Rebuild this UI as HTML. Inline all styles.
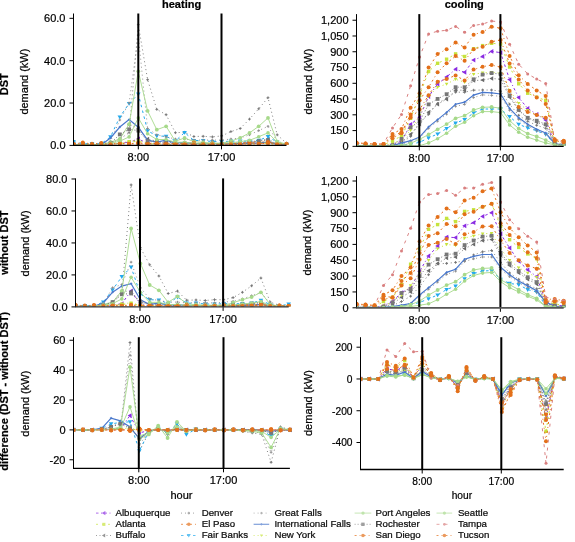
<!DOCTYPE html>
<html><head><meta charset="utf-8"><style>
html,body{margin:0;padding:0;background:#fff;width:575px;height:542px;overflow:hidden;position:relative}
text{stroke:#000;stroke-width:0.22px}
</style></head><body>
<svg width="575" height="542" viewBox="0 0 575 542" style="position:absolute;left:0;top:0;will-change:transform">
<g font-family='"Liberation Sans", sans-serif' font-size="11" fill="#000">
<clipPath id="cl_h1"><rect x="73.5" y="11.5" width="216.0" height="133.3"/></clipPath>
<g clip-path="url(#cl_h1)">
<path d="M73.5,144.8 L82.8,144.8 L92.0,144.8 L101.3,144.8 L110.5,144.3 L119.8,143.3 L129.1,142.2 L138.3,139.0 L147.6,143.3 L156.8,144.1 L166.1,144.3 L175.4,144.6 L184.6,144.6 L193.9,144.6 L203.2,144.6 L212.4,144.6 L221.7,144.6 L230.9,144.3 L240.2,144.1 L249.5,143.7 L258.7,143.3 L268.0,142.2 L277.2,144.6 L286.5,144.8" fill="none" stroke="#8a2be2" stroke-width="1" stroke-dasharray="2.5,2.5,1,2.5"/><path d="M75.2,142.4V147.2L71.1,144.8Z" fill="#8a2be2"/><path d="M84.4,142.4V147.2L80.4,144.8Z" fill="#8a2be2"/><path d="M93.7,142.4V147.2L89.6,144.8Z" fill="#8a2be2"/><path d="M103.0,142.4V147.2L98.9,144.8Z" fill="#8a2be2"/><path d="M112.2,141.9V146.7L108.1,144.3Z" fill="#8a2be2"/><path d="M121.5,140.9V145.7L117.4,143.3Z" fill="#8a2be2"/><path d="M130.7,139.8V144.6L126.7,142.2Z" fill="#8a2be2"/><path d="M140.0,136.6V141.4L135.9,139.0Z" fill="#8a2be2"/><path d="M149.3,140.9V145.7L145.2,143.3Z" fill="#8a2be2"/><path d="M158.5,141.7V146.5L154.4,144.1Z" fill="#8a2be2"/><path d="M167.8,141.9V146.7L163.7,144.3Z" fill="#8a2be2"/><path d="M177.0,142.2V147.0L173.0,144.6Z" fill="#8a2be2"/><path d="M186.3,142.2V147.0L182.2,144.6Z" fill="#8a2be2"/><path d="M195.6,142.2V147.0L191.5,144.6Z" fill="#8a2be2"/><path d="M204.8,142.2V147.0L200.8,144.6Z" fill="#8a2be2"/><path d="M214.1,142.2V147.0L210.0,144.6Z" fill="#8a2be2"/><path d="M223.4,142.2V147.0L219.3,144.6Z" fill="#8a2be2"/><path d="M232.6,141.9V146.7L228.5,144.3Z" fill="#8a2be2"/><path d="M241.9,141.7V146.5L237.8,144.1Z" fill="#8a2be2"/><path d="M251.1,141.3V146.1L247.1,143.7Z" fill="#8a2be2"/><path d="M260.4,140.9V145.7L256.3,143.3Z" fill="#8a2be2"/><path d="M269.7,139.8V144.6L265.6,142.2Z" fill="#8a2be2"/><path d="M278.9,142.2V147.0L274.8,144.6Z" fill="#8a2be2"/><path d="M288.2,142.4V147.2L284.1,144.8Z" fill="#8a2be2"/>
<path d="M73.5,144.8 L82.8,144.8 L92.0,144.8 L101.3,144.8 L110.5,144.3 L119.8,143.7 L129.1,142.2 L138.3,141.2 L147.6,143.7 L156.8,144.3 L166.1,144.6 L175.4,144.8 L184.6,144.8 L193.9,144.8 L203.2,144.8 L212.4,144.8 L221.7,144.8 L230.9,144.6 L240.2,144.3 L249.5,144.1 L258.7,143.7 L268.0,143.3 L277.2,144.8 L286.5,144.8" fill="none" stroke="#c6e33c" stroke-width="1" stroke-dasharray="2,4"/><rect x="71.8" y="143.1" width="3.4" height="3.4" fill="#c6e33c"/><rect x="81.1" y="143.1" width="3.4" height="3.4" fill="#c6e33c"/><rect x="90.3" y="143.1" width="3.4" height="3.4" fill="#c6e33c"/><rect x="99.6" y="143.1" width="3.4" height="3.4" fill="#c6e33c"/><rect x="108.8" y="142.6" width="3.4" height="3.4" fill="#c6e33c"/><rect x="118.1" y="142.0" width="3.4" height="3.4" fill="#c6e33c"/><rect x="127.4" y="140.5" width="3.4" height="3.4" fill="#c6e33c"/><rect x="136.6" y="139.5" width="3.4" height="3.4" fill="#c6e33c"/><rect x="145.9" y="142.0" width="3.4" height="3.4" fill="#c6e33c"/><rect x="155.1" y="142.6" width="3.4" height="3.4" fill="#c6e33c"/><rect x="164.4" y="142.9" width="3.4" height="3.4" fill="#c6e33c"/><rect x="173.7" y="143.1" width="3.4" height="3.4" fill="#c6e33c"/><rect x="182.9" y="143.1" width="3.4" height="3.4" fill="#c6e33c"/><rect x="192.2" y="143.1" width="3.4" height="3.4" fill="#c6e33c"/><rect x="201.5" y="143.1" width="3.4" height="3.4" fill="#c6e33c"/><rect x="210.7" y="143.1" width="3.4" height="3.4" fill="#c6e33c"/><rect x="220.0" y="143.1" width="3.4" height="3.4" fill="#c6e33c"/><rect x="229.2" y="142.9" width="3.4" height="3.4" fill="#c6e33c"/><rect x="238.5" y="142.6" width="3.4" height="3.4" fill="#c6e33c"/><rect x="247.8" y="142.4" width="3.4" height="3.4" fill="#c6e33c"/><rect x="257.0" y="142.0" width="3.4" height="3.4" fill="#c6e33c"/><rect x="266.3" y="141.6" width="3.4" height="3.4" fill="#c6e33c"/><rect x="275.5" y="143.1" width="3.4" height="3.4" fill="#c6e33c"/><rect x="284.8" y="143.1" width="3.4" height="3.4" fill="#c6e33c"/>
<path d="M73.5,145.0 L82.8,145.0 L92.0,145.0 L101.3,145.0 L110.5,143.7 L119.8,139.0 L129.1,124.2 L138.3,128.5 L147.6,139.0 L156.8,141.2 L166.1,142.2 L175.4,143.3 L184.6,143.3 L193.9,143.7 L203.2,143.7 L212.4,143.7 L221.7,143.7 L230.9,143.3 L240.2,142.9 L249.5,142.0 L258.7,140.7 L268.0,139.0 L277.2,144.3 L286.5,145.0" fill="none" stroke="#6a6a6a" stroke-width="0.9" stroke-dasharray="1,2.5"/><path d="M75.0,142.8V147.2L71.3,145.0Z" fill="#6a6a6a"/><path d="M84.3,142.8V147.2L80.6,145.0Z" fill="#6a6a6a"/><path d="M93.6,142.8V147.2L89.8,145.0Z" fill="#6a6a6a"/><path d="M102.8,142.8V147.2L99.1,145.0Z" fill="#6a6a6a"/><path d="M112.1,141.5V145.9L108.3,143.7Z" fill="#6a6a6a"/><path d="M121.3,136.8V141.2L117.6,139.0Z" fill="#6a6a6a"/><path d="M130.6,122.0V126.4L126.9,124.2Z" fill="#6a6a6a"/><path d="M139.9,126.3V130.7L136.1,128.5Z" fill="#6a6a6a"/><path d="M149.1,136.8V141.2L145.4,139.0Z" fill="#6a6a6a"/><path d="M158.4,139.0V143.4L154.6,141.2Z" fill="#6a6a6a"/><path d="M167.6,140.0V144.4L163.9,142.2Z" fill="#6a6a6a"/><path d="M176.9,141.1V145.5L173.2,143.3Z" fill="#6a6a6a"/><path d="M186.2,141.1V145.5L182.4,143.3Z" fill="#6a6a6a"/><path d="M195.4,141.5V145.9L191.7,143.7Z" fill="#6a6a6a"/><path d="M204.7,141.5V145.9L201.0,143.7Z" fill="#6a6a6a"/><path d="M214.0,141.5V145.9L210.2,143.7Z" fill="#6a6a6a"/><path d="M223.2,141.5V145.9L219.5,143.7Z" fill="#6a6a6a"/><path d="M232.5,141.1V145.5L228.7,143.3Z" fill="#6a6a6a"/><path d="M241.7,140.7V145.1L238.0,142.9Z" fill="#6a6a6a"/><path d="M251.0,139.8V144.2L247.3,142.0Z" fill="#6a6a6a"/><path d="M260.3,138.5V142.9L256.5,140.7Z" fill="#6a6a6a"/><path d="M269.5,136.8V141.2L265.8,139.0Z" fill="#6a6a6a"/><path d="M278.8,142.1V146.5L275.0,144.3Z" fill="#6a6a6a"/><path d="M288.0,142.8V147.2L284.3,145.0Z" fill="#6a6a6a"/>
<path d="M73.5,144.3 L82.8,144.3 L92.0,144.3 L101.3,144.1 L110.5,143.3 L119.8,139.0 L129.1,132.7 L138.3,24.7 L147.6,79.7 L156.8,109.4 L166.1,114.7 L175.4,132.7 L184.6,132.3 L193.9,136.5 L203.2,136.3 L212.4,136.9 L221.7,135.9 L230.9,131.6 L240.2,128.5 L249.5,119.1 L258.7,108.8 L268.0,97.7 L277.2,134.8 L286.5,143.3" fill="none" stroke="#707070" stroke-width="0.9" stroke-dasharray="1,3"/><path d="M72.1,144.3H74.9M73.5,142.9V145.7" stroke="#707070" stroke-width="0.9" fill="none"/><path d="M81.4,144.3H84.2M82.8,142.9V145.7" stroke="#707070" stroke-width="0.9" fill="none"/><path d="M90.6,144.3H93.4M92.0,142.9V145.7" stroke="#707070" stroke-width="0.9" fill="none"/><path d="M99.9,144.1H102.7M101.3,142.7V145.5" stroke="#707070" stroke-width="0.9" fill="none"/><path d="M109.1,143.3H111.9M110.5,141.9V144.7" stroke="#707070" stroke-width="0.9" fill="none"/><path d="M118.4,139.0H121.2M119.8,137.6V140.4" stroke="#707070" stroke-width="0.9" fill="none"/><path d="M127.7,132.7H130.5M129.1,131.3V134.1" stroke="#707070" stroke-width="0.9" fill="none"/><path d="M136.9,24.7H139.7M138.3,23.3V26.1" stroke="#707070" stroke-width="0.9" fill="none"/><path d="M146.2,79.7H149.0M147.6,78.3V81.1" stroke="#707070" stroke-width="0.9" fill="none"/><path d="M155.4,109.4H158.2M156.8,108.0V110.8" stroke="#707070" stroke-width="0.9" fill="none"/><path d="M164.7,114.7H167.5M166.1,113.3V116.1" stroke="#707070" stroke-width="0.9" fill="none"/><path d="M174.0,132.7H176.8M175.4,131.3V134.1" stroke="#707070" stroke-width="0.9" fill="none"/><path d="M183.2,132.3H186.0M184.6,130.9V133.7" stroke="#707070" stroke-width="0.9" fill="none"/><path d="M192.5,136.5H195.3M193.9,135.1V137.9" stroke="#707070" stroke-width="0.9" fill="none"/><path d="M201.8,136.3H204.6M203.2,134.9V137.7" stroke="#707070" stroke-width="0.9" fill="none"/><path d="M211.0,136.9H213.8M212.4,135.5V138.3" stroke="#707070" stroke-width="0.9" fill="none"/><path d="M220.3,135.9H223.1M221.7,134.5V137.3" stroke="#707070" stroke-width="0.9" fill="none"/><path d="M229.5,131.6H232.3M230.9,130.2V133.0" stroke="#707070" stroke-width="0.9" fill="none"/><path d="M238.8,128.5H241.6M240.2,127.1V129.9" stroke="#707070" stroke-width="0.9" fill="none"/><path d="M248.1,119.1H250.9M249.5,117.7V120.5" stroke="#707070" stroke-width="0.9" fill="none"/><path d="M257.3,108.8H260.1M258.7,107.4V110.2" stroke="#707070" stroke-width="0.9" fill="none"/><path d="M266.6,97.7H269.4M268.0,96.3V99.1" stroke="#707070" stroke-width="0.9" fill="none"/><path d="M275.8,134.8H278.6M277.2,133.4V136.2" stroke="#707070" stroke-width="0.9" fill="none"/><path d="M285.1,143.3H287.9M286.5,141.9V144.7" stroke="#707070" stroke-width="0.9" fill="none"/>
<path d="M73.5,143.7 L82.8,143.5 L92.0,143.7 L101.3,143.5 L110.5,143.7 L119.8,142.9 L129.1,143.3 L138.3,143.5 L147.6,142.9 L156.8,143.7 L166.1,143.1 L175.4,143.7 L184.6,142.9 L193.9,143.7 L203.2,143.3 L212.4,143.5 L221.7,143.5 L230.9,143.3 L240.2,143.1 L249.5,142.4 L258.7,142.0 L268.0,142.2 L277.2,143.5 L286.5,143.7" fill="none" stroke="#e3701a" stroke-width="1" stroke-dasharray="2,3,1,3"/><circle cx="73.5" cy="143.7" r="2.0" fill="#e3701a"/><circle cx="82.8" cy="143.5" r="2.0" fill="#e3701a"/><circle cx="92.0" cy="143.7" r="2.0" fill="#e3701a"/><circle cx="101.3" cy="143.5" r="2.0" fill="#e3701a"/><circle cx="110.5" cy="143.7" r="2.0" fill="#e3701a"/><circle cx="119.8" cy="142.9" r="2.0" fill="#e3701a"/><circle cx="129.1" cy="143.3" r="2.0" fill="#e3701a"/><circle cx="138.3" cy="143.5" r="2.0" fill="#e3701a"/><circle cx="147.6" cy="142.9" r="2.0" fill="#e3701a"/><circle cx="156.8" cy="143.7" r="2.0" fill="#e3701a"/><circle cx="166.1" cy="143.1" r="2.0" fill="#e3701a"/><circle cx="175.4" cy="143.7" r="2.0" fill="#e3701a"/><circle cx="184.6" cy="142.9" r="2.0" fill="#e3701a"/><circle cx="193.9" cy="143.7" r="2.0" fill="#e3701a"/><circle cx="203.2" cy="143.3" r="2.0" fill="#e3701a"/><circle cx="212.4" cy="143.5" r="2.0" fill="#e3701a"/><circle cx="221.7" cy="143.5" r="2.0" fill="#e3701a"/><circle cx="230.9" cy="143.3" r="2.0" fill="#e3701a"/><circle cx="240.2" cy="143.1" r="2.0" fill="#e3701a"/><circle cx="249.5" cy="142.4" r="2.0" fill="#e3701a"/><circle cx="258.7" cy="142.0" r="2.0" fill="#e3701a"/><circle cx="268.0" cy="142.2" r="2.0" fill="#e3701a"/><circle cx="277.2" cy="143.5" r="2.0" fill="#e3701a"/><circle cx="286.5" cy="143.7" r="2.0" fill="#e3701a"/>
<path d="M73.5,141.6 L82.8,143.7 L92.0,143.7 L101.3,143.7 L110.5,136.9 L119.8,117.0 L129.1,103.5 L138.3,94.1 L147.6,130.8 L156.8,135.9 L166.1,136.3 L175.4,141.0 L184.6,132.5 L193.9,140.5 L203.2,140.5 L212.4,141.6 L221.7,141.6 L230.9,141.2 L240.2,141.2 L249.5,141.2 L258.7,140.3 L268.0,136.7 L277.2,142.2 L286.5,144.3" fill="none" stroke="#22aaee" stroke-width="1" stroke-dasharray="2.5,3.5"/><path d="M71.2,140.0H75.8L73.5,143.9Z" fill="#22aaee"/><path d="M80.5,142.1H85.1L82.8,146.0Z" fill="#22aaee"/><path d="M89.7,142.1H94.3L92.0,146.0Z" fill="#22aaee"/><path d="M99.0,142.1H103.6L101.3,146.0Z" fill="#22aaee"/><path d="M108.2,135.3H112.8L110.5,139.2Z" fill="#22aaee"/><path d="M117.5,115.4H122.1L119.8,119.3Z" fill="#22aaee"/><path d="M126.8,101.9H131.4L129.1,105.8Z" fill="#22aaee"/><path d="M136.0,92.5H140.6L138.3,96.4Z" fill="#22aaee"/><path d="M145.3,129.2H149.9L147.6,133.1Z" fill="#22aaee"/><path d="M154.5,134.3H159.1L156.8,138.2Z" fill="#22aaee"/><path d="M163.8,134.7H168.4L166.1,138.6Z" fill="#22aaee"/><path d="M173.1,139.3H177.7L175.4,143.3Z" fill="#22aaee"/><path d="M182.3,130.9H186.9L184.6,134.8Z" fill="#22aaee"/><path d="M191.6,138.9H196.2L193.9,142.8Z" fill="#22aaee"/><path d="M200.9,138.9H205.5L203.2,142.8Z" fill="#22aaee"/><path d="M210.1,140.0H214.7L212.4,143.9Z" fill="#22aaee"/><path d="M219.4,140.0H224.0L221.7,143.9Z" fill="#22aaee"/><path d="M228.6,139.6H233.2L230.9,143.5Z" fill="#22aaee"/><path d="M237.9,139.6H242.5L240.2,143.5Z" fill="#22aaee"/><path d="M247.2,139.6H251.8L249.5,143.5Z" fill="#22aaee"/><path d="M256.4,138.7H261.0L258.7,142.6Z" fill="#22aaee"/><path d="M265.7,135.1H270.3L268.0,139.0Z" fill="#22aaee"/><path d="M274.9,140.6H279.5L277.2,144.5Z" fill="#22aaee"/><path d="M284.2,142.7H288.8L286.5,146.6Z" fill="#22aaee"/>
<path d="M73.5,144.8 L82.8,144.8 L92.0,144.8 L101.3,144.6 L110.5,141.2 L119.8,120.0 L129.1,103.0 L138.3,35.3 L147.6,128.5 L156.8,134.8 L166.1,136.9 L175.4,139.0 L184.6,139.0 L193.9,140.1 L203.2,140.1 L212.4,140.1 L221.7,140.1 L230.9,139.0 L240.2,138.0 L249.5,134.8 L258.7,130.6 L268.0,126.3 L277.2,141.2 L286.5,144.3" fill="none" stroke="#8a8a8a" stroke-width="0.9" stroke-dasharray="1,3"/><path d="M72.2,144.8H74.8M73.5,143.5V146.1" stroke="#8a8a8a" stroke-width="0.9" fill="none"/><path d="M81.5,144.8H84.1M82.8,143.5V146.1" stroke="#8a8a8a" stroke-width="0.9" fill="none"/><path d="M90.7,144.8H93.3M92.0,143.5V146.1" stroke="#8a8a8a" stroke-width="0.9" fill="none"/><path d="M100.0,144.6H102.6M101.3,143.3V145.9" stroke="#8a8a8a" stroke-width="0.9" fill="none"/><path d="M109.2,141.2H111.8M110.5,139.9V142.5" stroke="#8a8a8a" stroke-width="0.9" fill="none"/><path d="M118.5,120.0H121.1M119.8,118.7V121.3" stroke="#8a8a8a" stroke-width="0.9" fill="none"/><path d="M127.8,103.0H130.4M129.1,101.7V104.3" stroke="#8a8a8a" stroke-width="0.9" fill="none"/><path d="M137.0,35.3H139.6M138.3,34.0V36.6" stroke="#8a8a8a" stroke-width="0.9" fill="none"/><path d="M146.3,128.5H148.9M147.6,127.2V129.8" stroke="#8a8a8a" stroke-width="0.9" fill="none"/><path d="M155.5,134.8H158.1M156.8,133.5V136.1" stroke="#8a8a8a" stroke-width="0.9" fill="none"/><path d="M164.8,136.9H167.4M166.1,135.6V138.2" stroke="#8a8a8a" stroke-width="0.9" fill="none"/><path d="M174.1,139.0H176.7M175.4,137.7V140.3" stroke="#8a8a8a" stroke-width="0.9" fill="none"/><path d="M183.3,139.0H185.9M184.6,137.7V140.3" stroke="#8a8a8a" stroke-width="0.9" fill="none"/><path d="M192.6,140.1H195.2M193.9,138.8V141.4" stroke="#8a8a8a" stroke-width="0.9" fill="none"/><path d="M201.9,140.1H204.5M203.2,138.8V141.4" stroke="#8a8a8a" stroke-width="0.9" fill="none"/><path d="M211.1,140.1H213.7M212.4,138.8V141.4" stroke="#8a8a8a" stroke-width="0.9" fill="none"/><path d="M220.4,140.1H223.0M221.7,138.8V141.4" stroke="#8a8a8a" stroke-width="0.9" fill="none"/><path d="M229.6,139.0H232.2M230.9,137.7V140.3" stroke="#8a8a8a" stroke-width="0.9" fill="none"/><path d="M238.9,138.0H241.5M240.2,136.7V139.3" stroke="#8a8a8a" stroke-width="0.9" fill="none"/><path d="M248.2,134.8H250.8M249.5,133.5V136.1" stroke="#8a8a8a" stroke-width="0.9" fill="none"/><path d="M257.4,130.6H260.0M258.7,129.3V131.9" stroke="#8a8a8a" stroke-width="0.9" fill="none"/><path d="M266.7,126.3H269.3M268.0,125.0V127.6" stroke="#8a8a8a" stroke-width="0.9" fill="none"/><path d="M275.9,141.2H278.5M277.2,139.9V142.5" stroke="#8a8a8a" stroke-width="0.9" fill="none"/><path d="M285.2,144.3H287.8M286.5,143.0V145.6" stroke="#8a8a8a" stroke-width="0.9" fill="none"/>
<path d="M73.5,144.8 L82.8,144.8 L92.0,144.8 L101.3,144.8 L110.5,138.0 L119.8,127.0 L129.1,119.6 L138.3,127.2 L147.6,140.1 L156.8,142.2 L166.1,140.1 L175.4,143.1 L184.6,142.4 L193.9,143.5 L203.2,143.7 L212.4,143.7 L221.7,143.7 L230.9,143.7 L240.2,143.5 L249.5,143.3 L258.7,142.9 L268.0,142.2 L277.2,144.3 L286.5,144.8" fill="none" stroke="#4a78cc" stroke-width="1.2"/><path d="M72.3,144.8H74.7M73.5,143.6V146.0" stroke="#4a78cc" stroke-width="0.9" fill="none"/><path d="M81.6,144.8H84.0M82.8,143.6V146.0" stroke="#4a78cc" stroke-width="0.9" fill="none"/><path d="M90.8,144.8H93.2M92.0,143.6V146.0" stroke="#4a78cc" stroke-width="0.9" fill="none"/><path d="M100.1,144.8H102.5M101.3,143.6V146.0" stroke="#4a78cc" stroke-width="0.9" fill="none"/><path d="M109.3,138.0H111.7M110.5,136.8V139.2" stroke="#4a78cc" stroke-width="0.9" fill="none"/><path d="M118.6,127.0H121.0M119.8,125.8V128.2" stroke="#4a78cc" stroke-width="0.9" fill="none"/><path d="M127.9,119.6H130.3M129.1,118.4V120.8" stroke="#4a78cc" stroke-width="0.9" fill="none"/><path d="M137.1,127.2H139.5M138.3,126.0V128.4" stroke="#4a78cc" stroke-width="0.9" fill="none"/><path d="M146.4,140.1H148.8M147.6,138.9V141.3" stroke="#4a78cc" stroke-width="0.9" fill="none"/><path d="M155.6,142.2H158.0M156.8,141.0V143.4" stroke="#4a78cc" stroke-width="0.9" fill="none"/><path d="M164.9,140.1H167.3M166.1,138.9V141.3" stroke="#4a78cc" stroke-width="0.9" fill="none"/><path d="M174.2,143.1H176.6M175.4,141.9V144.3" stroke="#4a78cc" stroke-width="0.9" fill="none"/><path d="M183.4,142.4H185.8M184.6,141.2V143.6" stroke="#4a78cc" stroke-width="0.9" fill="none"/><path d="M192.7,143.5H195.1M193.9,142.3V144.7" stroke="#4a78cc" stroke-width="0.9" fill="none"/><path d="M202.0,143.7H204.4M203.2,142.5V144.9" stroke="#4a78cc" stroke-width="0.9" fill="none"/><path d="M211.2,143.7H213.6M212.4,142.5V144.9" stroke="#4a78cc" stroke-width="0.9" fill="none"/><path d="M220.5,143.7H222.9M221.7,142.5V144.9" stroke="#4a78cc" stroke-width="0.9" fill="none"/><path d="M229.7,143.7H232.1M230.9,142.5V144.9" stroke="#4a78cc" stroke-width="0.9" fill="none"/><path d="M239.0,143.5H241.4M240.2,142.3V144.7" stroke="#4a78cc" stroke-width="0.9" fill="none"/><path d="M248.3,143.3H250.7M249.5,142.1V144.5" stroke="#4a78cc" stroke-width="0.9" fill="none"/><path d="M257.5,142.9H259.9M258.7,141.7V144.1" stroke="#4a78cc" stroke-width="0.9" fill="none"/><path d="M266.8,142.2H269.2M268.0,141.0V143.4" stroke="#4a78cc" stroke-width="0.9" fill="none"/><path d="M276.0,144.3H278.4M277.2,143.1V145.5" stroke="#4a78cc" stroke-width="0.9" fill="none"/><path d="M285.3,144.8H287.7M286.5,143.6V146.0" stroke="#4a78cc" stroke-width="0.9" fill="none"/>
<path d="M73.5,144.8 L82.8,144.8 L92.0,144.8 L101.3,144.8 L110.5,144.3 L119.8,143.3 L129.1,141.2 L138.3,140.1 L147.6,143.3 L156.8,144.1 L166.1,144.3 L175.4,144.6 L184.6,144.6 L193.9,144.6 L203.2,144.6 L212.4,144.6 L221.7,144.6 L230.9,144.3 L240.2,143.9 L249.5,143.5 L258.7,142.9 L268.0,142.0 L277.2,144.6 L286.5,144.8" fill="none" stroke="#c6e33c" stroke-width="1" stroke-dasharray="1,3"/><path d="M71.7,143.5H75.3L73.5,146.6Z" fill="#c6e33c"/><path d="M81.0,143.5H84.6L82.8,146.6Z" fill="#c6e33c"/><path d="M90.2,143.5H93.8L92.0,146.6Z" fill="#c6e33c"/><path d="M99.5,143.5H103.1L101.3,146.6Z" fill="#c6e33c"/><path d="M108.7,143.1H112.3L110.5,146.1Z" fill="#c6e33c"/><path d="M118.0,142.0H121.6L119.8,145.1Z" fill="#c6e33c"/><path d="M127.3,139.9H130.9L129.1,143.0Z" fill="#c6e33c"/><path d="M136.5,138.8H140.1L138.3,141.9Z" fill="#c6e33c"/><path d="M145.8,142.0H149.4L147.6,145.1Z" fill="#c6e33c"/><path d="M155.0,142.9H158.6L156.8,145.9Z" fill="#c6e33c"/><path d="M164.3,143.1H167.9L166.1,146.1Z" fill="#c6e33c"/><path d="M173.6,143.3H177.2L175.4,146.4Z" fill="#c6e33c"/><path d="M182.8,143.3H186.4L184.6,146.4Z" fill="#c6e33c"/><path d="M192.1,143.3H195.7L193.9,146.4Z" fill="#c6e33c"/><path d="M201.4,143.3H205.0L203.2,146.4Z" fill="#c6e33c"/><path d="M210.6,143.3H214.2L212.4,146.4Z" fill="#c6e33c"/><path d="M219.9,143.3H223.5L221.7,146.4Z" fill="#c6e33c"/><path d="M229.1,143.1H232.7L230.9,146.1Z" fill="#c6e33c"/><path d="M238.4,142.7H242.0L240.2,145.7Z" fill="#c6e33c"/><path d="M247.7,142.2H251.3L249.5,145.3Z" fill="#c6e33c"/><path d="M256.9,141.6H260.5L258.7,144.7Z" fill="#c6e33c"/><path d="M266.2,140.8H269.8L268.0,143.8Z" fill="#c6e33c"/><path d="M275.4,143.3H279.0L277.2,146.4Z" fill="#c6e33c"/><path d="M284.7,143.5H288.3L286.5,146.6Z" fill="#c6e33c"/>
<path d="M73.5,144.8 L82.8,144.8 L92.0,144.8 L101.3,144.6 L110.5,142.2 L119.8,139.0 L129.1,124.2 L138.3,71.3 L147.6,110.9 L156.8,129.7 L166.1,126.3 L175.4,141.2 L184.6,138.0 L193.9,141.6 L203.2,142.4 L212.4,143.3 L221.7,143.3 L230.9,141.2 L240.2,137.8 L249.5,132.9 L258.7,126.3 L268.0,117.9 L277.2,141.6 L286.5,144.3" fill="none" stroke="#a6d98a" stroke-width="0.9"/><circle cx="73.5" cy="144.8" r="1.9" fill="#a6d98a"/><circle cx="82.8" cy="144.8" r="1.9" fill="#a6d98a"/><circle cx="92.0" cy="144.8" r="1.9" fill="#a6d98a"/><circle cx="101.3" cy="144.6" r="1.9" fill="#a6d98a"/><circle cx="110.5" cy="142.2" r="1.9" fill="#a6d98a"/><circle cx="119.8" cy="139.0" r="1.9" fill="#a6d98a"/><circle cx="129.1" cy="124.2" r="1.9" fill="#a6d98a"/><circle cx="138.3" cy="71.3" r="1.9" fill="#a6d98a"/><circle cx="147.6" cy="110.9" r="1.9" fill="#a6d98a"/><circle cx="156.8" cy="129.7" r="1.9" fill="#a6d98a"/><circle cx="166.1" cy="126.3" r="1.9" fill="#a6d98a"/><circle cx="175.4" cy="141.2" r="1.9" fill="#a6d98a"/><circle cx="184.6" cy="138.0" r="1.9" fill="#a6d98a"/><circle cx="193.9" cy="141.6" r="1.9" fill="#a6d98a"/><circle cx="203.2" cy="142.4" r="1.9" fill="#a6d98a"/><circle cx="212.4" cy="143.3" r="1.9" fill="#a6d98a"/><circle cx="221.7" cy="143.3" r="1.9" fill="#a6d98a"/><circle cx="230.9" cy="141.2" r="1.9" fill="#a6d98a"/><circle cx="240.2" cy="137.8" r="1.9" fill="#a6d98a"/><circle cx="249.5" cy="132.9" r="1.9" fill="#a6d98a"/><circle cx="258.7" cy="126.3" r="1.9" fill="#a6d98a"/><circle cx="268.0" cy="117.9" r="1.9" fill="#a6d98a"/><circle cx="277.2" cy="141.6" r="1.9" fill="#a6d98a"/><circle cx="286.5" cy="144.3" r="1.9" fill="#a6d98a"/>
<path d="M73.5,145.0 L82.8,145.0 L92.0,145.0 L101.3,145.0 L110.5,143.3 L119.8,134.4 L129.1,129.3 L138.3,130.6 L147.6,141.2 L156.8,142.2 L166.1,142.9 L175.4,143.7 L184.6,143.7 L193.9,144.1 L203.2,144.1 L212.4,144.1 L221.7,144.1 L230.9,143.7 L240.2,143.3 L249.5,142.2 L258.7,141.2 L268.0,140.1 L277.2,144.3 L286.5,145.0" fill="none" stroke="#777777" stroke-width="1" stroke-dasharray="1,2"/><rect x="71.6" y="143.1" width="3.8" height="3.8" fill="#777777"/><rect x="80.9" y="143.1" width="3.8" height="3.8" fill="#777777"/><rect x="90.1" y="143.1" width="3.8" height="3.8" fill="#777777"/><rect x="99.4" y="143.1" width="3.8" height="3.8" fill="#777777"/><rect x="108.6" y="141.4" width="3.8" height="3.8" fill="#777777"/><rect x="117.9" y="132.5" width="3.8" height="3.8" fill="#777777"/><rect x="127.2" y="127.4" width="3.8" height="3.8" fill="#777777"/><rect x="136.4" y="128.7" width="3.8" height="3.8" fill="#777777"/><rect x="145.7" y="139.3" width="3.8" height="3.8" fill="#777777"/><rect x="154.9" y="140.3" width="3.8" height="3.8" fill="#777777"/><rect x="164.2" y="141.0" width="3.8" height="3.8" fill="#777777"/><rect x="173.5" y="141.8" width="3.8" height="3.8" fill="#777777"/><rect x="182.7" y="141.8" width="3.8" height="3.8" fill="#777777"/><rect x="192.0" y="142.2" width="3.8" height="3.8" fill="#777777"/><rect x="201.3" y="142.2" width="3.8" height="3.8" fill="#777777"/><rect x="210.5" y="142.2" width="3.8" height="3.8" fill="#777777"/><rect x="219.8" y="142.2" width="3.8" height="3.8" fill="#777777"/><rect x="229.0" y="141.8" width="3.8" height="3.8" fill="#777777"/><rect x="238.3" y="141.4" width="3.8" height="3.8" fill="#777777"/><rect x="247.6" y="140.3" width="3.8" height="3.8" fill="#777777"/><rect x="256.8" y="139.3" width="3.8" height="3.8" fill="#777777"/><rect x="266.1" y="138.2" width="3.8" height="3.8" fill="#777777"/><rect x="275.3" y="142.4" width="3.8" height="3.8" fill="#777777"/><rect x="284.6" y="143.1" width="3.8" height="3.8" fill="#777777"/>
<path d="M73.5,144.1 L82.8,142.4 L92.0,144.1 L101.3,142.9 L110.5,144.1 L119.8,143.3 L129.1,144.1 L138.3,142.6 L147.6,144.1 L156.8,143.3 L166.1,144.1 L175.4,143.3 L184.6,144.1 L193.9,142.6 L203.2,144.1 L212.4,143.3 L221.7,144.1 L230.9,142.9 L240.2,143.9 L249.5,142.4 L258.7,143.9 L268.0,142.0 L277.2,144.1 L286.5,143.7" fill="none" stroke="#e3701a" stroke-width="1" stroke-dasharray="2,3,1,3"/><circle cx="73.5" cy="144.1" r="2.0" fill="#e3701a"/><circle cx="82.8" cy="142.4" r="2.0" fill="#e3701a"/><circle cx="92.0" cy="144.1" r="2.0" fill="#e3701a"/><circle cx="101.3" cy="142.9" r="2.0" fill="#e3701a"/><circle cx="110.5" cy="144.1" r="2.0" fill="#e3701a"/><circle cx="119.8" cy="143.3" r="2.0" fill="#e3701a"/><circle cx="129.1" cy="144.1" r="2.0" fill="#e3701a"/><circle cx="138.3" cy="142.6" r="2.0" fill="#e3701a"/><circle cx="147.6" cy="144.1" r="2.0" fill="#e3701a"/><circle cx="156.8" cy="143.3" r="2.0" fill="#e3701a"/><circle cx="166.1" cy="144.1" r="2.0" fill="#e3701a"/><circle cx="175.4" cy="143.3" r="2.0" fill="#e3701a"/><circle cx="184.6" cy="144.1" r="2.0" fill="#e3701a"/><circle cx="193.9" cy="142.6" r="2.0" fill="#e3701a"/><circle cx="203.2" cy="144.1" r="2.0" fill="#e3701a"/><circle cx="212.4" cy="143.3" r="2.0" fill="#e3701a"/><circle cx="221.7" cy="144.1" r="2.0" fill="#e3701a"/><circle cx="230.9" cy="142.9" r="2.0" fill="#e3701a"/><circle cx="240.2" cy="143.9" r="2.0" fill="#e3701a"/><circle cx="249.5" cy="142.4" r="2.0" fill="#e3701a"/><circle cx="258.7" cy="143.9" r="2.0" fill="#e3701a"/><circle cx="268.0" cy="142.0" r="2.0" fill="#e3701a"/><circle cx="277.2" cy="144.1" r="2.0" fill="#e3701a"/><circle cx="286.5" cy="143.7" r="2.0" fill="#e3701a"/>
<path d="M73.5,144.8 L82.8,144.8 L92.0,144.8 L101.3,144.8 L110.5,143.3 L119.8,141.2 L129.1,136.9 L138.3,117.9 L147.6,133.8 L156.8,139.5 L166.1,139.5 L175.4,142.2 L184.6,142.2 L193.9,143.3 L203.2,143.3 L212.4,143.3 L221.7,143.3 L230.9,142.9 L240.2,141.6 L249.5,140.3 L258.7,136.7 L268.0,132.9 L277.2,142.2 L286.5,144.3" fill="none" stroke="#a6d98a" stroke-width="0.9"/><circle cx="73.5" cy="144.8" r="1.8" fill="#a6d98a"/><circle cx="82.8" cy="144.8" r="1.8" fill="#a6d98a"/><circle cx="92.0" cy="144.8" r="1.8" fill="#a6d98a"/><circle cx="101.3" cy="144.8" r="1.8" fill="#a6d98a"/><circle cx="110.5" cy="143.3" r="1.8" fill="#a6d98a"/><circle cx="119.8" cy="141.2" r="1.8" fill="#a6d98a"/><circle cx="129.1" cy="136.9" r="1.8" fill="#a6d98a"/><circle cx="138.3" cy="117.9" r="1.8" fill="#a6d98a"/><circle cx="147.6" cy="133.8" r="1.8" fill="#a6d98a"/><circle cx="156.8" cy="139.5" r="1.8" fill="#a6d98a"/><circle cx="166.1" cy="139.5" r="1.8" fill="#a6d98a"/><circle cx="175.4" cy="142.2" r="1.8" fill="#a6d98a"/><circle cx="184.6" cy="142.2" r="1.8" fill="#a6d98a"/><circle cx="193.9" cy="143.3" r="1.8" fill="#a6d98a"/><circle cx="203.2" cy="143.3" r="1.8" fill="#a6d98a"/><circle cx="212.4" cy="143.3" r="1.8" fill="#a6d98a"/><circle cx="221.7" cy="143.3" r="1.8" fill="#a6d98a"/><circle cx="230.9" cy="142.9" r="1.8" fill="#a6d98a"/><circle cx="240.2" cy="141.6" r="1.8" fill="#a6d98a"/><circle cx="249.5" cy="140.3" r="1.8" fill="#a6d98a"/><circle cx="258.7" cy="136.7" r="1.8" fill="#a6d98a"/><circle cx="268.0" cy="132.9" r="1.8" fill="#a6d98a"/><circle cx="277.2" cy="142.2" r="1.8" fill="#a6d98a"/><circle cx="286.5" cy="144.3" r="1.8" fill="#a6d98a"/>
<path d="M73.5,145.2 L82.8,145.2 L92.0,145.2 L101.3,145.2 L110.5,145.2 L119.8,145.2 L129.1,145.2 L138.3,145.2 L147.6,145.2 L156.8,145.2 L166.1,145.2 L175.4,145.2 L184.6,145.2 L193.9,145.2 L203.2,145.2 L212.4,145.2 L221.7,145.2 L230.9,145.2 L240.2,145.2 L249.5,145.2 L258.7,145.2 L268.0,145.2 L277.2,145.2 L286.5,145.2" fill="none" stroke="#d98080" stroke-width="1.0" stroke-dasharray="3,5"/><circle cx="73.5" cy="145.2" r="1.5" fill="#d98080"/><circle cx="82.8" cy="145.2" r="1.5" fill="#d98080"/><circle cx="92.0" cy="145.2" r="1.5" fill="#d98080"/><circle cx="101.3" cy="145.2" r="1.5" fill="#d98080"/><circle cx="110.5" cy="145.2" r="1.5" fill="#d98080"/><circle cx="119.8" cy="145.2" r="1.5" fill="#d98080"/><circle cx="129.1" cy="145.2" r="1.5" fill="#d98080"/><circle cx="138.3" cy="145.2" r="1.5" fill="#d98080"/><circle cx="147.6" cy="145.2" r="1.5" fill="#d98080"/><circle cx="156.8" cy="145.2" r="1.5" fill="#d98080"/><circle cx="166.1" cy="145.2" r="1.5" fill="#d98080"/><circle cx="175.4" cy="145.2" r="1.5" fill="#d98080"/><circle cx="184.6" cy="145.2" r="1.5" fill="#d98080"/><circle cx="193.9" cy="145.2" r="1.5" fill="#d98080"/><circle cx="203.2" cy="145.2" r="1.5" fill="#d98080"/><circle cx="212.4" cy="145.2" r="1.5" fill="#d98080"/><circle cx="221.7" cy="145.2" r="1.5" fill="#d98080"/><circle cx="230.9" cy="145.2" r="1.5" fill="#d98080"/><circle cx="240.2" cy="145.2" r="1.5" fill="#d98080"/><circle cx="249.5" cy="145.2" r="1.5" fill="#d98080"/><circle cx="258.7" cy="145.2" r="1.5" fill="#d98080"/><circle cx="268.0" cy="145.2" r="1.5" fill="#d98080"/><circle cx="277.2" cy="145.2" r="1.5" fill="#d98080"/><circle cx="286.5" cy="145.2" r="1.5" fill="#d98080"/>
<path d="M73.5,144.3 L82.8,144.3 L92.0,144.3 L101.3,144.3 L110.5,144.3 L119.8,143.7 L129.1,143.9 L138.3,144.1 L147.6,144.3 L156.8,144.3 L166.1,144.3 L175.4,144.3 L184.6,144.3 L193.9,144.3 L203.2,144.3 L212.4,144.3 L221.7,144.3 L230.9,144.3 L240.2,144.3 L249.5,144.1 L258.7,143.7 L268.0,143.3 L277.2,144.3 L286.5,144.3" fill="none" stroke="#e3701a" stroke-width="1" stroke-dasharray="2,3,1,3"/><circle cx="73.5" cy="144.3" r="2.0" fill="#e3701a"/><circle cx="82.8" cy="144.3" r="2.0" fill="#e3701a"/><circle cx="92.0" cy="144.3" r="2.0" fill="#e3701a"/><circle cx="101.3" cy="144.3" r="2.0" fill="#e3701a"/><circle cx="110.5" cy="144.3" r="2.0" fill="#e3701a"/><circle cx="119.8" cy="143.7" r="2.0" fill="#e3701a"/><circle cx="129.1" cy="143.9" r="2.0" fill="#e3701a"/><circle cx="138.3" cy="144.1" r="2.0" fill="#e3701a"/><circle cx="147.6" cy="144.3" r="2.0" fill="#e3701a"/><circle cx="156.8" cy="144.3" r="2.0" fill="#e3701a"/><circle cx="166.1" cy="144.3" r="2.0" fill="#e3701a"/><circle cx="175.4" cy="144.3" r="2.0" fill="#e3701a"/><circle cx="184.6" cy="144.3" r="2.0" fill="#e3701a"/><circle cx="193.9" cy="144.3" r="2.0" fill="#e3701a"/><circle cx="203.2" cy="144.3" r="2.0" fill="#e3701a"/><circle cx="212.4" cy="144.3" r="2.0" fill="#e3701a"/><circle cx="221.7" cy="144.3" r="2.0" fill="#e3701a"/><circle cx="230.9" cy="144.3" r="2.0" fill="#e3701a"/><circle cx="240.2" cy="144.3" r="2.0" fill="#e3701a"/><circle cx="249.5" cy="144.1" r="2.0" fill="#e3701a"/><circle cx="258.7" cy="143.7" r="2.0" fill="#e3701a"/><circle cx="268.0" cy="143.3" r="2.0" fill="#e3701a"/><circle cx="277.2" cy="144.3" r="2.0" fill="#e3701a"/><circle cx="286.5" cy="144.3" r="2.0" fill="#e3701a"/>
</g>
<clipPath id="cl_c1"><rect x="356.5" y="12.1" width="210.20000000000005" height="133.70000000000002"/></clipPath>
<g clip-path="url(#cl_c1)">
<path d="M356.5,145.8 L365.5,145.8 L374.5,145.8 L383.5,145.8 L392.5,144.3 L401.5,141.3 L410.6,124.3 L419.6,117.3 L428.6,96.5 L437.6,84.0 L446.6,77.0 L455.6,69.2 L464.6,72.3 L473.6,60.1 L482.6,56.5 L491.6,51.4 L500.6,52.6 L509.6,79.6 L518.7,97.6 L527.7,108.4 L536.7,114.3 L545.7,120.0 L554.7,143.7 L563.7,144.3" fill="none" stroke="#8a2be2" stroke-width="1" stroke-dasharray="2.5,2.5,1,2.5"/><path d="M358.2,143.4V148.2L354.1,145.8Z" fill="#8a2be2"/><path d="M367.2,143.4V148.2L363.1,145.8Z" fill="#8a2be2"/><path d="M376.2,143.4V148.2L372.1,145.8Z" fill="#8a2be2"/><path d="M385.2,143.4V148.2L381.1,145.8Z" fill="#8a2be2"/><path d="M394.2,141.9V146.7L390.1,144.3Z" fill="#8a2be2"/><path d="M403.2,138.9V143.7L399.1,141.3Z" fill="#8a2be2"/><path d="M412.2,121.9V126.7L408.2,124.3Z" fill="#8a2be2"/><path d="M421.2,114.9V119.7L417.2,117.3Z" fill="#8a2be2"/><path d="M430.2,94.1V98.9L426.2,96.5Z" fill="#8a2be2"/><path d="M439.3,81.6V86.4L435.2,84.0Z" fill="#8a2be2"/><path d="M448.3,74.6V79.4L444.2,77.0Z" fill="#8a2be2"/><path d="M457.3,66.8V71.6L453.2,69.2Z" fill="#8a2be2"/><path d="M466.3,69.9V74.7L462.2,72.3Z" fill="#8a2be2"/><path d="M475.3,57.7V62.5L471.2,60.1Z" fill="#8a2be2"/><path d="M484.3,54.1V58.9L480.2,56.5Z" fill="#8a2be2"/><path d="M493.3,49.0V53.8L489.2,51.4Z" fill="#8a2be2"/><path d="M502.3,50.2V55.0L498.2,52.6Z" fill="#8a2be2"/><path d="M511.3,77.2V82.0L507.2,79.6Z" fill="#8a2be2"/><path d="M520.3,95.2V100.0L516.3,97.6Z" fill="#8a2be2"/><path d="M529.3,106.0V110.8L525.3,108.4Z" fill="#8a2be2"/><path d="M538.4,111.9V116.7L534.3,114.3Z" fill="#8a2be2"/><path d="M547.4,117.6V122.4L543.3,120.0Z" fill="#8a2be2"/><path d="M556.4,141.3V146.1L552.3,143.7Z" fill="#8a2be2"/><path d="M565.4,141.9V146.7L561.3,144.3Z" fill="#8a2be2"/>
<path d="M356.5,145.3 L365.5,145.3 L374.5,145.3 L383.5,145.3 L392.5,140.3 L401.5,136.3 L410.6,118.3 L419.6,95.2 L428.6,71.5 L437.6,63.3 L446.6,59.2 L455.6,53.9 L464.6,56.5 L473.6,48.7 L482.6,45.6 L491.6,43.3 L500.6,44.1 L509.6,67.0 L518.7,83.8 L527.7,93.2 L536.7,97.2 L545.7,100.4 L554.7,141.3 L563.7,143.3" fill="none" stroke="#c6e33c" stroke-width="1" stroke-dasharray="2,4"/><rect x="354.8" y="143.6" width="3.4" height="3.4" fill="#c6e33c"/><rect x="363.8" y="143.6" width="3.4" height="3.4" fill="#c6e33c"/><rect x="372.8" y="143.6" width="3.4" height="3.4" fill="#c6e33c"/><rect x="381.8" y="143.6" width="3.4" height="3.4" fill="#c6e33c"/><rect x="390.8" y="138.6" width="3.4" height="3.4" fill="#c6e33c"/><rect x="399.8" y="134.6" width="3.4" height="3.4" fill="#c6e33c"/><rect x="408.9" y="116.6" width="3.4" height="3.4" fill="#c6e33c"/><rect x="417.9" y="93.5" width="3.4" height="3.4" fill="#c6e33c"/><rect x="426.9" y="69.8" width="3.4" height="3.4" fill="#c6e33c"/><rect x="435.9" y="61.6" width="3.4" height="3.4" fill="#c6e33c"/><rect x="444.9" y="57.5" width="3.4" height="3.4" fill="#c6e33c"/><rect x="453.9" y="52.2" width="3.4" height="3.4" fill="#c6e33c"/><rect x="462.9" y="54.8" width="3.4" height="3.4" fill="#c6e33c"/><rect x="471.9" y="47.0" width="3.4" height="3.4" fill="#c6e33c"/><rect x="480.9" y="43.9" width="3.4" height="3.4" fill="#c6e33c"/><rect x="489.9" y="41.6" width="3.4" height="3.4" fill="#c6e33c"/><rect x="498.9" y="42.4" width="3.4" height="3.4" fill="#c6e33c"/><rect x="507.9" y="65.3" width="3.4" height="3.4" fill="#c6e33c"/><rect x="517.0" y="82.1" width="3.4" height="3.4" fill="#c6e33c"/><rect x="526.0" y="91.5" width="3.4" height="3.4" fill="#c6e33c"/><rect x="535.0" y="95.5" width="3.4" height="3.4" fill="#c6e33c"/><rect x="544.0" y="98.7" width="3.4" height="3.4" fill="#c6e33c"/><rect x="553.0" y="139.6" width="3.4" height="3.4" fill="#c6e33c"/><rect x="562.0" y="141.6" width="3.4" height="3.4" fill="#c6e33c"/>
<path d="M356.5,145.8 L365.5,145.8 L374.5,145.8 L383.5,145.8 L392.5,145.3 L401.5,142.3 L410.6,134.3 L419.6,124.3 L428.6,112.3 L437.6,104.2 L446.6,99.2 L455.6,90.2 L464.6,90.2 L473.6,80.6 L482.6,80.1 L491.6,78.5 L500.6,79.2 L509.6,97.2 L518.7,110.3 L527.7,118.3 L536.7,122.3 L545.7,125.3 L554.7,144.3 L563.7,145.3" fill="none" stroke="#6a6a6a" stroke-width="0.9" stroke-dasharray="1,2.5"/><path d="M358.0,143.6V148.0L354.3,145.8Z" fill="#6a6a6a"/><path d="M367.0,143.6V148.0L363.3,145.8Z" fill="#6a6a6a"/><path d="M376.1,143.6V148.0L372.3,145.8Z" fill="#6a6a6a"/><path d="M385.1,143.6V148.0L381.3,145.8Z" fill="#6a6a6a"/><path d="M394.1,143.1V147.5L390.3,145.3Z" fill="#6a6a6a"/><path d="M403.1,140.1V144.5L399.3,142.3Z" fill="#6a6a6a"/><path d="M412.1,132.1V136.5L408.4,134.3Z" fill="#6a6a6a"/><path d="M421.1,122.1V126.5L417.4,124.3Z" fill="#6a6a6a"/><path d="M430.1,110.1V114.5L426.4,112.3Z" fill="#6a6a6a"/><path d="M439.1,102.0V106.4L435.4,104.2Z" fill="#6a6a6a"/><path d="M448.1,97.0V101.4L444.4,99.2Z" fill="#6a6a6a"/><path d="M457.1,88.0V92.4L453.4,90.2Z" fill="#6a6a6a"/><path d="M466.1,88.0V92.4L462.4,90.2Z" fill="#6a6a6a"/><path d="M475.2,78.4V82.8L471.4,80.6Z" fill="#6a6a6a"/><path d="M484.2,77.9V82.3L480.4,80.1Z" fill="#6a6a6a"/><path d="M493.2,76.3V80.7L489.4,78.5Z" fill="#6a6a6a"/><path d="M502.2,77.0V81.4L498.4,79.2Z" fill="#6a6a6a"/><path d="M511.2,95.0V99.4L507.4,97.2Z" fill="#6a6a6a"/><path d="M520.2,108.1V112.5L516.5,110.3Z" fill="#6a6a6a"/><path d="M529.2,116.1V120.5L525.5,118.3Z" fill="#6a6a6a"/><path d="M538.2,120.1V124.5L534.5,122.3Z" fill="#6a6a6a"/><path d="M547.2,123.1V127.5L543.5,125.3Z" fill="#6a6a6a"/><path d="M556.2,142.1V146.5L552.5,144.3Z" fill="#6a6a6a"/><path d="M565.2,143.1V147.5L561.5,145.3Z" fill="#6a6a6a"/>
<path d="M356.5,145.8 L365.5,145.8 L374.5,145.8 L383.5,145.8 L392.5,145.3 L401.5,143.3 L410.6,136.4 L419.6,122.3 L428.6,114.4 L437.6,103.4 L446.6,98.2 L455.6,92.2 L464.6,92.2 L473.6,90.2 L482.6,90.0 L491.6,90.0 L500.6,91.2 L509.6,104.2 L518.7,115.3 L527.7,121.3 L536.7,125.3 L545.7,128.3 L554.7,144.3 L563.7,145.3" fill="none" stroke="#707070" stroke-width="0.9" stroke-dasharray="1,3"/><path d="M355.1,145.8H357.9M356.5,144.4V147.2" stroke="#707070" stroke-width="0.9" fill="none"/><path d="M364.1,145.8H366.9M365.5,144.4V147.2" stroke="#707070" stroke-width="0.9" fill="none"/><path d="M373.1,145.8H375.9M374.5,144.4V147.2" stroke="#707070" stroke-width="0.9" fill="none"/><path d="M382.1,145.8H384.9M383.5,144.4V147.2" stroke="#707070" stroke-width="0.9" fill="none"/><path d="M391.1,145.3H393.9M392.5,143.9V146.7" stroke="#707070" stroke-width="0.9" fill="none"/><path d="M400.1,143.3H402.9M401.5,141.9V144.7" stroke="#707070" stroke-width="0.9" fill="none"/><path d="M409.2,136.4H412.0M410.6,135.0V137.8" stroke="#707070" stroke-width="0.9" fill="none"/><path d="M418.2,122.3H421.0M419.6,120.9V123.7" stroke="#707070" stroke-width="0.9" fill="none"/><path d="M427.2,114.4H430.0M428.6,113.0V115.8" stroke="#707070" stroke-width="0.9" fill="none"/><path d="M436.2,103.4H439.0M437.6,102.0V104.8" stroke="#707070" stroke-width="0.9" fill="none"/><path d="M445.2,98.2H448.0M446.6,96.8V99.6" stroke="#707070" stroke-width="0.9" fill="none"/><path d="M454.2,92.2H457.0M455.6,90.8V93.6" stroke="#707070" stroke-width="0.9" fill="none"/><path d="M463.2,92.2H466.0M464.6,90.8V93.6" stroke="#707070" stroke-width="0.9" fill="none"/><path d="M472.2,90.2H475.0M473.6,88.8V91.6" stroke="#707070" stroke-width="0.9" fill="none"/><path d="M481.2,90.0H484.0M482.6,88.6V91.4" stroke="#707070" stroke-width="0.9" fill="none"/><path d="M490.2,90.0H493.0M491.6,88.6V91.4" stroke="#707070" stroke-width="0.9" fill="none"/><path d="M499.2,91.2H502.0M500.6,89.8V92.6" stroke="#707070" stroke-width="0.9" fill="none"/><path d="M508.2,104.2H511.0M509.6,102.8V105.6" stroke="#707070" stroke-width="0.9" fill="none"/><path d="M517.3,115.3H520.1M518.7,113.9V116.7" stroke="#707070" stroke-width="0.9" fill="none"/><path d="M526.3,121.3H529.1M527.7,119.9V122.7" stroke="#707070" stroke-width="0.9" fill="none"/><path d="M535.3,125.3H538.1M536.7,123.9V126.7" stroke="#707070" stroke-width="0.9" fill="none"/><path d="M544.3,128.3H547.1M545.7,126.9V129.7" stroke="#707070" stroke-width="0.9" fill="none"/><path d="M553.3,144.3H556.1M554.7,142.9V145.7" stroke="#707070" stroke-width="0.9" fill="none"/><path d="M562.3,145.3H565.1M563.7,143.9V146.7" stroke="#707070" stroke-width="0.9" fill="none"/>
<path d="M356.5,142.5 L365.5,143.5 L374.5,144.0 L383.5,144.0 L392.5,134.0 L401.5,129.1 L410.6,107.8 L419.6,93.2 L428.6,67.6 L437.6,54.1 L446.6,49.2 L455.6,42.6 L464.6,47.4 L473.6,34.7 L482.6,32.0 L491.6,26.7 L500.6,28.2 L509.6,55.9 L518.7,75.2 L527.7,83.9 L536.7,90.4 L545.7,96.1 L554.7,140.8 L563.7,140.8" fill="none" stroke="#e3701a" stroke-width="1" stroke-dasharray="2,3,1,3"/><circle cx="356.5" cy="142.5" r="2.0" fill="#e3701a"/><circle cx="365.5" cy="143.5" r="2.0" fill="#e3701a"/><circle cx="374.5" cy="144.0" r="2.0" fill="#e3701a"/><circle cx="383.5" cy="144.0" r="2.0" fill="#e3701a"/><circle cx="392.5" cy="134.0" r="2.0" fill="#e3701a"/><circle cx="401.5" cy="129.1" r="2.0" fill="#e3701a"/><circle cx="410.6" cy="107.8" r="2.0" fill="#e3701a"/><circle cx="419.6" cy="93.2" r="2.0" fill="#e3701a"/><circle cx="428.6" cy="67.6" r="2.0" fill="#e3701a"/><circle cx="437.6" cy="54.1" r="2.0" fill="#e3701a"/><circle cx="446.6" cy="49.2" r="2.0" fill="#e3701a"/><circle cx="455.6" cy="42.6" r="2.0" fill="#e3701a"/><circle cx="464.6" cy="47.4" r="2.0" fill="#e3701a"/><circle cx="473.6" cy="34.7" r="2.0" fill="#e3701a"/><circle cx="482.6" cy="32.0" r="2.0" fill="#e3701a"/><circle cx="491.6" cy="26.7" r="2.0" fill="#e3701a"/><circle cx="500.6" cy="28.2" r="2.0" fill="#e3701a"/><circle cx="509.6" cy="55.9" r="2.0" fill="#e3701a"/><circle cx="518.7" cy="75.2" r="2.0" fill="#e3701a"/><circle cx="527.7" cy="83.9" r="2.0" fill="#e3701a"/><circle cx="536.7" cy="90.4" r="2.0" fill="#e3701a"/><circle cx="545.7" cy="96.1" r="2.0" fill="#e3701a"/><circle cx="554.7" cy="140.8" r="2.0" fill="#e3701a"/><circle cx="563.7" cy="140.8" r="2.0" fill="#e3701a"/>
<path d="M356.5,145.8 L365.5,145.8 L374.5,145.8 L383.5,145.8 L392.5,145.8 L401.5,145.3 L410.6,144.3 L419.6,142.3 L428.6,137.9 L437.6,134.0 L446.6,128.5 L455.6,123.0 L464.6,119.6 L473.6,112.9 L482.6,109.0 L491.6,109.0 L500.6,109.0 L509.6,116.7 L518.7,124.3 L527.7,127.9 L536.7,130.8 L545.7,134.4 L554.7,144.3 L563.7,145.3" fill="none" stroke="#22aaee" stroke-width="1" stroke-dasharray="2.5,3.5"/><path d="M354.2,144.2H358.8L356.5,148.1Z" fill="#22aaee"/><path d="M363.2,144.2H367.8L365.5,148.1Z" fill="#22aaee"/><path d="M372.2,144.2H376.8L374.5,148.1Z" fill="#22aaee"/><path d="M381.2,144.2H385.8L383.5,148.1Z" fill="#22aaee"/><path d="M390.2,144.2H394.8L392.5,148.1Z" fill="#22aaee"/><path d="M399.2,143.7H403.8L401.5,147.6Z" fill="#22aaee"/><path d="M408.3,142.7H412.9L410.6,146.6Z" fill="#22aaee"/><path d="M417.3,140.7H421.9L419.6,144.6Z" fill="#22aaee"/><path d="M426.3,136.3H430.9L428.6,140.2Z" fill="#22aaee"/><path d="M435.3,132.4H439.9L437.6,136.3Z" fill="#22aaee"/><path d="M444.3,126.9H448.9L446.6,130.8Z" fill="#22aaee"/><path d="M453.3,121.4H457.9L455.6,125.3Z" fill="#22aaee"/><path d="M462.3,118.0H466.9L464.6,121.9Z" fill="#22aaee"/><path d="M471.3,111.3H475.9L473.6,115.2Z" fill="#22aaee"/><path d="M480.3,107.3H484.9L482.6,111.3Z" fill="#22aaee"/><path d="M489.3,107.3H493.9L491.6,111.3Z" fill="#22aaee"/><path d="M498.3,107.3H502.9L500.6,111.3Z" fill="#22aaee"/><path d="M507.3,115.1H511.9L509.6,119.0Z" fill="#22aaee"/><path d="M516.4,122.7H521.0L518.7,126.6Z" fill="#22aaee"/><path d="M525.4,126.3H530.0L527.7,130.2Z" fill="#22aaee"/><path d="M534.4,129.2H539.0L536.7,133.1Z" fill="#22aaee"/><path d="M543.4,132.8H548.0L545.7,136.7Z" fill="#22aaee"/><path d="M552.4,142.7H557.0L554.7,146.6Z" fill="#22aaee"/><path d="M561.4,143.7H566.0L563.7,147.6Z" fill="#22aaee"/>
<path d="M356.5,146.3 L365.5,146.3 L374.5,146.3 L383.5,146.3 L392.5,146.3 L401.5,144.1 L410.6,141.7 L419.6,138.2 L428.6,128.3 L437.6,121.2 L446.6,114.2 L455.6,106.3 L464.6,104.3 L473.6,97.5 L482.6,94.9 L491.6,95.4 L500.6,96.4 L509.6,110.3 L518.7,119.5 L527.7,125.8 L536.7,130.7 L545.7,134.2 L554.7,144.7 L563.7,146.2" fill="none" stroke="#8a8a8a" stroke-width="0.9" stroke-dasharray="1,3"/><path d="M355.2,146.3H357.8M356.5,145.0V147.7" stroke="#8a8a8a" stroke-width="0.9" fill="none"/><path d="M364.2,146.3H366.8M365.5,145.0V147.7" stroke="#8a8a8a" stroke-width="0.9" fill="none"/><path d="M373.2,146.3H375.8M374.5,145.0V147.7" stroke="#8a8a8a" stroke-width="0.9" fill="none"/><path d="M382.2,146.3H384.8M383.5,145.0V147.7" stroke="#8a8a8a" stroke-width="0.9" fill="none"/><path d="M391.2,146.3H393.8M392.5,145.0V147.7" stroke="#8a8a8a" stroke-width="0.9" fill="none"/><path d="M400.2,144.1H402.8M401.5,142.8V145.4" stroke="#8a8a8a" stroke-width="0.9" fill="none"/><path d="M409.3,141.7H411.9M410.6,140.4V143.0" stroke="#8a8a8a" stroke-width="0.9" fill="none"/><path d="M418.3,138.2H420.9M419.6,136.9V139.5" stroke="#8a8a8a" stroke-width="0.9" fill="none"/><path d="M427.3,128.3H429.9M428.6,127.0V129.6" stroke="#8a8a8a" stroke-width="0.9" fill="none"/><path d="M436.3,121.2H438.9M437.6,119.9V122.5" stroke="#8a8a8a" stroke-width="0.9" fill="none"/><path d="M445.3,114.2H447.9M446.6,112.9V115.5" stroke="#8a8a8a" stroke-width="0.9" fill="none"/><path d="M454.3,106.3H456.9M455.6,105.0V107.6" stroke="#8a8a8a" stroke-width="0.9" fill="none"/><path d="M463.3,104.3H465.9M464.6,103.0V105.6" stroke="#8a8a8a" stroke-width="0.9" fill="none"/><path d="M472.3,97.5H474.9M473.6,96.2V98.8" stroke="#8a8a8a" stroke-width="0.9" fill="none"/><path d="M481.3,94.9H483.9M482.6,93.6V96.2" stroke="#8a8a8a" stroke-width="0.9" fill="none"/><path d="M490.3,95.4H492.9M491.6,94.1V96.7" stroke="#8a8a8a" stroke-width="0.9" fill="none"/><path d="M499.3,96.4H501.9M500.6,95.1V97.7" stroke="#8a8a8a" stroke-width="0.9" fill="none"/><path d="M508.3,110.3H510.9M509.6,109.0V111.6" stroke="#8a8a8a" stroke-width="0.9" fill="none"/><path d="M517.4,119.5H520.0M518.7,118.2V120.8" stroke="#8a8a8a" stroke-width="0.9" fill="none"/><path d="M526.4,125.8H529.0M527.7,124.5V127.1" stroke="#8a8a8a" stroke-width="0.9" fill="none"/><path d="M535.4,130.7H538.0M536.7,129.4V132.0" stroke="#8a8a8a" stroke-width="0.9" fill="none"/><path d="M544.4,134.2H547.0M545.7,132.9V135.5" stroke="#8a8a8a" stroke-width="0.9" fill="none"/><path d="M553.4,144.7H556.0M554.7,143.4V146.0" stroke="#8a8a8a" stroke-width="0.9" fill="none"/><path d="M562.4,146.2H565.0M563.7,144.9V147.5" stroke="#8a8a8a" stroke-width="0.9" fill="none"/>
<path d="M356.5,145.8 L365.5,145.8 L374.5,145.8 L383.5,145.8 L392.5,145.6 L401.5,143.1 L410.6,140.7 L419.6,137.1 L428.6,126.9 L437.6,119.6 L446.6,112.4 L455.6,104.2 L464.6,102.1 L473.6,95.1 L482.6,92.4 L491.6,92.9 L500.6,94.0 L509.6,108.4 L518.7,117.8 L527.7,124.3 L536.7,129.3 L545.7,132.9 L554.7,143.7 L563.7,145.3" fill="none" stroke="#4a78cc" stroke-width="1.2"/><path d="M355.3,145.8H357.7M356.5,144.6V147.0" stroke="#4a78cc" stroke-width="0.9" fill="none"/><path d="M364.3,145.8H366.7M365.5,144.6V147.0" stroke="#4a78cc" stroke-width="0.9" fill="none"/><path d="M373.3,145.8H375.7M374.5,144.6V147.0" stroke="#4a78cc" stroke-width="0.9" fill="none"/><path d="M382.3,145.8H384.7M383.5,144.6V147.0" stroke="#4a78cc" stroke-width="0.9" fill="none"/><path d="M391.3,145.6H393.7M392.5,144.4V146.8" stroke="#4a78cc" stroke-width="0.9" fill="none"/><path d="M400.3,143.1H402.7M401.5,141.9V144.3" stroke="#4a78cc" stroke-width="0.9" fill="none"/><path d="M409.4,140.7H411.8M410.6,139.5V141.9" stroke="#4a78cc" stroke-width="0.9" fill="none"/><path d="M418.4,137.1H420.8M419.6,135.9V138.3" stroke="#4a78cc" stroke-width="0.9" fill="none"/><path d="M427.4,126.9H429.8M428.6,125.7V128.1" stroke="#4a78cc" stroke-width="0.9" fill="none"/><path d="M436.4,119.6H438.8M437.6,118.4V120.8" stroke="#4a78cc" stroke-width="0.9" fill="none"/><path d="M445.4,112.4H447.8M446.6,111.2V113.6" stroke="#4a78cc" stroke-width="0.9" fill="none"/><path d="M454.4,104.2H456.8M455.6,103.0V105.4" stroke="#4a78cc" stroke-width="0.9" fill="none"/><path d="M463.4,102.1H465.8M464.6,100.9V103.3" stroke="#4a78cc" stroke-width="0.9" fill="none"/><path d="M472.4,95.1H474.8M473.6,93.9V96.3" stroke="#4a78cc" stroke-width="0.9" fill="none"/><path d="M481.4,92.4H483.8M482.6,91.2V93.6" stroke="#4a78cc" stroke-width="0.9" fill="none"/><path d="M490.4,92.9H492.8M491.6,91.7V94.1" stroke="#4a78cc" stroke-width="0.9" fill="none"/><path d="M499.4,94.0H501.8M500.6,92.8V95.2" stroke="#4a78cc" stroke-width="0.9" fill="none"/><path d="M508.4,108.4H510.8M509.6,107.2V109.6" stroke="#4a78cc" stroke-width="0.9" fill="none"/><path d="M517.5,117.8H519.9M518.7,116.6V119.0" stroke="#4a78cc" stroke-width="0.9" fill="none"/><path d="M526.5,124.3H528.9M527.7,123.1V125.5" stroke="#4a78cc" stroke-width="0.9" fill="none"/><path d="M535.5,129.3H537.9M536.7,128.1V130.5" stroke="#4a78cc" stroke-width="0.9" fill="none"/><path d="M544.5,132.9H546.9M545.7,131.7V134.1" stroke="#4a78cc" stroke-width="0.9" fill="none"/><path d="M553.5,143.7H555.9M554.7,142.5V144.9" stroke="#4a78cc" stroke-width="0.9" fill="none"/><path d="M562.5,145.3H564.9M563.7,144.1V146.5" stroke="#4a78cc" stroke-width="0.9" fill="none"/>
<path d="M356.5,145.8 L365.5,145.8 L374.5,145.8 L383.5,145.8 L392.5,143.3 L401.5,140.3 L410.6,130.3 L419.6,115.3 L428.6,96.2 L437.6,87.2 L446.6,84.0 L455.6,79.3 L464.6,82.2 L473.6,74.3 L482.6,72.8 L491.6,72.3 L500.6,73.2 L509.6,90.2 L518.7,103.2 L527.7,110.3 L536.7,115.3 L545.7,118.3 L554.7,142.3 L563.7,144.3" fill="none" stroke="#c6e33c" stroke-width="1" stroke-dasharray="1,3"/><path d="M354.7,144.6H358.3L356.5,147.6Z" fill="#c6e33c"/><path d="M363.7,144.6H367.3L365.5,147.6Z" fill="#c6e33c"/><path d="M372.7,144.6H376.3L374.5,147.6Z" fill="#c6e33c"/><path d="M381.7,144.6H385.3L383.5,147.6Z" fill="#c6e33c"/><path d="M390.7,142.1H394.3L392.5,145.1Z" fill="#c6e33c"/><path d="M399.7,139.1H403.3L401.5,142.1Z" fill="#c6e33c"/><path d="M408.8,129.0H412.4L410.6,132.1Z" fill="#c6e33c"/><path d="M417.8,114.0H421.4L419.6,117.1Z" fill="#c6e33c"/><path d="M426.8,95.0H430.4L428.6,98.0Z" fill="#c6e33c"/><path d="M435.8,85.9H439.4L437.6,89.0Z" fill="#c6e33c"/><path d="M444.8,82.7H448.4L446.6,85.8Z" fill="#c6e33c"/><path d="M453.8,78.0H457.4L455.6,81.1Z" fill="#c6e33c"/><path d="M462.8,80.9H466.4L464.6,84.0Z" fill="#c6e33c"/><path d="M471.8,73.0H475.4L473.6,76.1Z" fill="#c6e33c"/><path d="M480.8,71.5H484.4L482.6,74.6Z" fill="#c6e33c"/><path d="M489.8,71.0H493.4L491.6,74.1Z" fill="#c6e33c"/><path d="M498.8,71.9H502.4L500.6,75.0Z" fill="#c6e33c"/><path d="M507.8,88.9H511.4L509.6,92.0Z" fill="#c6e33c"/><path d="M516.9,102.0H520.5L518.7,105.0Z" fill="#c6e33c"/><path d="M525.9,109.0H529.5L527.7,112.1Z" fill="#c6e33c"/><path d="M534.9,114.0H538.5L536.7,117.1Z" fill="#c6e33c"/><path d="M543.9,117.0H547.5L545.7,120.1Z" fill="#c6e33c"/><path d="M552.9,141.1H556.5L554.7,144.1Z" fill="#c6e33c"/><path d="M561.9,143.1H565.5L563.7,146.1Z" fill="#c6e33c"/>
<path d="M356.5,145.8 L365.5,145.8 L374.5,145.8 L383.5,145.8 L392.5,145.8 L401.5,145.3 L410.6,143.3 L419.6,139.3 L428.6,134.5 L437.6,129.3 L446.6,124.1 L455.6,118.3 L464.6,115.7 L473.6,110.0 L482.6,107.3 L491.6,107.0 L500.6,108.2 L509.6,120.7 L518.7,128.6 L527.7,133.6 L536.7,136.5 L545.7,140.1 L554.7,144.4 L563.7,145.3" fill="none" stroke="#a6d98a" stroke-width="0.9"/><circle cx="356.5" cy="145.8" r="1.9" fill="#a6d98a"/><circle cx="365.5" cy="145.8" r="1.9" fill="#a6d98a"/><circle cx="374.5" cy="145.8" r="1.9" fill="#a6d98a"/><circle cx="383.5" cy="145.8" r="1.9" fill="#a6d98a"/><circle cx="392.5" cy="145.8" r="1.9" fill="#a6d98a"/><circle cx="401.5" cy="145.3" r="1.9" fill="#a6d98a"/><circle cx="410.6" cy="143.3" r="1.9" fill="#a6d98a"/><circle cx="419.6" cy="139.3" r="1.9" fill="#a6d98a"/><circle cx="428.6" cy="134.5" r="1.9" fill="#a6d98a"/><circle cx="437.6" cy="129.3" r="1.9" fill="#a6d98a"/><circle cx="446.6" cy="124.1" r="1.9" fill="#a6d98a"/><circle cx="455.6" cy="118.3" r="1.9" fill="#a6d98a"/><circle cx="464.6" cy="115.7" r="1.9" fill="#a6d98a"/><circle cx="473.6" cy="110.0" r="1.9" fill="#a6d98a"/><circle cx="482.6" cy="107.3" r="1.9" fill="#a6d98a"/><circle cx="491.6" cy="107.0" r="1.9" fill="#a6d98a"/><circle cx="500.6" cy="108.2" r="1.9" fill="#a6d98a"/><circle cx="509.6" cy="120.7" r="1.9" fill="#a6d98a"/><circle cx="518.7" cy="128.6" r="1.9" fill="#a6d98a"/><circle cx="527.7" cy="133.6" r="1.9" fill="#a6d98a"/><circle cx="536.7" cy="136.5" r="1.9" fill="#a6d98a"/><circle cx="545.7" cy="140.1" r="1.9" fill="#a6d98a"/><circle cx="554.7" cy="144.4" r="1.9" fill="#a6d98a"/><circle cx="563.7" cy="145.3" r="1.9" fill="#a6d98a"/>
<path d="M356.5,145.8 L365.5,145.8 L374.5,145.8 L383.5,145.8 L392.5,145.3 L401.5,138.9 L410.6,127.3 L419.6,121.3 L428.6,104.4 L437.6,98.9 L446.6,94.2 L455.6,87.2 L464.6,87.2 L473.6,79.3 L482.6,74.6 L491.6,73.1 L500.6,74.2 L509.6,95.4 L518.7,109.9 L527.7,117.8 L536.7,120.7 L545.7,124.3 L554.7,143.7 L563.7,145.3" fill="none" stroke="#777777" stroke-width="1" stroke-dasharray="1,2"/><rect x="354.6" y="143.9" width="3.8" height="3.8" fill="#777777"/><rect x="363.6" y="143.9" width="3.8" height="3.8" fill="#777777"/><rect x="372.6" y="143.9" width="3.8" height="3.8" fill="#777777"/><rect x="381.6" y="143.9" width="3.8" height="3.8" fill="#777777"/><rect x="390.6" y="143.4" width="3.8" height="3.8" fill="#777777"/><rect x="399.6" y="137.0" width="3.8" height="3.8" fill="#777777"/><rect x="408.7" y="125.4" width="3.8" height="3.8" fill="#777777"/><rect x="417.7" y="119.4" width="3.8" height="3.8" fill="#777777"/><rect x="426.7" y="102.5" width="3.8" height="3.8" fill="#777777"/><rect x="435.7" y="97.0" width="3.8" height="3.8" fill="#777777"/><rect x="444.7" y="92.3" width="3.8" height="3.8" fill="#777777"/><rect x="453.7" y="85.3" width="3.8" height="3.8" fill="#777777"/><rect x="462.7" y="85.3" width="3.8" height="3.8" fill="#777777"/><rect x="471.7" y="77.4" width="3.8" height="3.8" fill="#777777"/><rect x="480.7" y="72.7" width="3.8" height="3.8" fill="#777777"/><rect x="489.7" y="71.2" width="3.8" height="3.8" fill="#777777"/><rect x="498.7" y="72.3" width="3.8" height="3.8" fill="#777777"/><rect x="507.7" y="93.5" width="3.8" height="3.8" fill="#777777"/><rect x="516.8" y="108.0" width="3.8" height="3.8" fill="#777777"/><rect x="525.8" y="115.9" width="3.8" height="3.8" fill="#777777"/><rect x="534.8" y="118.8" width="3.8" height="3.8" fill="#777777"/><rect x="543.8" y="122.4" width="3.8" height="3.8" fill="#777777"/><rect x="552.8" y="141.8" width="3.8" height="3.8" fill="#777777"/><rect x="561.8" y="143.4" width="3.8" height="3.8" fill="#777777"/>
<path d="M356.5,142.8 L365.5,143.5 L374.5,144.0 L383.5,144.0 L392.5,136.3 L401.5,132.2 L410.6,114.5 L419.6,100.2 L428.6,87.2 L437.6,72.3 L446.6,63.3 L455.6,56.1 L464.6,60.8 L473.6,49.2 L482.6,46.7 L491.6,41.7 L500.6,40.1 L509.6,63.5 L518.7,79.6 L527.7,90.4 L536.7,97.6 L545.7,104.0 L554.7,139.3 L563.7,141.3" fill="none" stroke="#e3701a" stroke-width="1" stroke-dasharray="2,3,1,3"/><circle cx="356.5" cy="142.8" r="2.0" fill="#e3701a"/><circle cx="365.5" cy="143.5" r="2.0" fill="#e3701a"/><circle cx="374.5" cy="144.0" r="2.0" fill="#e3701a"/><circle cx="383.5" cy="144.0" r="2.0" fill="#e3701a"/><circle cx="392.5" cy="136.3" r="2.0" fill="#e3701a"/><circle cx="401.5" cy="132.2" r="2.0" fill="#e3701a"/><circle cx="410.6" cy="114.5" r="2.0" fill="#e3701a"/><circle cx="419.6" cy="100.2" r="2.0" fill="#e3701a"/><circle cx="428.6" cy="87.2" r="2.0" fill="#e3701a"/><circle cx="437.6" cy="72.3" r="2.0" fill="#e3701a"/><circle cx="446.6" cy="63.3" r="2.0" fill="#e3701a"/><circle cx="455.6" cy="56.1" r="2.0" fill="#e3701a"/><circle cx="464.6" cy="60.8" r="2.0" fill="#e3701a"/><circle cx="473.6" cy="49.2" r="2.0" fill="#e3701a"/><circle cx="482.6" cy="46.7" r="2.0" fill="#e3701a"/><circle cx="491.6" cy="41.7" r="2.0" fill="#e3701a"/><circle cx="500.6" cy="40.1" r="2.0" fill="#e3701a"/><circle cx="509.6" cy="63.5" r="2.0" fill="#e3701a"/><circle cx="518.7" cy="79.6" r="2.0" fill="#e3701a"/><circle cx="527.7" cy="90.4" r="2.0" fill="#e3701a"/><circle cx="536.7" cy="97.6" r="2.0" fill="#e3701a"/><circle cx="545.7" cy="104.0" r="2.0" fill="#e3701a"/><circle cx="554.7" cy="139.3" r="2.0" fill="#e3701a"/><circle cx="563.7" cy="141.3" r="2.0" fill="#e3701a"/>
<path d="M356.5,145.8 L365.5,145.8 L374.5,145.8 L383.5,145.8 L392.5,145.8 L401.5,145.8 L410.6,145.6 L419.6,145.7 L428.6,142.9 L437.6,138.7 L446.6,133.2 L455.6,126.2 L464.6,122.3 L473.6,115.7 L482.6,111.6 L491.6,111.6 L500.6,112.6 L509.6,125.0 L518.7,132.2 L527.7,137.2 L536.7,140.1 L545.7,143.0 L554.7,144.8 L563.7,145.8" fill="none" stroke="#a6d98a" stroke-width="0.9"/><circle cx="356.5" cy="145.8" r="1.8" fill="#a6d98a"/><circle cx="365.5" cy="145.8" r="1.8" fill="#a6d98a"/><circle cx="374.5" cy="145.8" r="1.8" fill="#a6d98a"/><circle cx="383.5" cy="145.8" r="1.8" fill="#a6d98a"/><circle cx="392.5" cy="145.8" r="1.8" fill="#a6d98a"/><circle cx="401.5" cy="145.8" r="1.8" fill="#a6d98a"/><circle cx="410.6" cy="145.6" r="1.8" fill="#a6d98a"/><circle cx="419.6" cy="145.7" r="1.8" fill="#a6d98a"/><circle cx="428.6" cy="142.9" r="1.8" fill="#a6d98a"/><circle cx="437.6" cy="138.7" r="1.8" fill="#a6d98a"/><circle cx="446.6" cy="133.2" r="1.8" fill="#a6d98a"/><circle cx="455.6" cy="126.2" r="1.8" fill="#a6d98a"/><circle cx="464.6" cy="122.3" r="1.8" fill="#a6d98a"/><circle cx="473.6" cy="115.7" r="1.8" fill="#a6d98a"/><circle cx="482.6" cy="111.6" r="1.8" fill="#a6d98a"/><circle cx="491.6" cy="111.6" r="1.8" fill="#a6d98a"/><circle cx="500.6" cy="112.6" r="1.8" fill="#a6d98a"/><circle cx="509.6" cy="125.0" r="1.8" fill="#a6d98a"/><circle cx="518.7" cy="132.2" r="1.8" fill="#a6d98a"/><circle cx="527.7" cy="137.2" r="1.8" fill="#a6d98a"/><circle cx="536.7" cy="140.1" r="1.8" fill="#a6d98a"/><circle cx="545.7" cy="143.0" r="1.8" fill="#a6d98a"/><circle cx="554.7" cy="144.8" r="1.8" fill="#a6d98a"/><circle cx="563.7" cy="145.8" r="1.8" fill="#a6d98a"/>
<path d="M356.5,143.3 L365.5,143.3 L374.5,143.8 L383.5,143.8 L392.5,127.9 L401.5,114.5 L410.6,85.8 L419.6,57.1 L428.6,33.9 L437.6,31.2 L446.6,30.3 L455.6,26.4 L464.6,32.3 L473.6,25.5 L482.6,24.1 L491.6,21.0 L500.6,22.0 L509.6,44.2 L518.7,64.2 L527.7,73.9 L536.7,79.1 L545.7,83.4 L554.7,140.8 L563.7,142.3" fill="none" stroke="#d98080" stroke-width="1.0" stroke-dasharray="3,5"/><circle cx="356.5" cy="143.3" r="1.5" fill="#d98080"/><circle cx="365.5" cy="143.3" r="1.5" fill="#d98080"/><circle cx="374.5" cy="143.8" r="1.5" fill="#d98080"/><circle cx="383.5" cy="143.8" r="1.5" fill="#d98080"/><circle cx="392.5" cy="127.9" r="1.5" fill="#d98080"/><circle cx="401.5" cy="114.5" r="1.5" fill="#d98080"/><circle cx="410.6" cy="85.8" r="1.5" fill="#d98080"/><circle cx="419.6" cy="57.1" r="1.5" fill="#d98080"/><circle cx="428.6" cy="33.9" r="1.5" fill="#d98080"/><circle cx="437.6" cy="31.2" r="1.5" fill="#d98080"/><circle cx="446.6" cy="30.3" r="1.5" fill="#d98080"/><circle cx="455.6" cy="26.4" r="1.5" fill="#d98080"/><circle cx="464.6" cy="32.3" r="1.5" fill="#d98080"/><circle cx="473.6" cy="25.5" r="1.5" fill="#d98080"/><circle cx="482.6" cy="24.1" r="1.5" fill="#d98080"/><circle cx="491.6" cy="21.0" r="1.5" fill="#d98080"/><circle cx="500.6" cy="22.0" r="1.5" fill="#d98080"/><circle cx="509.6" cy="44.2" r="1.5" fill="#d98080"/><circle cx="518.7" cy="64.2" r="1.5" fill="#d98080"/><circle cx="527.7" cy="73.9" r="1.5" fill="#d98080"/><circle cx="536.7" cy="79.1" r="1.5" fill="#d98080"/><circle cx="545.7" cy="83.4" r="1.5" fill="#d98080"/><circle cx="554.7" cy="140.8" r="1.5" fill="#d98080"/><circle cx="563.7" cy="142.3" r="1.5" fill="#d98080"/>
<path d="M356.5,143.3 L365.5,143.8 L374.5,144.3 L383.5,144.3 L392.5,138.3 L401.5,133.3 L410.6,117.6 L419.6,109.6 L428.6,95.2 L437.6,81.7 L446.6,79.0 L455.6,75.4 L464.6,80.6 L473.6,69.6 L482.6,66.7 L491.6,65.1 L500.6,67.1 L509.6,91.1 L518.7,106.9 L527.7,112.0 L536.7,114.9 L545.7,117.8 L554.7,140.8 L563.7,142.3" fill="none" stroke="#e3701a" stroke-width="1" stroke-dasharray="2,3,1,3"/><circle cx="356.5" cy="143.3" r="2.0" fill="#e3701a"/><circle cx="365.5" cy="143.8" r="2.0" fill="#e3701a"/><circle cx="374.5" cy="144.3" r="2.0" fill="#e3701a"/><circle cx="383.5" cy="144.3" r="2.0" fill="#e3701a"/><circle cx="392.5" cy="138.3" r="2.0" fill="#e3701a"/><circle cx="401.5" cy="133.3" r="2.0" fill="#e3701a"/><circle cx="410.6" cy="117.6" r="2.0" fill="#e3701a"/><circle cx="419.6" cy="109.6" r="2.0" fill="#e3701a"/><circle cx="428.6" cy="95.2" r="2.0" fill="#e3701a"/><circle cx="437.6" cy="81.7" r="2.0" fill="#e3701a"/><circle cx="446.6" cy="79.0" r="2.0" fill="#e3701a"/><circle cx="455.6" cy="75.4" r="2.0" fill="#e3701a"/><circle cx="464.6" cy="80.6" r="2.0" fill="#e3701a"/><circle cx="473.6" cy="69.6" r="2.0" fill="#e3701a"/><circle cx="482.6" cy="66.7" r="2.0" fill="#e3701a"/><circle cx="491.6" cy="65.1" r="2.0" fill="#e3701a"/><circle cx="500.6" cy="67.1" r="2.0" fill="#e3701a"/><circle cx="509.6" cy="91.1" r="2.0" fill="#e3701a"/><circle cx="518.7" cy="106.9" r="2.0" fill="#e3701a"/><circle cx="527.7" cy="112.0" r="2.0" fill="#e3701a"/><circle cx="536.7" cy="114.9" r="2.0" fill="#e3701a"/><circle cx="545.7" cy="117.8" r="2.0" fill="#e3701a"/><circle cx="554.7" cy="140.8" r="2.0" fill="#e3701a"/><circle cx="563.7" cy="142.3" r="2.0" fill="#e3701a"/>
</g>
<clipPath id="cl_h2"><rect x="75.5" y="176.4" width="216.2" height="129.89999999999998"/></clipPath>
<g clip-path="url(#cl_h2)">
<path d="M75.5,306.4 L84.8,306.4 L94.0,306.4 L103.3,306.1 L112.6,305.3 L121.8,303.7 L131.1,290.9 L140.4,304.5 L149.7,305.9 L158.9,306.1 L168.2,306.3 L177.5,306.3 L186.7,306.3 L196.0,306.3 L205.3,306.3 L214.5,306.3 L223.8,306.1 L233.1,305.9 L242.4,305.6 L251.6,305.3 L260.9,304.5 L270.2,306.3 L279.4,306.4 L288.7,306.4" fill="none" stroke="#8a2be2" stroke-width="1" stroke-dasharray="2.5,2.5,1,2.5"/><path d="M77.2,304.0V308.8L73.1,306.4Z" fill="#8a2be2"/><path d="M86.4,304.0V308.8L82.4,306.4Z" fill="#8a2be2"/><path d="M95.7,304.0V308.8L91.6,306.4Z" fill="#8a2be2"/><path d="M105.0,303.7V308.5L100.9,306.1Z" fill="#8a2be2"/><path d="M114.3,302.9V307.7L110.2,305.3Z" fill="#8a2be2"/><path d="M123.5,301.3V306.1L119.4,303.7Z" fill="#8a2be2"/><path d="M132.8,288.5V293.3L128.7,290.9Z" fill="#8a2be2"/><path d="M142.1,302.1V306.9L138.0,304.5Z" fill="#8a2be2"/><path d="M151.3,303.5V308.3L147.3,305.9Z" fill="#8a2be2"/><path d="M160.6,303.7V308.5L156.5,306.1Z" fill="#8a2be2"/><path d="M169.9,303.9V308.7L165.8,306.3Z" fill="#8a2be2"/><path d="M179.1,303.9V308.7L175.1,306.3Z" fill="#8a2be2"/><path d="M188.4,303.9V308.7L184.3,306.3Z" fill="#8a2be2"/><path d="M197.7,303.9V308.7L193.6,306.3Z" fill="#8a2be2"/><path d="M207.0,303.9V308.7L202.9,306.3Z" fill="#8a2be2"/><path d="M216.2,303.9V308.7L212.1,306.3Z" fill="#8a2be2"/><path d="M225.5,303.7V308.5L221.4,306.1Z" fill="#8a2be2"/><path d="M234.8,303.5V308.3L230.7,305.9Z" fill="#8a2be2"/><path d="M244.0,303.2V308.0L240.0,305.6Z" fill="#8a2be2"/><path d="M253.3,302.9V307.7L249.2,305.3Z" fill="#8a2be2"/><path d="M262.6,302.1V306.9L258.5,304.5Z" fill="#8a2be2"/><path d="M271.8,303.9V308.7L267.8,306.3Z" fill="#8a2be2"/><path d="M281.1,304.0V308.8L277.0,306.4Z" fill="#8a2be2"/><path d="M290.4,304.0V308.8L286.3,306.4Z" fill="#8a2be2"/>
<path d="M75.5,306.4 L84.8,306.4 L94.0,306.4 L103.3,306.1 L112.6,305.6 L121.8,304.5 L131.1,303.7 L140.4,305.6 L149.7,306.1 L158.9,306.3 L168.2,306.4 L177.5,306.4 L186.7,306.4 L196.0,306.4 L205.3,306.4 L214.5,306.4 L223.8,306.3 L233.1,306.1 L242.4,305.9 L251.6,305.6 L260.9,305.3 L270.2,306.4 L279.4,306.4 L288.7,306.4" fill="none" stroke="#c6e33c" stroke-width="1" stroke-dasharray="2,4"/><rect x="73.8" y="304.7" width="3.4" height="3.4" fill="#c6e33c"/><rect x="83.1" y="304.7" width="3.4" height="3.4" fill="#c6e33c"/><rect x="92.3" y="304.7" width="3.4" height="3.4" fill="#c6e33c"/><rect x="101.6" y="304.4" width="3.4" height="3.4" fill="#c6e33c"/><rect x="110.9" y="303.9" width="3.4" height="3.4" fill="#c6e33c"/><rect x="120.1" y="302.8" width="3.4" height="3.4" fill="#c6e33c"/><rect x="129.4" y="302.0" width="3.4" height="3.4" fill="#c6e33c"/><rect x="138.7" y="303.9" width="3.4" height="3.4" fill="#c6e33c"/><rect x="148.0" y="304.4" width="3.4" height="3.4" fill="#c6e33c"/><rect x="157.2" y="304.6" width="3.4" height="3.4" fill="#c6e33c"/><rect x="166.5" y="304.7" width="3.4" height="3.4" fill="#c6e33c"/><rect x="175.8" y="304.7" width="3.4" height="3.4" fill="#c6e33c"/><rect x="185.0" y="304.7" width="3.4" height="3.4" fill="#c6e33c"/><rect x="194.3" y="304.7" width="3.4" height="3.4" fill="#c6e33c"/><rect x="203.6" y="304.7" width="3.4" height="3.4" fill="#c6e33c"/><rect x="212.8" y="304.7" width="3.4" height="3.4" fill="#c6e33c"/><rect x="222.1" y="304.6" width="3.4" height="3.4" fill="#c6e33c"/><rect x="231.4" y="304.4" width="3.4" height="3.4" fill="#c6e33c"/><rect x="240.7" y="304.2" width="3.4" height="3.4" fill="#c6e33c"/><rect x="249.9" y="303.9" width="3.4" height="3.4" fill="#c6e33c"/><rect x="259.2" y="303.6" width="3.4" height="3.4" fill="#c6e33c"/><rect x="268.5" y="304.7" width="3.4" height="3.4" fill="#c6e33c"/><rect x="277.7" y="304.7" width="3.4" height="3.4" fill="#c6e33c"/><rect x="287.0" y="304.7" width="3.4" height="3.4" fill="#c6e33c"/>
<path d="M75.5,306.6 L84.8,306.6 L94.0,306.6 L103.3,305.6 L112.6,302.1 L121.8,290.9 L131.1,291.5 L140.4,302.1 L149.7,303.7 L158.9,304.5 L168.2,305.3 L177.5,305.3 L186.7,305.6 L196.0,305.6 L205.3,305.6 L214.5,305.6 L223.8,305.3 L233.1,305.0 L242.4,304.3 L251.6,303.4 L260.9,302.1 L270.2,306.1 L279.4,306.6 L288.7,306.6" fill="none" stroke="#6a6a6a" stroke-width="0.9" stroke-dasharray="1,2.5"/><path d="M77.0,304.4V308.8L73.3,306.6Z" fill="#6a6a6a"/><path d="M86.3,304.4V308.8L82.6,306.6Z" fill="#6a6a6a"/><path d="M95.6,304.4V308.8L91.8,306.6Z" fill="#6a6a6a"/><path d="M104.8,303.4V307.8L101.1,305.6Z" fill="#6a6a6a"/><path d="M114.1,299.9V304.3L110.4,302.1Z" fill="#6a6a6a"/><path d="M123.4,288.7V293.1L119.6,290.9Z" fill="#6a6a6a"/><path d="M132.7,289.3V293.7L128.9,291.5Z" fill="#6a6a6a"/><path d="M141.9,299.9V304.3L138.2,302.1Z" fill="#6a6a6a"/><path d="M151.2,301.5V305.9L147.5,303.7Z" fill="#6a6a6a"/><path d="M160.5,302.3V306.7L156.7,304.5Z" fill="#6a6a6a"/><path d="M169.7,303.1V307.5L166.0,305.3Z" fill="#6a6a6a"/><path d="M179.0,303.1V307.5L175.3,305.3Z" fill="#6a6a6a"/><path d="M188.3,303.4V307.8L184.5,305.6Z" fill="#6a6a6a"/><path d="M197.5,303.4V307.8L193.8,305.6Z" fill="#6a6a6a"/><path d="M206.8,303.4V307.8L203.1,305.6Z" fill="#6a6a6a"/><path d="M216.1,303.4V307.8L212.3,305.6Z" fill="#6a6a6a"/><path d="M225.4,303.1V307.5L221.6,305.3Z" fill="#6a6a6a"/><path d="M234.6,302.8V307.2L230.9,305.0Z" fill="#6a6a6a"/><path d="M243.9,302.1V306.5L240.2,304.3Z" fill="#6a6a6a"/><path d="M253.2,301.2V305.6L249.4,303.4Z" fill="#6a6a6a"/><path d="M262.4,299.9V304.3L258.7,302.1Z" fill="#6a6a6a"/><path d="M271.7,303.9V308.3L268.0,306.1Z" fill="#6a6a6a"/><path d="M281.0,304.4V308.8L277.2,306.6Z" fill="#6a6a6a"/><path d="M290.2,304.4V308.8L286.5,306.6Z" fill="#6a6a6a"/>
<path d="M75.5,306.1 L84.8,306.1 L94.0,305.9 L103.3,304.5 L112.6,302.1 L121.8,294.1 L131.1,184.9 L140.4,247.7 L149.7,264.8 L158.9,276.0 L168.2,293.5 L177.5,291.1 L186.7,300.2 L196.0,300.0 L205.3,300.5 L214.5,299.7 L223.8,299.7 L233.1,297.6 L242.4,292.3 L251.6,285.8 L260.9,278.0 L270.2,302.1 L279.4,305.3 L288.7,306.1" fill="none" stroke="#707070" stroke-width="0.9" stroke-dasharray="1,3"/><path d="M74.1,306.1H76.9M75.5,304.7V307.5" stroke="#707070" stroke-width="0.9" fill="none"/><path d="M83.4,306.1H86.2M84.8,304.7V307.5" stroke="#707070" stroke-width="0.9" fill="none"/><path d="M92.6,305.9H95.4M94.0,304.5V307.3" stroke="#707070" stroke-width="0.9" fill="none"/><path d="M101.9,304.5H104.7M103.3,303.1V305.9" stroke="#707070" stroke-width="0.9" fill="none"/><path d="M111.2,302.1H114.0M112.6,300.7V303.5" stroke="#707070" stroke-width="0.9" fill="none"/><path d="M120.4,294.1H123.2M121.8,292.7V295.5" stroke="#707070" stroke-width="0.9" fill="none"/><path d="M129.7,184.9H132.5M131.1,183.5V186.3" stroke="#707070" stroke-width="0.9" fill="none"/><path d="M139.0,247.7H141.8M140.4,246.3V249.1" stroke="#707070" stroke-width="0.9" fill="none"/><path d="M148.3,264.8H151.1M149.7,263.4V266.2" stroke="#707070" stroke-width="0.9" fill="none"/><path d="M157.5,276.0H160.3M158.9,274.6V277.4" stroke="#707070" stroke-width="0.9" fill="none"/><path d="M166.8,293.5H169.6M168.2,292.1V294.9" stroke="#707070" stroke-width="0.9" fill="none"/><path d="M176.1,291.1H178.9M177.5,289.7V292.5" stroke="#707070" stroke-width="0.9" fill="none"/><path d="M185.3,300.2H188.1M186.7,298.8V301.6" stroke="#707070" stroke-width="0.9" fill="none"/><path d="M194.6,300.0H197.4M196.0,298.6V301.4" stroke="#707070" stroke-width="0.9" fill="none"/><path d="M203.9,300.5H206.7M205.3,299.1V301.9" stroke="#707070" stroke-width="0.9" fill="none"/><path d="M213.1,299.7H215.9M214.5,298.3V301.1" stroke="#707070" stroke-width="0.9" fill="none"/><path d="M222.4,299.7H225.2M223.8,298.3V301.1" stroke="#707070" stroke-width="0.9" fill="none"/><path d="M231.7,297.6H234.5M233.1,296.2V299.0" stroke="#707070" stroke-width="0.9" fill="none"/><path d="M241.0,292.3H243.8M242.4,290.9V293.7" stroke="#707070" stroke-width="0.9" fill="none"/><path d="M250.2,285.8H253.0M251.6,284.4V287.2" stroke="#707070" stroke-width="0.9" fill="none"/><path d="M259.5,278.0H262.3M260.9,276.6V279.4" stroke="#707070" stroke-width="0.9" fill="none"/><path d="M268.8,302.1H271.6M270.2,300.7V303.5" stroke="#707070" stroke-width="0.9" fill="none"/><path d="M278.0,305.3H280.8M279.4,303.9V306.7" stroke="#707070" stroke-width="0.9" fill="none"/><path d="M287.3,306.1H290.1M288.7,304.7V307.5" stroke="#707070" stroke-width="0.9" fill="none"/>
<path d="M75.5,305.5 L84.8,305.6 L94.0,305.5 L103.3,305.6 L112.6,305.0 L121.8,305.3 L131.1,305.5 L140.4,305.0 L149.7,305.6 L158.9,305.1 L168.2,305.6 L177.5,305.0 L186.7,305.6 L196.0,305.3 L205.3,305.5 L214.5,305.5 L223.8,305.3 L233.1,305.1 L242.4,304.7 L251.6,304.3 L260.9,304.5 L270.2,305.5 L279.4,305.6 L288.7,305.6" fill="none" stroke="#e3701a" stroke-width="1" stroke-dasharray="2,3,1,3"/><circle cx="75.5" cy="305.5" r="2.0" fill="#e3701a"/><circle cx="84.8" cy="305.6" r="2.0" fill="#e3701a"/><circle cx="94.0" cy="305.5" r="2.0" fill="#e3701a"/><circle cx="103.3" cy="305.6" r="2.0" fill="#e3701a"/><circle cx="112.6" cy="305.0" r="2.0" fill="#e3701a"/><circle cx="121.8" cy="305.3" r="2.0" fill="#e3701a"/><circle cx="131.1" cy="305.5" r="2.0" fill="#e3701a"/><circle cx="140.4" cy="305.0" r="2.0" fill="#e3701a"/><circle cx="149.7" cy="305.6" r="2.0" fill="#e3701a"/><circle cx="158.9" cy="305.1" r="2.0" fill="#e3701a"/><circle cx="168.2" cy="305.6" r="2.0" fill="#e3701a"/><circle cx="177.5" cy="305.0" r="2.0" fill="#e3701a"/><circle cx="186.7" cy="305.6" r="2.0" fill="#e3701a"/><circle cx="196.0" cy="305.3" r="2.0" fill="#e3701a"/><circle cx="205.3" cy="305.5" r="2.0" fill="#e3701a"/><circle cx="214.5" cy="305.5" r="2.0" fill="#e3701a"/><circle cx="223.8" cy="305.3" r="2.0" fill="#e3701a"/><circle cx="233.1" cy="305.1" r="2.0" fill="#e3701a"/><circle cx="242.4" cy="304.7" r="2.0" fill="#e3701a"/><circle cx="251.6" cy="304.3" r="2.0" fill="#e3701a"/><circle cx="260.9" cy="304.5" r="2.0" fill="#e3701a"/><circle cx="270.2" cy="305.5" r="2.0" fill="#e3701a"/><circle cx="279.4" cy="305.6" r="2.0" fill="#e3701a"/><circle cx="288.7" cy="305.6" r="2.0" fill="#e3701a"/>
<path d="M75.5,305.6 L84.8,305.6 L94.0,305.6 L103.3,302.1 L112.6,289.8 L121.8,276.7 L131.1,267.2 L140.4,294.1 L149.7,299.7 L158.9,300.0 L168.2,303.5 L177.5,297.1 L186.7,303.2 L196.0,303.2 L205.3,304.0 L214.5,304.0 L223.8,303.7 L233.1,303.7 L242.4,303.7 L251.6,303.1 L260.9,300.3 L270.2,304.5 L279.4,306.1 L288.7,304.0" fill="none" stroke="#22aaee" stroke-width="1" stroke-dasharray="2.5,3.5"/><path d="M73.2,304.0H77.8L75.5,307.9Z" fill="#22aaee"/><path d="M82.5,304.0H87.1L84.8,307.9Z" fill="#22aaee"/><path d="M91.7,304.0H96.3L94.0,307.9Z" fill="#22aaee"/><path d="M101.0,300.5H105.6L103.3,304.4Z" fill="#22aaee"/><path d="M110.3,288.2H114.9L112.6,292.1Z" fill="#22aaee"/><path d="M119.5,275.1H124.1L121.8,279.0Z" fill="#22aaee"/><path d="M128.8,265.6H133.4L131.1,269.5Z" fill="#22aaee"/><path d="M138.1,292.5H142.7L140.4,296.4Z" fill="#22aaee"/><path d="M147.4,298.1H152.0L149.7,302.0Z" fill="#22aaee"/><path d="M156.6,298.4H161.2L158.9,302.3Z" fill="#22aaee"/><path d="M165.9,301.9H170.5L168.2,305.8Z" fill="#22aaee"/><path d="M175.2,295.5H179.8L177.5,299.4Z" fill="#22aaee"/><path d="M184.4,301.6H189.0L186.7,305.5Z" fill="#22aaee"/><path d="M193.7,301.6H198.3L196.0,305.5Z" fill="#22aaee"/><path d="M203.0,302.4H207.6L205.3,306.3Z" fill="#22aaee"/><path d="M212.2,302.4H216.8L214.5,306.3Z" fill="#22aaee"/><path d="M221.5,302.1H226.1L223.8,306.0Z" fill="#22aaee"/><path d="M230.8,302.1H235.4L233.1,306.0Z" fill="#22aaee"/><path d="M240.1,302.1H244.7L242.4,306.0Z" fill="#22aaee"/><path d="M249.3,301.5H253.9L251.6,305.4Z" fill="#22aaee"/><path d="M258.6,298.7H263.2L260.9,302.6Z" fill="#22aaee"/><path d="M267.9,302.9H272.5L270.2,306.8Z" fill="#22aaee"/><path d="M277.1,304.5H281.7L279.4,308.4Z" fill="#22aaee"/><path d="M286.4,302.4H291.0L288.7,306.3Z" fill="#22aaee"/>
<path d="M75.5,306.4 L84.8,306.4 L94.0,306.3 L103.3,303.7 L112.6,287.7 L121.8,284.5 L131.1,262.1 L140.4,287.7 L149.7,298.9 L158.9,300.5 L168.2,302.1 L177.5,302.1 L186.7,302.9 L196.0,302.9 L205.3,302.9 L214.5,302.9 L223.8,302.1 L233.1,301.3 L242.4,298.9 L251.6,295.7 L260.9,292.5 L270.2,303.7 L279.4,306.1 L288.7,306.4" fill="none" stroke="#8a8a8a" stroke-width="0.9" stroke-dasharray="1,3"/><path d="M74.2,306.4H76.8M75.5,305.1V307.7" stroke="#8a8a8a" stroke-width="0.9" fill="none"/><path d="M83.5,306.4H86.1M84.8,305.1V307.7" stroke="#8a8a8a" stroke-width="0.9" fill="none"/><path d="M92.7,306.3H95.3M94.0,305.0V307.6" stroke="#8a8a8a" stroke-width="0.9" fill="none"/><path d="M102.0,303.7H104.6M103.3,302.4V305.0" stroke="#8a8a8a" stroke-width="0.9" fill="none"/><path d="M111.3,287.7H113.9M112.6,286.4V289.0" stroke="#8a8a8a" stroke-width="0.9" fill="none"/><path d="M120.5,284.5H123.1M121.8,283.2V285.8" stroke="#8a8a8a" stroke-width="0.9" fill="none"/><path d="M129.8,262.1H132.4M131.1,260.8V263.4" stroke="#8a8a8a" stroke-width="0.9" fill="none"/><path d="M139.1,287.7H141.7M140.4,286.4V289.0" stroke="#8a8a8a" stroke-width="0.9" fill="none"/><path d="M148.4,298.9H151.0M149.7,297.6V300.2" stroke="#8a8a8a" stroke-width="0.9" fill="none"/><path d="M157.6,300.5H160.2M158.9,299.2V301.8" stroke="#8a8a8a" stroke-width="0.9" fill="none"/><path d="M166.9,302.1H169.5M168.2,300.8V303.4" stroke="#8a8a8a" stroke-width="0.9" fill="none"/><path d="M176.2,302.1H178.8M177.5,300.8V303.4" stroke="#8a8a8a" stroke-width="0.9" fill="none"/><path d="M185.4,302.9H188.0M186.7,301.6V304.2" stroke="#8a8a8a" stroke-width="0.9" fill="none"/><path d="M194.7,302.9H197.3M196.0,301.6V304.2" stroke="#8a8a8a" stroke-width="0.9" fill="none"/><path d="M204.0,302.9H206.6M205.3,301.6V304.2" stroke="#8a8a8a" stroke-width="0.9" fill="none"/><path d="M213.2,302.9H215.8M214.5,301.6V304.2" stroke="#8a8a8a" stroke-width="0.9" fill="none"/><path d="M222.5,302.1H225.1M223.8,300.8V303.4" stroke="#8a8a8a" stroke-width="0.9" fill="none"/><path d="M231.8,301.3H234.4M233.1,300.0V302.6" stroke="#8a8a8a" stroke-width="0.9" fill="none"/><path d="M241.1,298.9H243.7M242.4,297.6V300.2" stroke="#8a8a8a" stroke-width="0.9" fill="none"/><path d="M250.3,295.7H252.9M251.6,294.4V297.0" stroke="#8a8a8a" stroke-width="0.9" fill="none"/><path d="M259.6,292.5H262.2M260.9,291.2V293.8" stroke="#8a8a8a" stroke-width="0.9" fill="none"/><path d="M268.9,303.7H271.5M270.2,302.4V305.0" stroke="#8a8a8a" stroke-width="0.9" fill="none"/><path d="M278.1,306.1H280.7M279.4,304.8V307.4" stroke="#8a8a8a" stroke-width="0.9" fill="none"/><path d="M287.4,306.4H290.0M288.7,305.1V307.7" stroke="#8a8a8a" stroke-width="0.9" fill="none"/>
<path d="M75.5,306.4 L84.8,306.4 L94.0,306.4 L103.3,302.9 L112.6,292.2 L121.8,286.1 L131.1,283.6 L140.4,299.7 L149.7,304.5 L158.9,302.9 L168.2,305.1 L177.5,304.7 L186.7,305.5 L196.0,305.6 L205.3,305.6 L214.5,305.6 L223.8,305.6 L233.1,305.5 L242.4,305.3 L251.6,305.0 L260.9,304.5 L270.2,306.1 L279.4,306.4 L288.7,306.4" fill="none" stroke="#4a78cc" stroke-width="1.2"/><path d="M74.3,306.4H76.7M75.5,305.2V307.6" stroke="#4a78cc" stroke-width="0.9" fill="none"/><path d="M83.6,306.4H86.0M84.8,305.2V307.6" stroke="#4a78cc" stroke-width="0.9" fill="none"/><path d="M92.8,306.4H95.2M94.0,305.2V307.6" stroke="#4a78cc" stroke-width="0.9" fill="none"/><path d="M102.1,302.9H104.5M103.3,301.7V304.1" stroke="#4a78cc" stroke-width="0.9" fill="none"/><path d="M111.4,292.2H113.8M112.6,291.0V293.4" stroke="#4a78cc" stroke-width="0.9" fill="none"/><path d="M120.6,286.1H123.0M121.8,284.9V287.3" stroke="#4a78cc" stroke-width="0.9" fill="none"/><path d="M129.9,283.6H132.3M131.1,282.4V284.8" stroke="#4a78cc" stroke-width="0.9" fill="none"/><path d="M139.2,299.7H141.6M140.4,298.5V300.9" stroke="#4a78cc" stroke-width="0.9" fill="none"/><path d="M148.5,304.5H150.9M149.7,303.3V305.7" stroke="#4a78cc" stroke-width="0.9" fill="none"/><path d="M157.7,302.9H160.1M158.9,301.7V304.1" stroke="#4a78cc" stroke-width="0.9" fill="none"/><path d="M167.0,305.1H169.4M168.2,303.9V306.3" stroke="#4a78cc" stroke-width="0.9" fill="none"/><path d="M176.3,304.7H178.7M177.5,303.5V305.9" stroke="#4a78cc" stroke-width="0.9" fill="none"/><path d="M185.5,305.5H187.9M186.7,304.3V306.7" stroke="#4a78cc" stroke-width="0.9" fill="none"/><path d="M194.8,305.6H197.2M196.0,304.4V306.8" stroke="#4a78cc" stroke-width="0.9" fill="none"/><path d="M204.1,305.6H206.5M205.3,304.4V306.8" stroke="#4a78cc" stroke-width="0.9" fill="none"/><path d="M213.3,305.6H215.7M214.5,304.4V306.8" stroke="#4a78cc" stroke-width="0.9" fill="none"/><path d="M222.6,305.6H225.0M223.8,304.4V306.8" stroke="#4a78cc" stroke-width="0.9" fill="none"/><path d="M231.9,305.5H234.3M233.1,304.3V306.7" stroke="#4a78cc" stroke-width="0.9" fill="none"/><path d="M241.2,305.3H243.6M242.4,304.1V306.5" stroke="#4a78cc" stroke-width="0.9" fill="none"/><path d="M250.4,305.0H252.8M251.6,303.8V306.2" stroke="#4a78cc" stroke-width="0.9" fill="none"/><path d="M259.7,304.5H262.1M260.9,303.3V305.7" stroke="#4a78cc" stroke-width="0.9" fill="none"/><path d="M269.0,306.1H271.4M270.2,304.9V307.3" stroke="#4a78cc" stroke-width="0.9" fill="none"/><path d="M278.2,306.4H280.6M279.4,305.2V307.6" stroke="#4a78cc" stroke-width="0.9" fill="none"/><path d="M287.5,306.4H289.9M288.7,305.2V307.6" stroke="#4a78cc" stroke-width="0.9" fill="none"/>
<path d="M75.5,306.4 L84.8,306.4 L94.0,306.4 L103.3,306.1 L112.6,305.3 L121.8,303.7 L131.1,302.9 L140.4,305.3 L149.7,305.9 L158.9,306.1 L168.2,306.3 L177.5,306.3 L186.7,306.3 L196.0,306.3 L205.3,306.3 L214.5,306.3 L223.8,306.1 L233.1,305.8 L242.4,305.5 L251.6,305.0 L260.9,304.3 L270.2,306.3 L279.4,306.4 L288.7,306.4" fill="none" stroke="#c6e33c" stroke-width="1" stroke-dasharray="1,3"/><path d="M73.7,305.2H77.3L75.5,308.2Z" fill="#c6e33c"/><path d="M83.0,305.2H86.6L84.8,308.2Z" fill="#c6e33c"/><path d="M92.2,305.2H95.8L94.0,308.2Z" fill="#c6e33c"/><path d="M101.5,304.8H105.1L103.3,307.9Z" fill="#c6e33c"/><path d="M110.8,304.0H114.4L112.6,307.1Z" fill="#c6e33c"/><path d="M120.0,302.4H123.6L121.8,305.5Z" fill="#c6e33c"/><path d="M129.3,301.6H132.9L131.1,304.7Z" fill="#c6e33c"/><path d="M138.6,304.0H142.2L140.4,307.1Z" fill="#c6e33c"/><path d="M147.9,304.7H151.5L149.7,307.7Z" fill="#c6e33c"/><path d="M157.1,304.8H160.7L158.9,307.9Z" fill="#c6e33c"/><path d="M166.4,305.0H170.0L168.2,308.1Z" fill="#c6e33c"/><path d="M175.7,305.0H179.3L177.5,308.1Z" fill="#c6e33c"/><path d="M184.9,305.0H188.5L186.7,308.1Z" fill="#c6e33c"/><path d="M194.2,305.0H197.8L196.0,308.1Z" fill="#c6e33c"/><path d="M203.5,305.0H207.1L205.3,308.1Z" fill="#c6e33c"/><path d="M212.7,305.0H216.3L214.5,308.1Z" fill="#c6e33c"/><path d="M222.0,304.8H225.6L223.8,307.9Z" fill="#c6e33c"/><path d="M231.3,304.5H234.9L233.1,307.6Z" fill="#c6e33c"/><path d="M240.6,304.2H244.2L242.4,307.3Z" fill="#c6e33c"/><path d="M249.8,303.7H253.4L251.6,306.8Z" fill="#c6e33c"/><path d="M259.1,303.1H262.7L260.9,306.1Z" fill="#c6e33c"/><path d="M268.4,305.0H272.0L270.2,308.1Z" fill="#c6e33c"/><path d="M277.6,305.2H281.2L279.4,308.2Z" fill="#c6e33c"/><path d="M286.9,305.2H290.5L288.7,308.2Z" fill="#c6e33c"/>
<path d="M75.5,306.4 L84.8,306.4 L94.0,306.3 L103.3,304.5 L112.6,302.1 L121.8,290.9 L131.1,228.5 L140.4,263.4 L149.7,285.0 L158.9,290.3 L168.2,302.3 L177.5,296.3 L186.7,304.0 L196.0,304.7 L205.3,305.3 L214.5,305.3 L223.8,305.3 L233.1,302.7 L242.4,299.7 L251.6,297.1 L260.9,292.3 L270.2,304.5 L279.4,306.1 L288.7,306.4" fill="none" stroke="#a6d98a" stroke-width="0.9"/><circle cx="75.5" cy="306.4" r="1.9" fill="#a6d98a"/><circle cx="84.8" cy="306.4" r="1.9" fill="#a6d98a"/><circle cx="94.0" cy="306.3" r="1.9" fill="#a6d98a"/><circle cx="103.3" cy="304.5" r="1.9" fill="#a6d98a"/><circle cx="112.6" cy="302.1" r="1.9" fill="#a6d98a"/><circle cx="121.8" cy="290.9" r="1.9" fill="#a6d98a"/><circle cx="131.1" cy="228.5" r="1.9" fill="#a6d98a"/><circle cx="140.4" cy="263.4" r="1.9" fill="#a6d98a"/><circle cx="149.7" cy="285.0" r="1.9" fill="#a6d98a"/><circle cx="158.9" cy="290.3" r="1.9" fill="#a6d98a"/><circle cx="168.2" cy="302.3" r="1.9" fill="#a6d98a"/><circle cx="177.5" cy="296.3" r="1.9" fill="#a6d98a"/><circle cx="186.7" cy="304.0" r="1.9" fill="#a6d98a"/><circle cx="196.0" cy="304.7" r="1.9" fill="#a6d98a"/><circle cx="205.3" cy="305.3" r="1.9" fill="#a6d98a"/><circle cx="214.5" cy="305.3" r="1.9" fill="#a6d98a"/><circle cx="223.8" cy="305.3" r="1.9" fill="#a6d98a"/><circle cx="233.1" cy="302.7" r="1.9" fill="#a6d98a"/><circle cx="242.4" cy="299.7" r="1.9" fill="#a6d98a"/><circle cx="251.6" cy="297.1" r="1.9" fill="#a6d98a"/><circle cx="260.9" cy="292.3" r="1.9" fill="#a6d98a"/><circle cx="270.2" cy="304.5" r="1.9" fill="#a6d98a"/><circle cx="279.4" cy="306.1" r="1.9" fill="#a6d98a"/><circle cx="288.7" cy="306.4" r="1.9" fill="#a6d98a"/>
<path d="M75.5,306.6 L84.8,306.6 L94.0,306.6 L103.3,305.3 L112.6,302.1 L121.8,294.3 L131.1,293.5 L140.4,302.1 L149.7,304.5 L158.9,305.0 L168.2,305.6 L177.5,305.6 L186.7,305.9 L196.0,305.9 L205.3,305.9 L214.5,305.9 L223.8,305.6 L233.1,305.3 L242.4,304.5 L251.6,303.7 L260.9,302.9 L270.2,306.1 L279.4,306.6 L288.7,306.6" fill="none" stroke="#777777" stroke-width="1" stroke-dasharray="1,2"/><rect x="73.6" y="304.7" width="3.8" height="3.8" fill="#777777"/><rect x="82.9" y="304.7" width="3.8" height="3.8" fill="#777777"/><rect x="92.1" y="304.7" width="3.8" height="3.8" fill="#777777"/><rect x="101.4" y="303.4" width="3.8" height="3.8" fill="#777777"/><rect x="110.7" y="300.2" width="3.8" height="3.8" fill="#777777"/><rect x="119.9" y="292.4" width="3.8" height="3.8" fill="#777777"/><rect x="129.2" y="291.6" width="3.8" height="3.8" fill="#777777"/><rect x="138.5" y="300.2" width="3.8" height="3.8" fill="#777777"/><rect x="147.8" y="302.6" width="3.8" height="3.8" fill="#777777"/><rect x="157.0" y="303.1" width="3.8" height="3.8" fill="#777777"/><rect x="166.3" y="303.7" width="3.8" height="3.8" fill="#777777"/><rect x="175.6" y="303.7" width="3.8" height="3.8" fill="#777777"/><rect x="184.8" y="304.0" width="3.8" height="3.8" fill="#777777"/><rect x="194.1" y="304.0" width="3.8" height="3.8" fill="#777777"/><rect x="203.4" y="304.0" width="3.8" height="3.8" fill="#777777"/><rect x="212.6" y="304.0" width="3.8" height="3.8" fill="#777777"/><rect x="221.9" y="303.7" width="3.8" height="3.8" fill="#777777"/><rect x="231.2" y="303.4" width="3.8" height="3.8" fill="#777777"/><rect x="240.5" y="302.6" width="3.8" height="3.8" fill="#777777"/><rect x="249.7" y="301.8" width="3.8" height="3.8" fill="#777777"/><rect x="259.0" y="301.0" width="3.8" height="3.8" fill="#777777"/><rect x="268.3" y="304.2" width="3.8" height="3.8" fill="#777777"/><rect x="277.5" y="304.7" width="3.8" height="3.8" fill="#777777"/><rect x="286.8" y="304.7" width="3.8" height="3.8" fill="#777777"/>
<path d="M75.5,304.7 L84.8,305.9 L94.0,305.0 L103.3,305.9 L112.6,305.3 L121.8,305.9 L131.1,304.8 L140.4,305.9 L149.7,305.3 L158.9,305.9 L168.2,305.3 L177.5,305.9 L186.7,304.8 L196.0,305.9 L205.3,305.3 L214.5,305.9 L223.8,305.0 L233.1,305.8 L242.4,304.7 L251.6,305.8 L260.9,304.3 L270.2,305.9 L279.4,305.6 L288.7,305.9" fill="none" stroke="#e3701a" stroke-width="1" stroke-dasharray="2,3,1,3"/><circle cx="75.5" cy="304.7" r="2.0" fill="#e3701a"/><circle cx="84.8" cy="305.9" r="2.0" fill="#e3701a"/><circle cx="94.0" cy="305.0" r="2.0" fill="#e3701a"/><circle cx="103.3" cy="305.9" r="2.0" fill="#e3701a"/><circle cx="112.6" cy="305.3" r="2.0" fill="#e3701a"/><circle cx="121.8" cy="305.9" r="2.0" fill="#e3701a"/><circle cx="131.1" cy="304.8" r="2.0" fill="#e3701a"/><circle cx="140.4" cy="305.9" r="2.0" fill="#e3701a"/><circle cx="149.7" cy="305.3" r="2.0" fill="#e3701a"/><circle cx="158.9" cy="305.9" r="2.0" fill="#e3701a"/><circle cx="168.2" cy="305.3" r="2.0" fill="#e3701a"/><circle cx="177.5" cy="305.9" r="2.0" fill="#e3701a"/><circle cx="186.7" cy="304.8" r="2.0" fill="#e3701a"/><circle cx="196.0" cy="305.9" r="2.0" fill="#e3701a"/><circle cx="205.3" cy="305.3" r="2.0" fill="#e3701a"/><circle cx="214.5" cy="305.9" r="2.0" fill="#e3701a"/><circle cx="223.8" cy="305.0" r="2.0" fill="#e3701a"/><circle cx="233.1" cy="305.8" r="2.0" fill="#e3701a"/><circle cx="242.4" cy="304.7" r="2.0" fill="#e3701a"/><circle cx="251.6" cy="305.8" r="2.0" fill="#e3701a"/><circle cx="260.9" cy="304.3" r="2.0" fill="#e3701a"/><circle cx="270.2" cy="305.9" r="2.0" fill="#e3701a"/><circle cx="279.4" cy="305.6" r="2.0" fill="#e3701a"/><circle cx="288.7" cy="305.9" r="2.0" fill="#e3701a"/>
<path d="M75.5,306.4 L84.8,306.4 L94.0,306.4 L103.3,305.3 L112.6,303.7 L121.8,298.9 L131.1,277.2 L140.4,292.3 L149.7,302.4 L158.9,302.4 L168.2,304.5 L177.5,304.5 L186.7,305.3 L196.0,305.3 L205.3,305.3 L214.5,305.3 L223.8,305.6 L233.1,305.0 L242.4,304.0 L251.6,303.1 L260.9,301.5 L270.2,305.6 L279.4,306.1 L288.7,306.4" fill="none" stroke="#a6d98a" stroke-width="0.9"/><circle cx="75.5" cy="306.4" r="1.8" fill="#a6d98a"/><circle cx="84.8" cy="306.4" r="1.8" fill="#a6d98a"/><circle cx="94.0" cy="306.4" r="1.8" fill="#a6d98a"/><circle cx="103.3" cy="305.3" r="1.8" fill="#a6d98a"/><circle cx="112.6" cy="303.7" r="1.8" fill="#a6d98a"/><circle cx="121.8" cy="298.9" r="1.8" fill="#a6d98a"/><circle cx="131.1" cy="277.2" r="1.8" fill="#a6d98a"/><circle cx="140.4" cy="292.3" r="1.8" fill="#a6d98a"/><circle cx="149.7" cy="302.4" r="1.8" fill="#a6d98a"/><circle cx="158.9" cy="302.4" r="1.8" fill="#a6d98a"/><circle cx="168.2" cy="304.5" r="1.8" fill="#a6d98a"/><circle cx="177.5" cy="304.5" r="1.8" fill="#a6d98a"/><circle cx="186.7" cy="305.3" r="1.8" fill="#a6d98a"/><circle cx="196.0" cy="305.3" r="1.8" fill="#a6d98a"/><circle cx="205.3" cy="305.3" r="1.8" fill="#a6d98a"/><circle cx="214.5" cy="305.3" r="1.8" fill="#a6d98a"/><circle cx="223.8" cy="305.6" r="1.8" fill="#a6d98a"/><circle cx="233.1" cy="305.0" r="1.8" fill="#a6d98a"/><circle cx="242.4" cy="304.0" r="1.8" fill="#a6d98a"/><circle cx="251.6" cy="303.1" r="1.8" fill="#a6d98a"/><circle cx="260.9" cy="301.5" r="1.8" fill="#a6d98a"/><circle cx="270.2" cy="305.6" r="1.8" fill="#a6d98a"/><circle cx="279.4" cy="306.1" r="1.8" fill="#a6d98a"/><circle cx="288.7" cy="306.4" r="1.8" fill="#a6d98a"/>
<path d="M75.5,306.7 L84.8,306.7 L94.0,306.7 L103.3,306.7 L112.6,306.7 L121.8,306.7 L131.1,306.7 L140.4,306.7 L149.7,306.7 L158.9,306.7 L168.2,306.7 L177.5,306.7 L186.7,306.7 L196.0,306.7 L205.3,306.7 L214.5,306.7 L223.8,306.7 L233.1,306.7 L242.4,306.7 L251.6,306.7 L260.9,306.7 L270.2,306.7 L279.4,306.7 L288.7,306.7" fill="none" stroke="#d98080" stroke-width="1.0" stroke-dasharray="3,5"/><circle cx="75.5" cy="306.7" r="1.5" fill="#d98080"/><circle cx="84.8" cy="306.7" r="1.5" fill="#d98080"/><circle cx="94.0" cy="306.7" r="1.5" fill="#d98080"/><circle cx="103.3" cy="306.7" r="1.5" fill="#d98080"/><circle cx="112.6" cy="306.7" r="1.5" fill="#d98080"/><circle cx="121.8" cy="306.7" r="1.5" fill="#d98080"/><circle cx="131.1" cy="306.7" r="1.5" fill="#d98080"/><circle cx="140.4" cy="306.7" r="1.5" fill="#d98080"/><circle cx="149.7" cy="306.7" r="1.5" fill="#d98080"/><circle cx="158.9" cy="306.7" r="1.5" fill="#d98080"/><circle cx="168.2" cy="306.7" r="1.5" fill="#d98080"/><circle cx="177.5" cy="306.7" r="1.5" fill="#d98080"/><circle cx="186.7" cy="306.7" r="1.5" fill="#d98080"/><circle cx="196.0" cy="306.7" r="1.5" fill="#d98080"/><circle cx="205.3" cy="306.7" r="1.5" fill="#d98080"/><circle cx="214.5" cy="306.7" r="1.5" fill="#d98080"/><circle cx="223.8" cy="306.7" r="1.5" fill="#d98080"/><circle cx="233.1" cy="306.7" r="1.5" fill="#d98080"/><circle cx="242.4" cy="306.7" r="1.5" fill="#d98080"/><circle cx="251.6" cy="306.7" r="1.5" fill="#d98080"/><circle cx="260.9" cy="306.7" r="1.5" fill="#d98080"/><circle cx="270.2" cy="306.7" r="1.5" fill="#d98080"/><circle cx="279.4" cy="306.7" r="1.5" fill="#d98080"/><circle cx="288.7" cy="306.7" r="1.5" fill="#d98080"/>
<path d="M75.5,306.1 L84.8,306.1 L94.0,306.1 L103.3,306.1 L112.6,305.6 L121.8,305.8 L131.1,305.9 L140.4,306.1 L149.7,306.1 L158.9,306.1 L168.2,306.1 L177.5,306.1 L186.7,306.1 L196.0,306.1 L205.3,306.1 L214.5,306.1 L223.8,306.1 L233.1,306.1 L242.4,305.9 L251.6,305.6 L260.9,305.3 L270.2,306.1 L279.4,306.1 L288.7,306.1" fill="none" stroke="#e3701a" stroke-width="1" stroke-dasharray="2,3,1,3"/><circle cx="75.5" cy="306.1" r="2.0" fill="#e3701a"/><circle cx="84.8" cy="306.1" r="2.0" fill="#e3701a"/><circle cx="94.0" cy="306.1" r="2.0" fill="#e3701a"/><circle cx="103.3" cy="306.1" r="2.0" fill="#e3701a"/><circle cx="112.6" cy="305.6" r="2.0" fill="#e3701a"/><circle cx="121.8" cy="305.8" r="2.0" fill="#e3701a"/><circle cx="131.1" cy="305.9" r="2.0" fill="#e3701a"/><circle cx="140.4" cy="306.1" r="2.0" fill="#e3701a"/><circle cx="149.7" cy="306.1" r="2.0" fill="#e3701a"/><circle cx="158.9" cy="306.1" r="2.0" fill="#e3701a"/><circle cx="168.2" cy="306.1" r="2.0" fill="#e3701a"/><circle cx="177.5" cy="306.1" r="2.0" fill="#e3701a"/><circle cx="186.7" cy="306.1" r="2.0" fill="#e3701a"/><circle cx="196.0" cy="306.1" r="2.0" fill="#e3701a"/><circle cx="205.3" cy="306.1" r="2.0" fill="#e3701a"/><circle cx="214.5" cy="306.1" r="2.0" fill="#e3701a"/><circle cx="223.8" cy="306.1" r="2.0" fill="#e3701a"/><circle cx="233.1" cy="306.1" r="2.0" fill="#e3701a"/><circle cx="242.4" cy="305.9" r="2.0" fill="#e3701a"/><circle cx="251.6" cy="305.6" r="2.0" fill="#e3701a"/><circle cx="260.9" cy="305.3" r="2.0" fill="#e3701a"/><circle cx="270.2" cy="306.1" r="2.0" fill="#e3701a"/><circle cx="279.4" cy="306.1" r="2.0" fill="#e3701a"/><circle cx="288.7" cy="306.1" r="2.0" fill="#e3701a"/>
</g>
<clipPath id="cl_c2"><rect x="356.5" y="174.1" width="210.20000000000005" height="133.10000000000002"/></clipPath>
<g clip-path="url(#cl_c2)">
<path d="M356.5,307.3 L365.5,307.3 L374.5,307.3 L383.5,305.7 L392.5,301.5 L401.5,292.7 L410.6,288.0 L419.6,271.3 L428.6,256.0 L437.6,246.0 L446.6,237.1 L455.6,237.6 L464.6,225.8 L473.6,222.7 L482.6,216.4 L491.6,212.7 L500.6,233.8 L509.6,248.0 L518.7,261.2 L527.7,269.8 L536.7,276.6 L545.7,301.9 L554.7,304.6 L563.7,306.2" fill="none" stroke="#8a2be2" stroke-width="1" stroke-dasharray="2.5,2.5,1,2.5"/><path d="M358.2,304.9V309.7L354.1,307.3Z" fill="#8a2be2"/><path d="M367.2,304.9V309.7L363.1,307.3Z" fill="#8a2be2"/><path d="M376.2,304.9V309.7L372.1,307.3Z" fill="#8a2be2"/><path d="M385.2,303.3V308.1L381.1,305.7Z" fill="#8a2be2"/><path d="M394.2,299.1V303.9L390.1,301.5Z" fill="#8a2be2"/><path d="M403.2,290.3V295.1L399.1,292.7Z" fill="#8a2be2"/><path d="M412.2,285.6V290.4L408.2,288.0Z" fill="#8a2be2"/><path d="M421.2,268.9V273.7L417.2,271.3Z" fill="#8a2be2"/><path d="M430.2,253.6V258.4L426.2,256.0Z" fill="#8a2be2"/><path d="M439.3,243.6V248.4L435.2,246.0Z" fill="#8a2be2"/><path d="M448.3,234.7V239.5L444.2,237.1Z" fill="#8a2be2"/><path d="M457.3,235.2V240.0L453.2,237.6Z" fill="#8a2be2"/><path d="M466.3,223.4V228.2L462.2,225.8Z" fill="#8a2be2"/><path d="M475.3,220.3V225.1L471.2,222.7Z" fill="#8a2be2"/><path d="M484.3,214.0V218.8L480.2,216.4Z" fill="#8a2be2"/><path d="M493.3,210.3V215.1L489.2,212.7Z" fill="#8a2be2"/><path d="M502.3,231.4V236.2L498.2,233.8Z" fill="#8a2be2"/><path d="M511.3,245.6V250.4L507.2,248.0Z" fill="#8a2be2"/><path d="M520.3,258.8V263.6L516.3,261.2Z" fill="#8a2be2"/><path d="M529.3,267.4V272.2L525.3,269.8Z" fill="#8a2be2"/><path d="M538.4,274.2V279.0L534.3,276.6Z" fill="#8a2be2"/><path d="M547.4,299.5V304.3L543.3,301.9Z" fill="#8a2be2"/><path d="M556.4,302.2V307.0L552.3,304.6Z" fill="#8a2be2"/><path d="M565.4,303.8V308.6L561.3,306.2Z" fill="#8a2be2"/>
<path d="M356.5,306.7 L365.5,307.0 L374.5,307.0 L383.5,301.5 L392.5,297.2 L401.5,284.6 L410.6,264.2 L419.6,248.6 L428.6,229.3 L437.6,224.6 L446.6,218.4 L455.6,221.6 L464.6,211.4 L473.6,209.8 L482.6,206.8 L491.6,203.7 L500.6,226.4 L509.6,239.7 L518.7,247.4 L527.7,253.9 L536.7,258.7 L545.7,302.5 L554.7,303.6 L563.7,305.7" fill="none" stroke="#c6e33c" stroke-width="1" stroke-dasharray="2,4"/><rect x="354.8" y="305.0" width="3.4" height="3.4" fill="#c6e33c"/><rect x="363.8" y="305.3" width="3.4" height="3.4" fill="#c6e33c"/><rect x="372.8" y="305.3" width="3.4" height="3.4" fill="#c6e33c"/><rect x="381.8" y="299.8" width="3.4" height="3.4" fill="#c6e33c"/><rect x="390.8" y="295.5" width="3.4" height="3.4" fill="#c6e33c"/><rect x="399.8" y="282.9" width="3.4" height="3.4" fill="#c6e33c"/><rect x="408.9" y="262.5" width="3.4" height="3.4" fill="#c6e33c"/><rect x="417.9" y="246.9" width="3.4" height="3.4" fill="#c6e33c"/><rect x="426.9" y="227.6" width="3.4" height="3.4" fill="#c6e33c"/><rect x="435.9" y="222.9" width="3.4" height="3.4" fill="#c6e33c"/><rect x="444.9" y="216.7" width="3.4" height="3.4" fill="#c6e33c"/><rect x="453.9" y="219.9" width="3.4" height="3.4" fill="#c6e33c"/><rect x="462.9" y="209.7" width="3.4" height="3.4" fill="#c6e33c"/><rect x="471.9" y="208.1" width="3.4" height="3.4" fill="#c6e33c"/><rect x="480.9" y="205.1" width="3.4" height="3.4" fill="#c6e33c"/><rect x="489.9" y="202.0" width="3.4" height="3.4" fill="#c6e33c"/><rect x="498.9" y="224.7" width="3.4" height="3.4" fill="#c6e33c"/><rect x="507.9" y="238.0" width="3.4" height="3.4" fill="#c6e33c"/><rect x="517.0" y="245.7" width="3.4" height="3.4" fill="#c6e33c"/><rect x="526.0" y="252.2" width="3.4" height="3.4" fill="#c6e33c"/><rect x="535.0" y="257.0" width="3.4" height="3.4" fill="#c6e33c"/><rect x="544.0" y="300.8" width="3.4" height="3.4" fill="#c6e33c"/><rect x="553.0" y="301.9" width="3.4" height="3.4" fill="#c6e33c"/><rect x="562.0" y="304.0" width="3.4" height="3.4" fill="#c6e33c"/>
<path d="M356.5,307.4 L365.5,307.4 L374.5,307.4 L383.5,307.0 L392.5,304.1 L401.5,297.2 L410.6,291.9 L419.6,281.4 L428.6,270.8 L437.6,263.4 L446.6,258.1 L455.6,257.1 L464.6,248.6 L473.6,244.4 L482.6,240.5 L491.6,239.6 L500.6,255.0 L509.6,265.5 L518.7,272.9 L527.7,279.3 L536.7,284.0 L545.7,304.1 L554.7,306.2 L563.7,307.0" fill="none" stroke="#6a6a6a" stroke-width="0.9" stroke-dasharray="1,2.5"/><path d="M358.0,305.2V309.6L354.3,307.4Z" fill="#6a6a6a"/><path d="M367.0,305.2V309.6L363.3,307.4Z" fill="#6a6a6a"/><path d="M376.1,305.2V309.6L372.3,307.4Z" fill="#6a6a6a"/><path d="M385.1,304.8V309.2L381.3,307.0Z" fill="#6a6a6a"/><path d="M394.1,301.9V306.3L390.3,304.1Z" fill="#6a6a6a"/><path d="M403.1,295.0V299.4L399.3,297.2Z" fill="#6a6a6a"/><path d="M412.1,289.7V294.1L408.4,291.9Z" fill="#6a6a6a"/><path d="M421.1,279.2V283.6L417.4,281.4Z" fill="#6a6a6a"/><path d="M430.1,268.6V273.0L426.4,270.8Z" fill="#6a6a6a"/><path d="M439.1,261.2V265.6L435.4,263.4Z" fill="#6a6a6a"/><path d="M448.1,255.9V260.3L444.4,258.1Z" fill="#6a6a6a"/><path d="M457.1,254.9V259.3L453.4,257.1Z" fill="#6a6a6a"/><path d="M466.1,246.4V250.8L462.4,248.6Z" fill="#6a6a6a"/><path d="M475.2,242.2V246.6L471.4,244.4Z" fill="#6a6a6a"/><path d="M484.2,238.3V242.7L480.4,240.5Z" fill="#6a6a6a"/><path d="M493.2,237.4V241.8L489.4,239.6Z" fill="#6a6a6a"/><path d="M502.2,252.8V257.2L498.4,255.0Z" fill="#6a6a6a"/><path d="M511.2,263.3V267.7L507.4,265.5Z" fill="#6a6a6a"/><path d="M520.2,270.7V275.1L516.5,272.9Z" fill="#6a6a6a"/><path d="M529.2,277.1V281.5L525.5,279.3Z" fill="#6a6a6a"/><path d="M538.2,281.8V286.2L534.5,284.0Z" fill="#6a6a6a"/><path d="M547.2,301.9V306.3L543.5,304.1Z" fill="#6a6a6a"/><path d="M556.2,304.0V308.4L552.5,306.2Z" fill="#6a6a6a"/><path d="M565.2,304.8V309.2L561.5,307.0Z" fill="#6a6a6a"/>
<path d="M356.5,307.5 L365.5,307.4 L374.5,307.3 L383.5,307.3 L392.5,305.7 L401.5,301.5 L410.6,296.2 L419.6,286.7 L428.6,274.7 L437.6,263.8 L446.6,263.4 L455.6,262.4 L464.6,260.7 L473.6,255.0 L482.6,251.8 L491.6,250.5 L500.6,262.4 L509.6,272.9 L518.7,279.3 L527.7,284.6 L536.7,288.8 L545.7,304.6 L554.7,306.7 L563.7,307.3" fill="none" stroke="#707070" stroke-width="0.9" stroke-dasharray="1,3"/><path d="M355.1,307.5H357.9M356.5,306.1V308.9" stroke="#707070" stroke-width="0.9" fill="none"/><path d="M364.1,307.4H366.9M365.5,306.0V308.8" stroke="#707070" stroke-width="0.9" fill="none"/><path d="M373.1,307.3H375.9M374.5,305.9V308.7" stroke="#707070" stroke-width="0.9" fill="none"/><path d="M382.1,307.3H384.9M383.5,305.9V308.7" stroke="#707070" stroke-width="0.9" fill="none"/><path d="M391.1,305.7H393.9M392.5,304.3V307.1" stroke="#707070" stroke-width="0.9" fill="none"/><path d="M400.1,301.5H402.9M401.5,300.1V302.9" stroke="#707070" stroke-width="0.9" fill="none"/><path d="M409.2,296.2H412.0M410.6,294.8V297.6" stroke="#707070" stroke-width="0.9" fill="none"/><path d="M418.2,286.7H421.0M419.6,285.3V288.1" stroke="#707070" stroke-width="0.9" fill="none"/><path d="M427.2,274.7H430.0M428.6,273.3V276.1" stroke="#707070" stroke-width="0.9" fill="none"/><path d="M436.2,263.8H439.0M437.6,262.4V265.2" stroke="#707070" stroke-width="0.9" fill="none"/><path d="M445.2,263.4H448.0M446.6,262.0V264.8" stroke="#707070" stroke-width="0.9" fill="none"/><path d="M454.2,262.4H457.0M455.6,261.0V263.8" stroke="#707070" stroke-width="0.9" fill="none"/><path d="M463.2,260.7H466.0M464.6,259.3V262.1" stroke="#707070" stroke-width="0.9" fill="none"/><path d="M472.2,255.0H475.0M473.6,253.6V256.4" stroke="#707070" stroke-width="0.9" fill="none"/><path d="M481.2,251.8H484.0M482.6,250.4V253.2" stroke="#707070" stroke-width="0.9" fill="none"/><path d="M490.2,250.5H493.0M491.6,249.1V251.9" stroke="#707070" stroke-width="0.9" fill="none"/><path d="M499.2,262.4H502.0M500.6,261.0V263.8" stroke="#707070" stroke-width="0.9" fill="none"/><path d="M508.2,272.9H511.0M509.6,271.5V274.3" stroke="#707070" stroke-width="0.9" fill="none"/><path d="M517.3,279.3H520.1M518.7,277.9V280.7" stroke="#707070" stroke-width="0.9" fill="none"/><path d="M526.3,284.6H529.1M527.7,283.2V286.0" stroke="#707070" stroke-width="0.9" fill="none"/><path d="M535.3,288.8H538.1M536.7,287.4V290.2" stroke="#707070" stroke-width="0.9" fill="none"/><path d="M544.3,304.6H547.1M545.7,303.2V306.0" stroke="#707070" stroke-width="0.9" fill="none"/><path d="M553.3,306.7H556.1M554.7,305.3V308.1" stroke="#707070" stroke-width="0.9" fill="none"/><path d="M562.3,307.3H565.1M563.7,305.9V308.7" stroke="#707070" stroke-width="0.9" fill="none"/>
<path d="M356.5,303.8 L365.5,304.6 L374.5,305.2 L383.5,294.7 L392.5,290.3 L401.5,276.1 L410.6,267.6 L419.6,241.4 L428.6,225.5 L437.6,216.9 L446.6,208.4 L455.6,212.3 L464.6,200.4 L473.6,197.7 L482.6,191.2 L491.6,188.4 L500.6,212.3 L509.6,228.0 L518.7,237.3 L527.7,245.6 L536.7,252.4 L545.7,299.6 L554.7,298.9 L563.7,300.7" fill="none" stroke="#e3701a" stroke-width="1" stroke-dasharray="2,3,1,3"/><circle cx="356.5" cy="303.8" r="2.0" fill="#e3701a"/><circle cx="365.5" cy="304.6" r="2.0" fill="#e3701a"/><circle cx="374.5" cy="305.2" r="2.0" fill="#e3701a"/><circle cx="383.5" cy="294.7" r="2.0" fill="#e3701a"/><circle cx="392.5" cy="290.3" r="2.0" fill="#e3701a"/><circle cx="401.5" cy="276.1" r="2.0" fill="#e3701a"/><circle cx="410.6" cy="267.6" r="2.0" fill="#e3701a"/><circle cx="419.6" cy="241.4" r="2.0" fill="#e3701a"/><circle cx="428.6" cy="225.5" r="2.0" fill="#e3701a"/><circle cx="437.6" cy="216.9" r="2.0" fill="#e3701a"/><circle cx="446.6" cy="208.4" r="2.0" fill="#e3701a"/><circle cx="455.6" cy="212.3" r="2.0" fill="#e3701a"/><circle cx="464.6" cy="200.4" r="2.0" fill="#e3701a"/><circle cx="473.6" cy="197.7" r="2.0" fill="#e3701a"/><circle cx="482.6" cy="191.2" r="2.0" fill="#e3701a"/><circle cx="491.6" cy="188.4" r="2.0" fill="#e3701a"/><circle cx="500.6" cy="212.3" r="2.0" fill="#e3701a"/><circle cx="509.6" cy="228.0" r="2.0" fill="#e3701a"/><circle cx="518.7" cy="237.3" r="2.0" fill="#e3701a"/><circle cx="527.7" cy="245.6" r="2.0" fill="#e3701a"/><circle cx="536.7" cy="252.4" r="2.0" fill="#e3701a"/><circle cx="545.7" cy="299.6" r="2.0" fill="#e3701a"/><circle cx="554.7" cy="298.9" r="2.0" fill="#e3701a"/><circle cx="563.7" cy="300.7" r="2.0" fill="#e3701a"/>
<path d="M356.5,307.6 L365.5,307.6 L374.5,307.5 L383.5,307.5 L392.5,307.3 L401.5,306.7 L410.6,304.6 L419.6,302.5 L428.6,298.8 L437.6,295.0 L446.6,289.5 L455.6,286.0 L464.6,278.8 L473.6,273.6 L482.6,271.1 L491.6,270.5 L500.6,279.3 L509.6,283.4 L518.7,284.7 L527.7,289.6 L536.7,292.1 L545.7,305.7 L554.7,307.3 L563.7,307.5" fill="none" stroke="#22aaee" stroke-width="1" stroke-dasharray="2.5,3.5"/><path d="M354.2,306.0H358.8L356.5,309.9Z" fill="#22aaee"/><path d="M363.2,305.9H367.8L365.5,309.9Z" fill="#22aaee"/><path d="M372.2,305.9H376.8L374.5,309.8Z" fill="#22aaee"/><path d="M381.2,305.9H385.8L383.5,309.8Z" fill="#22aaee"/><path d="M390.2,305.7H394.8L392.5,309.6Z" fill="#22aaee"/><path d="M399.2,305.1H403.8L401.5,309.0Z" fill="#22aaee"/><path d="M408.3,303.0H412.9L410.6,306.9Z" fill="#22aaee"/><path d="M417.3,300.9H421.9L419.6,304.8Z" fill="#22aaee"/><path d="M426.3,297.2H430.9L428.6,301.1Z" fill="#22aaee"/><path d="M435.3,293.4H439.9L437.6,297.3Z" fill="#22aaee"/><path d="M444.3,287.9H448.9L446.6,291.8Z" fill="#22aaee"/><path d="M453.3,284.4H457.9L455.6,288.3Z" fill="#22aaee"/><path d="M462.3,277.2H466.9L464.6,281.1Z" fill="#22aaee"/><path d="M471.3,272.0H475.9L473.6,275.9Z" fill="#22aaee"/><path d="M480.3,269.5H484.9L482.6,273.4Z" fill="#22aaee"/><path d="M489.3,268.9H493.9L491.6,272.8Z" fill="#22aaee"/><path d="M498.3,277.7H502.9L500.6,281.6Z" fill="#22aaee"/><path d="M507.3,281.8H511.9L509.6,285.7Z" fill="#22aaee"/><path d="M516.4,283.0H521.0L518.7,287.0Z" fill="#22aaee"/><path d="M525.4,288.0H530.0L527.7,291.9Z" fill="#22aaee"/><path d="M534.4,290.4H539.0L536.7,294.4Z" fill="#22aaee"/><path d="M543.4,304.1H548.0L545.7,308.0Z" fill="#22aaee"/><path d="M552.4,305.7H557.0L554.7,309.6Z" fill="#22aaee"/><path d="M561.4,305.9H566.0L563.7,309.8Z" fill="#22aaee"/>
<path d="M356.5,307.8 L365.5,307.8 L374.5,307.8 L383.5,307.8 L392.5,307.6 L401.5,306.1 L410.6,304.4 L419.6,296.2 L428.6,289.1 L437.6,282.1 L446.6,274.3 L455.6,271.2 L464.6,261.5 L473.6,258.8 L482.6,257.0 L491.6,257.0 L500.6,269.4 L509.6,276.7 L518.7,282.6 L527.7,287.4 L536.7,292.1 L545.7,302.9 L554.7,307.1 L563.7,307.8" fill="none" stroke="#8a8a8a" stroke-width="0.9" stroke-dasharray="1,3"/><path d="M355.2,307.8H357.8M356.5,306.5V309.1" stroke="#8a8a8a" stroke-width="0.9" fill="none"/><path d="M364.2,307.8H366.8M365.5,306.5V309.1" stroke="#8a8a8a" stroke-width="0.9" fill="none"/><path d="M373.2,307.8H375.8M374.5,306.5V309.1" stroke="#8a8a8a" stroke-width="0.9" fill="none"/><path d="M382.2,307.8H384.8M383.5,306.5V309.1" stroke="#8a8a8a" stroke-width="0.9" fill="none"/><path d="M391.2,307.6H393.8M392.5,306.3V308.9" stroke="#8a8a8a" stroke-width="0.9" fill="none"/><path d="M400.2,306.1H402.8M401.5,304.8V307.4" stroke="#8a8a8a" stroke-width="0.9" fill="none"/><path d="M409.3,304.4H411.9M410.6,303.1V305.7" stroke="#8a8a8a" stroke-width="0.9" fill="none"/><path d="M418.3,296.2H420.9M419.6,294.9V297.5" stroke="#8a8a8a" stroke-width="0.9" fill="none"/><path d="M427.3,289.1H429.9M428.6,287.8V290.4" stroke="#8a8a8a" stroke-width="0.9" fill="none"/><path d="M436.3,282.1H438.9M437.6,280.8V283.4" stroke="#8a8a8a" stroke-width="0.9" fill="none"/><path d="M445.3,274.3H447.9M446.6,273.0V275.6" stroke="#8a8a8a" stroke-width="0.9" fill="none"/><path d="M454.3,271.2H456.9M455.6,269.9V272.5" stroke="#8a8a8a" stroke-width="0.9" fill="none"/><path d="M463.3,261.5H465.9M464.6,260.2V262.8" stroke="#8a8a8a" stroke-width="0.9" fill="none"/><path d="M472.3,258.8H474.9M473.6,257.5V260.1" stroke="#8a8a8a" stroke-width="0.9" fill="none"/><path d="M481.3,257.0H483.9M482.6,255.7V258.3" stroke="#8a8a8a" stroke-width="0.9" fill="none"/><path d="M490.3,257.0H492.9M491.6,255.7V258.3" stroke="#8a8a8a" stroke-width="0.9" fill="none"/><path d="M499.3,269.4H501.9M500.6,268.1V270.7" stroke="#8a8a8a" stroke-width="0.9" fill="none"/><path d="M508.3,276.7H510.9M509.6,275.4V278.0" stroke="#8a8a8a" stroke-width="0.9" fill="none"/><path d="M517.4,282.6H520.0M518.7,281.3V283.9" stroke="#8a8a8a" stroke-width="0.9" fill="none"/><path d="M526.4,287.4H529.0M527.7,286.1V288.7" stroke="#8a8a8a" stroke-width="0.9" fill="none"/><path d="M535.4,292.1H538.0M536.7,290.8V293.4" stroke="#8a8a8a" stroke-width="0.9" fill="none"/><path d="M544.4,302.9H547.0M545.7,301.6V304.2" stroke="#8a8a8a" stroke-width="0.9" fill="none"/><path d="M553.4,307.1H556.0M554.7,305.8V308.4" stroke="#8a8a8a" stroke-width="0.9" fill="none"/><path d="M562.4,307.8H565.0M563.7,306.5V309.1" stroke="#8a8a8a" stroke-width="0.9" fill="none"/>
<path d="M356.5,307.5 L365.5,307.4 L374.5,307.3 L383.5,307.3 L392.5,306.7 L401.5,305.2 L410.6,303.5 L419.6,295.0 L428.6,287.6 L437.6,280.4 L446.6,272.4 L455.6,269.2 L464.6,259.2 L473.6,256.4 L482.6,254.5 L491.6,254.5 L500.6,267.3 L509.6,274.8 L518.7,281.0 L527.7,285.9 L536.7,290.8 L545.7,301.9 L554.7,306.2 L563.7,307.3" fill="none" stroke="#4a78cc" stroke-width="1.2"/><path d="M355.3,307.5H357.7M356.5,306.3V308.7" stroke="#4a78cc" stroke-width="0.9" fill="none"/><path d="M364.3,307.4H366.7M365.5,306.2V308.6" stroke="#4a78cc" stroke-width="0.9" fill="none"/><path d="M373.3,307.3H375.7M374.5,306.1V308.5" stroke="#4a78cc" stroke-width="0.9" fill="none"/><path d="M382.3,307.3H384.7M383.5,306.1V308.5" stroke="#4a78cc" stroke-width="0.9" fill="none"/><path d="M391.3,306.7H393.7M392.5,305.5V307.9" stroke="#4a78cc" stroke-width="0.9" fill="none"/><path d="M400.3,305.2H402.7M401.5,304.0V306.4" stroke="#4a78cc" stroke-width="0.9" fill="none"/><path d="M409.4,303.5H411.8M410.6,302.3V304.7" stroke="#4a78cc" stroke-width="0.9" fill="none"/><path d="M418.4,295.0H420.8M419.6,293.8V296.2" stroke="#4a78cc" stroke-width="0.9" fill="none"/><path d="M427.4,287.6H429.8M428.6,286.4V288.8" stroke="#4a78cc" stroke-width="0.9" fill="none"/><path d="M436.4,280.4H438.8M437.6,279.2V281.6" stroke="#4a78cc" stroke-width="0.9" fill="none"/><path d="M445.4,272.4H447.8M446.6,271.2V273.6" stroke="#4a78cc" stroke-width="0.9" fill="none"/><path d="M454.4,269.2H456.8M455.6,268.0V270.4" stroke="#4a78cc" stroke-width="0.9" fill="none"/><path d="M463.4,259.2H465.8M464.6,258.0V260.4" stroke="#4a78cc" stroke-width="0.9" fill="none"/><path d="M472.4,256.4H474.8M473.6,255.2V257.6" stroke="#4a78cc" stroke-width="0.9" fill="none"/><path d="M481.4,254.5H483.8M482.6,253.3V255.7" stroke="#4a78cc" stroke-width="0.9" fill="none"/><path d="M490.4,254.5H492.8M491.6,253.3V255.7" stroke="#4a78cc" stroke-width="0.9" fill="none"/><path d="M499.4,267.3H501.8M500.6,266.1V268.5" stroke="#4a78cc" stroke-width="0.9" fill="none"/><path d="M508.4,274.8H510.8M509.6,273.6V276.0" stroke="#4a78cc" stroke-width="0.9" fill="none"/><path d="M517.5,281.0H519.9M518.7,279.8V282.2" stroke="#4a78cc" stroke-width="0.9" fill="none"/><path d="M526.5,285.9H528.9M527.7,284.7V287.1" stroke="#4a78cc" stroke-width="0.9" fill="none"/><path d="M535.5,290.8H537.9M536.7,289.6V292.0" stroke="#4a78cc" stroke-width="0.9" fill="none"/><path d="M544.5,301.9H546.9M545.7,300.7V303.1" stroke="#4a78cc" stroke-width="0.9" fill="none"/><path d="M553.5,306.2H555.9M554.7,305.0V307.4" stroke="#4a78cc" stroke-width="0.9" fill="none"/><path d="M562.5,307.3H564.9M563.7,306.1V308.5" stroke="#4a78cc" stroke-width="0.9" fill="none"/>
<path d="M356.5,307.3 L365.5,307.3 L374.5,307.3 L383.5,305.7 L392.5,302.0 L401.5,295.1 L410.6,285.6 L419.6,272.9 L428.6,260.2 L437.6,248.6 L446.6,244.4 L455.6,245.5 L464.6,238.1 L473.6,235.9 L482.6,233.8 L491.6,233.3 L500.6,248.6 L509.6,260.2 L518.7,267.6 L527.7,272.9 L536.7,277.2 L545.7,304.6 L554.7,306.2 L563.7,307.0" fill="none" stroke="#c6e33c" stroke-width="1" stroke-dasharray="1,3"/><path d="M354.7,306.0H358.3L356.5,309.1Z" fill="#c6e33c"/><path d="M363.7,306.0H367.3L365.5,309.1Z" fill="#c6e33c"/><path d="M372.7,306.0H376.3L374.5,309.1Z" fill="#c6e33c"/><path d="M381.7,304.4H385.3L383.5,307.5Z" fill="#c6e33c"/><path d="M390.7,300.7H394.3L392.5,303.8Z" fill="#c6e33c"/><path d="M399.7,293.9H403.3L401.5,296.9Z" fill="#c6e33c"/><path d="M408.8,284.3H412.4L410.6,287.4Z" fill="#c6e33c"/><path d="M417.8,271.7H421.4L419.6,274.7Z" fill="#c6e33c"/><path d="M426.8,259.0H430.4L428.6,262.0Z" fill="#c6e33c"/><path d="M435.8,247.4H439.4L437.6,250.4Z" fill="#c6e33c"/><path d="M444.8,243.1H448.4L446.6,246.2Z" fill="#c6e33c"/><path d="M453.8,244.2H457.4L455.6,247.3Z" fill="#c6e33c"/><path d="M462.8,236.8H466.4L464.6,239.9Z" fill="#c6e33c"/><path d="M471.8,234.7H475.4L473.6,237.7Z" fill="#c6e33c"/><path d="M480.8,232.6H484.4L482.6,235.6Z" fill="#c6e33c"/><path d="M489.8,232.0H493.4L491.6,235.1Z" fill="#c6e33c"/><path d="M498.8,247.4H502.4L500.6,250.4Z" fill="#c6e33c"/><path d="M507.8,259.0H511.4L509.6,262.0Z" fill="#c6e33c"/><path d="M516.9,266.4H520.5L518.7,269.4Z" fill="#c6e33c"/><path d="M525.9,271.7H529.5L527.7,274.7Z" fill="#c6e33c"/><path d="M534.9,275.9H538.5L536.7,279.0Z" fill="#c6e33c"/><path d="M543.9,303.4H547.5L545.7,306.4Z" fill="#c6e33c"/><path d="M552.9,305.0H556.5L554.7,308.0Z" fill="#c6e33c"/><path d="M561.9,305.7H565.5L563.7,308.8Z" fill="#c6e33c"/>
<path d="M356.5,307.6 L365.5,307.6 L374.5,307.5 L383.5,307.5 L392.5,307.1 L401.5,306.7 L410.6,304.6 L419.6,301.1 L428.6,295.0 L437.6,290.0 L446.6,285.1 L455.6,281.7 L464.6,274.7 L473.6,270.0 L482.6,268.4 L491.6,268.0 L500.6,279.7 L509.6,284.7 L518.7,289.6 L527.7,294.6 L536.7,298.3 L545.7,306.2 L554.7,307.3 L563.7,307.5" fill="none" stroke="#a6d98a" stroke-width="0.9"/><circle cx="356.5" cy="307.6" r="1.9" fill="#a6d98a"/><circle cx="365.5" cy="307.6" r="1.9" fill="#a6d98a"/><circle cx="374.5" cy="307.5" r="1.9" fill="#a6d98a"/><circle cx="383.5" cy="307.5" r="1.9" fill="#a6d98a"/><circle cx="392.5" cy="307.1" r="1.9" fill="#a6d98a"/><circle cx="401.5" cy="306.7" r="1.9" fill="#a6d98a"/><circle cx="410.6" cy="304.6" r="1.9" fill="#a6d98a"/><circle cx="419.6" cy="301.1" r="1.9" fill="#a6d98a"/><circle cx="428.6" cy="295.0" r="1.9" fill="#a6d98a"/><circle cx="437.6" cy="290.0" r="1.9" fill="#a6d98a"/><circle cx="446.6" cy="285.1" r="1.9" fill="#a6d98a"/><circle cx="455.6" cy="281.7" r="1.9" fill="#a6d98a"/><circle cx="464.6" cy="274.7" r="1.9" fill="#a6d98a"/><circle cx="473.6" cy="270.0" r="1.9" fill="#a6d98a"/><circle cx="482.6" cy="268.4" r="1.9" fill="#a6d98a"/><circle cx="491.6" cy="268.0" r="1.9" fill="#a6d98a"/><circle cx="500.6" cy="279.7" r="1.9" fill="#a6d98a"/><circle cx="509.6" cy="284.7" r="1.9" fill="#a6d98a"/><circle cx="518.7" cy="289.6" r="1.9" fill="#a6d98a"/><circle cx="527.7" cy="294.6" r="1.9" fill="#a6d98a"/><circle cx="536.7" cy="298.3" r="1.9" fill="#a6d98a"/><circle cx="545.7" cy="306.2" r="1.9" fill="#a6d98a"/><circle cx="554.7" cy="307.3" r="1.9" fill="#a6d98a"/><circle cx="563.7" cy="307.5" r="1.9" fill="#a6d98a"/>
<path d="M356.5,307.3 L365.5,307.3 L374.5,307.3 L383.5,306.7 L392.5,302.5 L401.5,293.0 L410.6,289.1 L419.6,276.1 L428.6,264.6 L437.6,259.2 L446.6,254.5 L455.6,253.7 L464.6,245.1 L473.6,240.5 L482.6,236.6 L491.6,235.8 L500.6,252.9 L509.6,263.5 L518.7,271.0 L527.7,277.2 L536.7,282.1 L545.7,303.6 L554.7,305.7 L563.7,306.7" fill="none" stroke="#777777" stroke-width="1" stroke-dasharray="1,2"/><rect x="354.6" y="305.4" width="3.8" height="3.8" fill="#777777"/><rect x="363.6" y="305.4" width="3.8" height="3.8" fill="#777777"/><rect x="372.6" y="305.4" width="3.8" height="3.8" fill="#777777"/><rect x="381.6" y="304.8" width="3.8" height="3.8" fill="#777777"/><rect x="390.6" y="300.6" width="3.8" height="3.8" fill="#777777"/><rect x="399.6" y="291.1" width="3.8" height="3.8" fill="#777777"/><rect x="408.7" y="287.2" width="3.8" height="3.8" fill="#777777"/><rect x="417.7" y="274.2" width="3.8" height="3.8" fill="#777777"/><rect x="426.7" y="262.7" width="3.8" height="3.8" fill="#777777"/><rect x="435.7" y="257.3" width="3.8" height="3.8" fill="#777777"/><rect x="444.7" y="252.6" width="3.8" height="3.8" fill="#777777"/><rect x="453.7" y="251.8" width="3.8" height="3.8" fill="#777777"/><rect x="462.7" y="243.2" width="3.8" height="3.8" fill="#777777"/><rect x="471.7" y="238.6" width="3.8" height="3.8" fill="#777777"/><rect x="480.7" y="234.7" width="3.8" height="3.8" fill="#777777"/><rect x="489.7" y="233.9" width="3.8" height="3.8" fill="#777777"/><rect x="498.7" y="251.0" width="3.8" height="3.8" fill="#777777"/><rect x="507.7" y="261.6" width="3.8" height="3.8" fill="#777777"/><rect x="516.8" y="269.1" width="3.8" height="3.8" fill="#777777"/><rect x="525.8" y="275.3" width="3.8" height="3.8" fill="#777777"/><rect x="534.8" y="280.2" width="3.8" height="3.8" fill="#777777"/><rect x="543.8" y="301.7" width="3.8" height="3.8" fill="#777777"/><rect x="552.8" y="303.8" width="3.8" height="3.8" fill="#777777"/><rect x="561.8" y="304.8" width="3.8" height="3.8" fill="#777777"/>
<path d="M356.5,304.1 L365.5,304.8 L374.5,305.5 L383.5,296.2 L392.5,297.4 L401.5,281.1 L410.6,272.9 L419.6,252.9 L428.6,235.9 L437.6,233.2 L446.6,223.9 L455.6,226.2 L464.6,214.2 L473.6,211.7 L482.6,206.8 L491.6,203.7 L500.6,223.3 L509.6,235.0 L518.7,244.0 L527.7,252.2 L536.7,258.1 L545.7,301.5 L554.7,300.4 L563.7,302.0" fill="none" stroke="#e3701a" stroke-width="1" stroke-dasharray="2,3,1,3"/><circle cx="356.5" cy="304.1" r="2.0" fill="#e3701a"/><circle cx="365.5" cy="304.8" r="2.0" fill="#e3701a"/><circle cx="374.5" cy="305.5" r="2.0" fill="#e3701a"/><circle cx="383.5" cy="296.2" r="2.0" fill="#e3701a"/><circle cx="392.5" cy="297.4" r="2.0" fill="#e3701a"/><circle cx="401.5" cy="281.1" r="2.0" fill="#e3701a"/><circle cx="410.6" cy="272.9" r="2.0" fill="#e3701a"/><circle cx="419.6" cy="252.9" r="2.0" fill="#e3701a"/><circle cx="428.6" cy="235.9" r="2.0" fill="#e3701a"/><circle cx="437.6" cy="233.2" r="2.0" fill="#e3701a"/><circle cx="446.6" cy="223.9" r="2.0" fill="#e3701a"/><circle cx="455.6" cy="226.2" r="2.0" fill="#e3701a"/><circle cx="464.6" cy="214.2" r="2.0" fill="#e3701a"/><circle cx="473.6" cy="211.7" r="2.0" fill="#e3701a"/><circle cx="482.6" cy="206.8" r="2.0" fill="#e3701a"/><circle cx="491.6" cy="203.7" r="2.0" fill="#e3701a"/><circle cx="500.6" cy="223.3" r="2.0" fill="#e3701a"/><circle cx="509.6" cy="235.0" r="2.0" fill="#e3701a"/><circle cx="518.7" cy="244.0" r="2.0" fill="#e3701a"/><circle cx="527.7" cy="252.2" r="2.0" fill="#e3701a"/><circle cx="536.7" cy="258.1" r="2.0" fill="#e3701a"/><circle cx="545.7" cy="301.5" r="2.0" fill="#e3701a"/><circle cx="554.7" cy="300.4" r="2.0" fill="#e3701a"/><circle cx="563.7" cy="302.0" r="2.0" fill="#e3701a"/>
<path d="M356.5,307.6 L365.5,307.6 L374.5,307.6 L383.5,307.6 L392.5,307.4 L401.5,307.3 L410.6,306.5 L419.6,305.2 L428.6,303.8 L437.6,299.7 L446.6,294.2 L455.6,289.2 L464.6,281.0 L473.6,275.5 L482.6,273.1 L491.6,272.4 L500.6,281.7 L509.6,287.7 L518.7,291.9 L527.7,296.2 L536.7,299.9 L545.7,306.5 L554.7,307.4 L563.7,307.6" fill="none" stroke="#a6d98a" stroke-width="0.9"/><circle cx="356.5" cy="307.6" r="1.8" fill="#a6d98a"/><circle cx="365.5" cy="307.6" r="1.8" fill="#a6d98a"/><circle cx="374.5" cy="307.6" r="1.8" fill="#a6d98a"/><circle cx="383.5" cy="307.6" r="1.8" fill="#a6d98a"/><circle cx="392.5" cy="307.4" r="1.8" fill="#a6d98a"/><circle cx="401.5" cy="307.3" r="1.8" fill="#a6d98a"/><circle cx="410.6" cy="306.5" r="1.8" fill="#a6d98a"/><circle cx="419.6" cy="305.2" r="1.8" fill="#a6d98a"/><circle cx="428.6" cy="303.8" r="1.8" fill="#a6d98a"/><circle cx="437.6" cy="299.7" r="1.8" fill="#a6d98a"/><circle cx="446.6" cy="294.2" r="1.8" fill="#a6d98a"/><circle cx="455.6" cy="289.2" r="1.8" fill="#a6d98a"/><circle cx="464.6" cy="281.0" r="1.8" fill="#a6d98a"/><circle cx="473.6" cy="275.5" r="1.8" fill="#a6d98a"/><circle cx="482.6" cy="273.1" r="1.8" fill="#a6d98a"/><circle cx="491.6" cy="272.4" r="1.8" fill="#a6d98a"/><circle cx="500.6" cy="281.7" r="1.8" fill="#a6d98a"/><circle cx="509.6" cy="287.7" r="1.8" fill="#a6d98a"/><circle cx="518.7" cy="291.9" r="1.8" fill="#a6d98a"/><circle cx="527.7" cy="296.2" r="1.8" fill="#a6d98a"/><circle cx="536.7" cy="299.9" r="1.8" fill="#a6d98a"/><circle cx="545.7" cy="306.5" r="1.8" fill="#a6d98a"/><circle cx="554.7" cy="307.4" r="1.8" fill="#a6d98a"/><circle cx="563.7" cy="307.6" r="1.8" fill="#a6d98a"/>
<path d="M356.5,304.8 L365.5,305.5 L374.5,305.9 L383.5,285.5 L392.5,274.8 L401.5,251.1 L410.6,228.3 L419.6,202.1 L428.6,194.6 L437.6,193.6 L446.6,190.4 L455.6,195.2 L464.6,188.1 L473.6,188.1 L482.6,184.2 L491.6,182.6 L500.6,202.1 L509.6,219.8 L518.7,228.8 L527.7,236.3 L536.7,241.9 L545.7,296.9 L554.7,299.6 L563.7,300.7" fill="none" stroke="#d98080" stroke-width="1.0" stroke-dasharray="3,5"/><circle cx="356.5" cy="304.8" r="1.5" fill="#d98080"/><circle cx="365.5" cy="305.5" r="1.5" fill="#d98080"/><circle cx="374.5" cy="305.9" r="1.5" fill="#d98080"/><circle cx="383.5" cy="285.5" r="1.5" fill="#d98080"/><circle cx="392.5" cy="274.8" r="1.5" fill="#d98080"/><circle cx="401.5" cy="251.1" r="1.5" fill="#d98080"/><circle cx="410.6" cy="228.3" r="1.5" fill="#d98080"/><circle cx="419.6" cy="202.1" r="1.5" fill="#d98080"/><circle cx="428.6" cy="194.6" r="1.5" fill="#d98080"/><circle cx="437.6" cy="193.6" r="1.5" fill="#d98080"/><circle cx="446.6" cy="190.4" r="1.5" fill="#d98080"/><circle cx="455.6" cy="195.2" r="1.5" fill="#d98080"/><circle cx="464.6" cy="188.1" r="1.5" fill="#d98080"/><circle cx="473.6" cy="188.1" r="1.5" fill="#d98080"/><circle cx="482.6" cy="184.2" r="1.5" fill="#d98080"/><circle cx="491.6" cy="182.6" r="1.5" fill="#d98080"/><circle cx="500.6" cy="202.1" r="1.5" fill="#d98080"/><circle cx="509.6" cy="219.8" r="1.5" fill="#d98080"/><circle cx="518.7" cy="228.8" r="1.5" fill="#d98080"/><circle cx="527.7" cy="236.3" r="1.5" fill="#d98080"/><circle cx="536.7" cy="241.9" r="1.5" fill="#d98080"/><circle cx="545.7" cy="296.9" r="1.5" fill="#d98080"/><circle cx="554.7" cy="299.6" r="1.5" fill="#d98080"/><circle cx="563.7" cy="300.7" r="1.5" fill="#d98080"/>
<path d="M356.5,304.6 L365.5,305.2 L374.5,305.7 L383.5,299.3 L392.5,297.4 L401.5,285.5 L410.6,278.3 L419.6,259.4 L428.6,245.1 L437.6,242.7 L446.6,238.9 L455.6,244.1 L464.6,234.3 L473.6,231.9 L482.6,226.6 L491.6,226.2 L500.6,240.2 L509.6,252.9 L518.7,260.2 L527.7,265.5 L536.7,268.7 L545.7,302.5 L554.7,301.5 L563.7,303.0" fill="none" stroke="#e3701a" stroke-width="1" stroke-dasharray="2,3,1,3"/><circle cx="356.5" cy="304.6" r="2.0" fill="#e3701a"/><circle cx="365.5" cy="305.2" r="2.0" fill="#e3701a"/><circle cx="374.5" cy="305.7" r="2.0" fill="#e3701a"/><circle cx="383.5" cy="299.3" r="2.0" fill="#e3701a"/><circle cx="392.5" cy="297.4" r="2.0" fill="#e3701a"/><circle cx="401.5" cy="285.5" r="2.0" fill="#e3701a"/><circle cx="410.6" cy="278.3" r="2.0" fill="#e3701a"/><circle cx="419.6" cy="259.4" r="2.0" fill="#e3701a"/><circle cx="428.6" cy="245.1" r="2.0" fill="#e3701a"/><circle cx="437.6" cy="242.7" r="2.0" fill="#e3701a"/><circle cx="446.6" cy="238.9" r="2.0" fill="#e3701a"/><circle cx="455.6" cy="244.1" r="2.0" fill="#e3701a"/><circle cx="464.6" cy="234.3" r="2.0" fill="#e3701a"/><circle cx="473.6" cy="231.9" r="2.0" fill="#e3701a"/><circle cx="482.6" cy="226.6" r="2.0" fill="#e3701a"/><circle cx="491.6" cy="226.2" r="2.0" fill="#e3701a"/><circle cx="500.6" cy="240.2" r="2.0" fill="#e3701a"/><circle cx="509.6" cy="252.9" r="2.0" fill="#e3701a"/><circle cx="518.7" cy="260.2" r="2.0" fill="#e3701a"/><circle cx="527.7" cy="265.5" r="2.0" fill="#e3701a"/><circle cx="536.7" cy="268.7" r="2.0" fill="#e3701a"/><circle cx="545.7" cy="302.5" r="2.0" fill="#e3701a"/><circle cx="554.7" cy="301.5" r="2.0" fill="#e3701a"/><circle cx="563.7" cy="303.0" r="2.0" fill="#e3701a"/>
</g>
<clipPath id="cl_h3"><rect x="73.5" y="335.2" width="219.39999999999998" height="132.50000000000003"/></clipPath>
<g clip-path="url(#cl_h3)">
<path d="M73.5,429.9 L82.9,429.9 L92.3,429.9 L101.7,429.6 L111.1,429.2 L120.5,428.4 L130.0,415.6 L139.4,432.9 L148.8,430.6 L158.2,429.6 L167.6,429.9 L177.0,429.9 L186.4,429.9 L195.8,429.9 L205.2,429.9 L214.6,429.9 L224.0,429.9 L233.4,429.9 L242.9,429.9 L252.3,429.9 L261.7,429.9 L271.1,430.6 L280.5,429.9 L289.9,429.9" fill="none" stroke="#8a2be2" stroke-width="1" stroke-dasharray="2.5,2.5,1,2.5"/><path d="M75.2,427.5V432.3L71.1,429.9Z" fill="#8a2be2"/><path d="M84.6,427.5V432.3L80.5,429.9Z" fill="#8a2be2"/><path d="M94.0,427.5V432.3L89.9,429.9Z" fill="#8a2be2"/><path d="M103.4,427.2V432.0L99.3,429.6Z" fill="#8a2be2"/><path d="M112.8,426.8V431.6L108.7,429.2Z" fill="#8a2be2"/><path d="M122.2,426.0V430.8L118.1,428.4Z" fill="#8a2be2"/><path d="M131.6,413.2V418.0L127.6,415.6Z" fill="#8a2be2"/><path d="M141.0,430.5V435.3L137.0,432.9Z" fill="#8a2be2"/><path d="M150.4,428.2V433.0L146.4,430.6Z" fill="#8a2be2"/><path d="M159.9,427.2V432.0L155.8,429.6Z" fill="#8a2be2"/><path d="M169.3,427.5V432.3L165.2,429.9Z" fill="#8a2be2"/><path d="M178.7,427.5V432.3L174.6,429.9Z" fill="#8a2be2"/><path d="M188.1,427.5V432.3L184.0,429.9Z" fill="#8a2be2"/><path d="M197.5,427.5V432.3L193.4,429.9Z" fill="#8a2be2"/><path d="M206.9,427.5V432.3L202.8,429.9Z" fill="#8a2be2"/><path d="M216.3,427.5V432.3L212.2,429.9Z" fill="#8a2be2"/><path d="M225.7,427.5V432.3L221.6,429.9Z" fill="#8a2be2"/><path d="M235.1,427.5V432.3L231.0,429.9Z" fill="#8a2be2"/><path d="M244.5,427.5V432.3L240.5,429.9Z" fill="#8a2be2"/><path d="M253.9,427.5V432.3L249.9,429.9Z" fill="#8a2be2"/><path d="M263.4,427.5V432.3L259.3,429.9Z" fill="#8a2be2"/><path d="M272.8,428.2V433.0L268.7,430.6Z" fill="#8a2be2"/><path d="M282.2,427.5V432.3L278.1,429.9Z" fill="#8a2be2"/><path d="M291.6,427.5V432.3L287.5,429.9Z" fill="#8a2be2"/>
<path d="M73.5,429.9 L82.9,429.9 L92.3,429.9 L101.7,429.9 L111.1,429.6 L120.5,429.2 L130.0,428.4 L139.4,430.6 L148.8,430.2 L158.2,429.9 L167.6,429.9 L177.0,429.9 L186.4,429.9 L195.8,429.9 L205.2,429.9 L214.6,429.9 L224.0,429.9 L233.4,429.9 L242.9,429.9 L252.3,429.9 L261.7,429.9 L271.1,430.3 L280.5,429.9 L289.9,429.9" fill="none" stroke="#c6e33c" stroke-width="1" stroke-dasharray="2,4"/><rect x="71.8" y="428.2" width="3.4" height="3.4" fill="#c6e33c"/><rect x="81.2" y="428.2" width="3.4" height="3.4" fill="#c6e33c"/><rect x="90.6" y="428.2" width="3.4" height="3.4" fill="#c6e33c"/><rect x="100.0" y="428.2" width="3.4" height="3.4" fill="#c6e33c"/><rect x="109.4" y="427.9" width="3.4" height="3.4" fill="#c6e33c"/><rect x="118.8" y="427.5" width="3.4" height="3.4" fill="#c6e33c"/><rect x="128.3" y="426.7" width="3.4" height="3.4" fill="#c6e33c"/><rect x="137.7" y="428.9" width="3.4" height="3.4" fill="#c6e33c"/><rect x="147.1" y="428.5" width="3.4" height="3.4" fill="#c6e33c"/><rect x="156.5" y="428.2" width="3.4" height="3.4" fill="#c6e33c"/><rect x="165.9" y="428.2" width="3.4" height="3.4" fill="#c6e33c"/><rect x="175.3" y="428.2" width="3.4" height="3.4" fill="#c6e33c"/><rect x="184.7" y="428.2" width="3.4" height="3.4" fill="#c6e33c"/><rect x="194.1" y="428.2" width="3.4" height="3.4" fill="#c6e33c"/><rect x="203.5" y="428.2" width="3.4" height="3.4" fill="#c6e33c"/><rect x="212.9" y="428.2" width="3.4" height="3.4" fill="#c6e33c"/><rect x="222.3" y="428.2" width="3.4" height="3.4" fill="#c6e33c"/><rect x="231.7" y="428.2" width="3.4" height="3.4" fill="#c6e33c"/><rect x="241.2" y="428.2" width="3.4" height="3.4" fill="#c6e33c"/><rect x="250.6" y="428.2" width="3.4" height="3.4" fill="#c6e33c"/><rect x="260.0" y="428.2" width="3.4" height="3.4" fill="#c6e33c"/><rect x="269.4" y="428.6" width="3.4" height="3.4" fill="#c6e33c"/><rect x="278.8" y="428.2" width="3.4" height="3.4" fill="#c6e33c"/><rect x="288.2" y="428.2" width="3.4" height="3.4" fill="#c6e33c"/>
<path d="M73.5,429.9 L82.9,429.9 L92.3,429.9 L101.7,429.2 L111.1,426.9 L120.5,422.4 L130.0,426.9 L139.4,438.9 L148.8,431.4 L158.2,429.2 L167.6,430.6 L177.0,429.2 L186.4,429.9 L195.8,429.9 L205.2,429.9 L214.6,429.9 L224.0,429.9 L233.4,429.9 L242.9,429.9 L252.3,430.6 L261.7,430.6 L271.1,432.9 L280.5,429.9 L289.9,429.9" fill="none" stroke="#6a6a6a" stroke-width="0.9" stroke-dasharray="1,2.5"/><path d="M75.0,427.7V432.1L71.3,429.9Z" fill="#6a6a6a"/><path d="M84.4,427.7V432.1L80.7,429.9Z" fill="#6a6a6a"/><path d="M93.9,427.7V432.1L90.1,429.9Z" fill="#6a6a6a"/><path d="M103.3,427.0V431.4L99.5,429.2Z" fill="#6a6a6a"/><path d="M112.7,424.7V429.1L108.9,426.9Z" fill="#6a6a6a"/><path d="M122.1,420.2V424.6L118.3,422.4Z" fill="#6a6a6a"/><path d="M131.5,424.7V429.1L127.8,426.9Z" fill="#6a6a6a"/><path d="M140.9,436.7V441.1L137.2,438.9Z" fill="#6a6a6a"/><path d="M150.3,429.2V433.6L146.6,431.4Z" fill="#6a6a6a"/><path d="M159.7,427.0V431.4L156.0,429.2Z" fill="#6a6a6a"/><path d="M169.1,428.4V432.8L165.4,430.6Z" fill="#6a6a6a"/><path d="M178.5,427.0V431.4L174.8,429.2Z" fill="#6a6a6a"/><path d="M187.9,427.7V432.1L184.2,429.9Z" fill="#6a6a6a"/><path d="M197.4,427.7V432.1L193.6,429.9Z" fill="#6a6a6a"/><path d="M206.8,427.7V432.1L203.0,429.9Z" fill="#6a6a6a"/><path d="M216.2,427.7V432.1L212.4,429.9Z" fill="#6a6a6a"/><path d="M225.6,427.7V432.1L221.8,429.9Z" fill="#6a6a6a"/><path d="M235.0,427.7V432.1L231.2,429.9Z" fill="#6a6a6a"/><path d="M244.4,427.7V432.1L240.7,429.9Z" fill="#6a6a6a"/><path d="M253.8,428.4V432.8L250.1,430.6Z" fill="#6a6a6a"/><path d="M263.2,428.4V432.8L259.5,430.6Z" fill="#6a6a6a"/><path d="M272.6,430.7V435.1L268.9,432.9Z" fill="#6a6a6a"/><path d="M282.0,427.7V432.1L278.3,429.9Z" fill="#6a6a6a"/><path d="M291.4,427.7V432.1L287.7,429.9Z" fill="#6a6a6a"/>
<path d="M73.5,429.9 L82.9,429.9 L92.3,429.9 L101.7,429.2 L111.1,428.4 L120.5,429.9 L130.0,342.5 L139.4,450.8 L148.8,432.9 L158.2,426.9 L167.6,434.4 L177.0,425.4 L186.4,429.9 L195.8,429.2 L205.2,429.9 L214.6,429.9 L224.0,429.9 L233.4,429.2 L242.9,431.4 L252.3,432.9 L261.7,434.4 L271.1,462.3 L280.5,426.9 L289.9,429.5" fill="none" stroke="#707070" stroke-width="0.9" stroke-dasharray="1,3"/><path d="M72.1,429.9H74.9M73.5,428.5V431.3" stroke="#707070" stroke-width="0.9" fill="none"/><path d="M81.5,429.9H84.3M82.9,428.5V431.3" stroke="#707070" stroke-width="0.9" fill="none"/><path d="M90.9,429.9H93.7M92.3,428.5V431.3" stroke="#707070" stroke-width="0.9" fill="none"/><path d="M100.3,429.2H103.1M101.7,427.8V430.6" stroke="#707070" stroke-width="0.9" fill="none"/><path d="M109.7,428.4H112.5M111.1,427.0V429.8" stroke="#707070" stroke-width="0.9" fill="none"/><path d="M119.1,429.9H121.9M120.5,428.5V431.3" stroke="#707070" stroke-width="0.9" fill="none"/><path d="M128.6,342.5H131.4M130.0,341.1V343.9" stroke="#707070" stroke-width="0.9" fill="none"/><path d="M138.0,450.8H140.8M139.4,449.4V452.2" stroke="#707070" stroke-width="0.9" fill="none"/><path d="M147.4,432.9H150.2M148.8,431.5V434.3" stroke="#707070" stroke-width="0.9" fill="none"/><path d="M156.8,426.9H159.6M158.2,425.5V428.3" stroke="#707070" stroke-width="0.9" fill="none"/><path d="M166.2,434.4H169.0M167.6,433.0V435.8" stroke="#707070" stroke-width="0.9" fill="none"/><path d="M175.6,425.4H178.4M177.0,424.0V426.8" stroke="#707070" stroke-width="0.9" fill="none"/><path d="M185.0,429.9H187.8M186.4,428.5V431.3" stroke="#707070" stroke-width="0.9" fill="none"/><path d="M194.4,429.2H197.2M195.8,427.8V430.6" stroke="#707070" stroke-width="0.9" fill="none"/><path d="M203.8,429.9H206.6M205.2,428.5V431.3" stroke="#707070" stroke-width="0.9" fill="none"/><path d="M213.2,429.9H216.0M214.6,428.5V431.3" stroke="#707070" stroke-width="0.9" fill="none"/><path d="M222.6,429.9H225.4M224.0,428.5V431.3" stroke="#707070" stroke-width="0.9" fill="none"/><path d="M232.0,429.2H234.8M233.4,427.8V430.6" stroke="#707070" stroke-width="0.9" fill="none"/><path d="M241.5,431.4H244.3M242.9,430.0V432.8" stroke="#707070" stroke-width="0.9" fill="none"/><path d="M250.9,432.9H253.7M252.3,431.5V434.3" stroke="#707070" stroke-width="0.9" fill="none"/><path d="M260.3,434.4H263.1M261.7,433.0V435.8" stroke="#707070" stroke-width="0.9" fill="none"/><path d="M269.7,462.3H272.5M271.1,460.9V463.7" stroke="#707070" stroke-width="0.9" fill="none"/><path d="M279.1,426.9H281.9M280.5,425.5V428.3" stroke="#707070" stroke-width="0.9" fill="none"/><path d="M288.5,429.5H291.3M289.9,428.1V430.9" stroke="#707070" stroke-width="0.9" fill="none"/>
<path d="M73.5,429.9 L82.9,429.9 L92.3,429.9 L101.7,429.2 L111.1,430.3 L120.5,429.2 L130.0,430.6 L139.4,428.4 L148.8,430.6 L158.2,429.2 L167.6,430.3 L177.0,429.5 L186.4,430.3 L195.8,429.5 L205.2,430.3 L214.6,429.5 L224.0,430.2 L233.4,429.5 L242.9,430.2 L252.3,429.6 L261.7,430.3 L271.1,429.3 L280.5,430.3 L289.9,429.6" fill="none" stroke="#e3701a" stroke-width="1" stroke-dasharray="2,3,1,3"/><circle cx="73.5" cy="429.9" r="2.0" fill="#e3701a"/><circle cx="82.9" cy="429.9" r="2.0" fill="#e3701a"/><circle cx="92.3" cy="429.9" r="2.0" fill="#e3701a"/><circle cx="101.7" cy="429.2" r="2.0" fill="#e3701a"/><circle cx="111.1" cy="430.3" r="2.0" fill="#e3701a"/><circle cx="120.5" cy="429.2" r="2.0" fill="#e3701a"/><circle cx="130.0" cy="430.6" r="2.0" fill="#e3701a"/><circle cx="139.4" cy="428.4" r="2.0" fill="#e3701a"/><circle cx="148.8" cy="430.6" r="2.0" fill="#e3701a"/><circle cx="158.2" cy="429.2" r="2.0" fill="#e3701a"/><circle cx="167.6" cy="430.3" r="2.0" fill="#e3701a"/><circle cx="177.0" cy="429.5" r="2.0" fill="#e3701a"/><circle cx="186.4" cy="430.3" r="2.0" fill="#e3701a"/><circle cx="195.8" cy="429.5" r="2.0" fill="#e3701a"/><circle cx="205.2" cy="430.3" r="2.0" fill="#e3701a"/><circle cx="214.6" cy="429.5" r="2.0" fill="#e3701a"/><circle cx="224.0" cy="430.2" r="2.0" fill="#e3701a"/><circle cx="233.4" cy="429.5" r="2.0" fill="#e3701a"/><circle cx="242.9" cy="430.2" r="2.0" fill="#e3701a"/><circle cx="252.3" cy="429.6" r="2.0" fill="#e3701a"/><circle cx="261.7" cy="430.3" r="2.0" fill="#e3701a"/><circle cx="271.1" cy="429.3" r="2.0" fill="#e3701a"/><circle cx="280.5" cy="430.3" r="2.0" fill="#e3701a"/><circle cx="289.9" cy="429.6" r="2.0" fill="#e3701a"/>
<path d="M73.5,429.9 L82.9,429.9 L92.3,429.9 L101.7,428.4 L111.1,423.9 L120.5,422.4 L130.0,421.8 L139.4,450.8 L148.8,431.4 L158.2,428.4 L167.6,432.9 L177.0,423.9 L186.4,434.4 L195.8,429.2 L205.2,429.9 L214.6,429.9 L224.0,429.9 L233.4,429.9 L242.9,429.9 L252.3,429.9 L261.7,430.6 L271.1,435.9 L280.5,429.2 L289.9,429.9" fill="none" stroke="#22aaee" stroke-width="1" stroke-dasharray="2.5,3.5"/><path d="M71.2,428.3H75.8L73.5,432.2Z" fill="#22aaee"/><path d="M80.6,428.3H85.2L82.9,432.2Z" fill="#22aaee"/><path d="M90.0,428.3H94.6L92.3,432.2Z" fill="#22aaee"/><path d="M99.4,426.8H104.0L101.7,430.7Z" fill="#22aaee"/><path d="M108.8,422.3H113.4L111.1,426.2Z" fill="#22aaee"/><path d="M118.2,420.8H122.8L120.5,424.7Z" fill="#22aaee"/><path d="M127.7,420.2H132.3L130.0,424.1Z" fill="#22aaee"/><path d="M137.1,449.2H141.7L139.4,453.1Z" fill="#22aaee"/><path d="M146.5,429.8H151.1L148.8,433.7Z" fill="#22aaee"/><path d="M155.9,426.8H160.5L158.2,430.7Z" fill="#22aaee"/><path d="M165.3,431.3H169.9L167.6,435.2Z" fill="#22aaee"/><path d="M174.7,422.3H179.3L177.0,426.2Z" fill="#22aaee"/><path d="M184.1,432.8H188.7L186.4,436.7Z" fill="#22aaee"/><path d="M193.5,427.5H198.1L195.8,431.5Z" fill="#22aaee"/><path d="M202.9,428.3H207.5L205.2,432.2Z" fill="#22aaee"/><path d="M212.3,428.3H216.9L214.6,432.2Z" fill="#22aaee"/><path d="M221.7,428.3H226.3L224.0,432.2Z" fill="#22aaee"/><path d="M231.1,428.3H235.7L233.4,432.2Z" fill="#22aaee"/><path d="M240.6,428.3H245.2L242.9,432.2Z" fill="#22aaee"/><path d="M250.0,428.3H254.6L252.3,432.2Z" fill="#22aaee"/><path d="M259.4,429.0H264.0L261.7,432.9Z" fill="#22aaee"/><path d="M268.8,434.3H273.4L271.1,438.2Z" fill="#22aaee"/><path d="M278.2,427.5H282.8L280.5,431.5Z" fill="#22aaee"/><path d="M287.6,428.3H292.2L289.9,432.2Z" fill="#22aaee"/>
<path d="M73.5,429.9 L82.9,429.9 L92.3,429.9 L101.7,429.5 L111.1,429.2 L120.5,428.4 L130.0,355.2 L139.4,444.8 L148.8,431.4 L158.2,427.7 L167.6,432.9 L177.0,426.9 L186.4,429.9 L195.8,429.5 L205.2,429.9 L214.6,429.9 L224.0,429.9 L233.4,429.5 L242.9,431.4 L252.3,432.1 L261.7,432.9 L271.1,452.3 L280.5,427.7 L289.9,429.5" fill="none" stroke="#8a8a8a" stroke-width="0.9" stroke-dasharray="1,3"/><path d="M72.2,429.9H74.8M73.5,428.6V431.2" stroke="#8a8a8a" stroke-width="0.9" fill="none"/><path d="M81.6,429.9H84.2M82.9,428.6V431.2" stroke="#8a8a8a" stroke-width="0.9" fill="none"/><path d="M91.0,429.9H93.6M92.3,428.6V431.2" stroke="#8a8a8a" stroke-width="0.9" fill="none"/><path d="M100.4,429.5H103.0M101.7,428.2V430.8" stroke="#8a8a8a" stroke-width="0.9" fill="none"/><path d="M109.8,429.2H112.4M111.1,427.9V430.5" stroke="#8a8a8a" stroke-width="0.9" fill="none"/><path d="M119.2,428.4H121.8M120.5,427.1V429.7" stroke="#8a8a8a" stroke-width="0.9" fill="none"/><path d="M128.7,355.2H131.3M130.0,353.9V356.5" stroke="#8a8a8a" stroke-width="0.9" fill="none"/><path d="M138.1,444.8H140.7M139.4,443.5V446.1" stroke="#8a8a8a" stroke-width="0.9" fill="none"/><path d="M147.5,431.4H150.1M148.8,430.1V432.7" stroke="#8a8a8a" stroke-width="0.9" fill="none"/><path d="M156.9,427.7H159.5M158.2,426.4V429.0" stroke="#8a8a8a" stroke-width="0.9" fill="none"/><path d="M166.3,432.9H168.9M167.6,431.6V434.2" stroke="#8a8a8a" stroke-width="0.9" fill="none"/><path d="M175.7,426.9H178.3M177.0,425.6V428.2" stroke="#8a8a8a" stroke-width="0.9" fill="none"/><path d="M185.1,429.9H187.7M186.4,428.6V431.2" stroke="#8a8a8a" stroke-width="0.9" fill="none"/><path d="M194.5,429.5H197.1M195.8,428.2V430.8" stroke="#8a8a8a" stroke-width="0.9" fill="none"/><path d="M203.9,429.9H206.5M205.2,428.6V431.2" stroke="#8a8a8a" stroke-width="0.9" fill="none"/><path d="M213.3,429.9H215.9M214.6,428.6V431.2" stroke="#8a8a8a" stroke-width="0.9" fill="none"/><path d="M222.7,429.9H225.3M224.0,428.6V431.2" stroke="#8a8a8a" stroke-width="0.9" fill="none"/><path d="M232.1,429.5H234.7M233.4,428.2V430.8" stroke="#8a8a8a" stroke-width="0.9" fill="none"/><path d="M241.6,431.4H244.2M242.9,430.1V432.7" stroke="#8a8a8a" stroke-width="0.9" fill="none"/><path d="M251.0,432.1H253.6M252.3,430.8V433.4" stroke="#8a8a8a" stroke-width="0.9" fill="none"/><path d="M260.4,432.9H263.0M261.7,431.6V434.2" stroke="#8a8a8a" stroke-width="0.9" fill="none"/><path d="M269.8,452.3H272.4M271.1,451.0V453.6" stroke="#8a8a8a" stroke-width="0.9" fill="none"/><path d="M279.2,427.7H281.8M280.5,426.4V429.0" stroke="#8a8a8a" stroke-width="0.9" fill="none"/><path d="M288.6,429.5H291.2M289.9,428.2V430.8" stroke="#8a8a8a" stroke-width="0.9" fill="none"/>
<path d="M73.5,429.9 L82.9,429.9 L92.3,429.9 L101.7,428.4 L111.1,418.1 L120.5,420.9 L130.0,426.9 L139.4,438.9 L148.8,431.4 L158.2,429.2 L167.6,431.4 L177.0,429.2 L186.4,429.9 L195.8,429.9 L205.2,429.9 L214.6,429.9 L224.0,429.9 L233.4,429.9 L242.9,429.9 L252.3,429.9 L261.7,429.9 L271.1,431.4 L280.5,429.9 L289.9,429.9" fill="none" stroke="#4a78cc" stroke-width="1.2"/><path d="M72.3,429.9H74.7M73.5,428.7V431.1" stroke="#4a78cc" stroke-width="0.9" fill="none"/><path d="M81.7,429.9H84.1M82.9,428.7V431.1" stroke="#4a78cc" stroke-width="0.9" fill="none"/><path d="M91.1,429.9H93.5M92.3,428.7V431.1" stroke="#4a78cc" stroke-width="0.9" fill="none"/><path d="M100.5,428.4H102.9M101.7,427.2V429.6" stroke="#4a78cc" stroke-width="0.9" fill="none"/><path d="M109.9,418.1H112.3M111.1,416.9V419.3" stroke="#4a78cc" stroke-width="0.9" fill="none"/><path d="M119.3,420.9H121.7M120.5,419.7V422.1" stroke="#4a78cc" stroke-width="0.9" fill="none"/><path d="M128.8,426.9H131.2M130.0,425.7V428.1" stroke="#4a78cc" stroke-width="0.9" fill="none"/><path d="M138.2,438.9H140.6M139.4,437.7V440.1" stroke="#4a78cc" stroke-width="0.9" fill="none"/><path d="M147.6,431.4H150.0M148.8,430.2V432.6" stroke="#4a78cc" stroke-width="0.9" fill="none"/><path d="M157.0,429.2H159.4M158.2,428.0V430.4" stroke="#4a78cc" stroke-width="0.9" fill="none"/><path d="M166.4,431.4H168.8M167.6,430.2V432.6" stroke="#4a78cc" stroke-width="0.9" fill="none"/><path d="M175.8,429.2H178.2M177.0,428.0V430.4" stroke="#4a78cc" stroke-width="0.9" fill="none"/><path d="M185.2,429.9H187.6M186.4,428.7V431.1" stroke="#4a78cc" stroke-width="0.9" fill="none"/><path d="M194.6,429.9H197.0M195.8,428.7V431.1" stroke="#4a78cc" stroke-width="0.9" fill="none"/><path d="M204.0,429.9H206.4M205.2,428.7V431.1" stroke="#4a78cc" stroke-width="0.9" fill="none"/><path d="M213.4,429.9H215.8M214.6,428.7V431.1" stroke="#4a78cc" stroke-width="0.9" fill="none"/><path d="M222.8,429.9H225.2M224.0,428.7V431.1" stroke="#4a78cc" stroke-width="0.9" fill="none"/><path d="M232.2,429.9H234.6M233.4,428.7V431.1" stroke="#4a78cc" stroke-width="0.9" fill="none"/><path d="M241.7,429.9H244.1M242.9,428.7V431.1" stroke="#4a78cc" stroke-width="0.9" fill="none"/><path d="M251.1,429.9H253.5M252.3,428.7V431.1" stroke="#4a78cc" stroke-width="0.9" fill="none"/><path d="M260.5,429.9H262.9M261.7,428.7V431.1" stroke="#4a78cc" stroke-width="0.9" fill="none"/><path d="M269.9,431.4H272.3M271.1,430.2V432.6" stroke="#4a78cc" stroke-width="0.9" fill="none"/><path d="M279.3,429.9H281.7M280.5,428.7V431.1" stroke="#4a78cc" stroke-width="0.9" fill="none"/><path d="M288.7,429.9H291.1M289.9,428.7V431.1" stroke="#4a78cc" stroke-width="0.9" fill="none"/>
<path d="M73.5,429.9 L82.9,429.9 L92.3,429.9 L101.7,429.9 L111.1,429.6 L120.5,429.2 L130.0,427.7 L139.4,431.1 L148.8,430.3 L158.2,429.9 L167.6,429.9 L177.0,429.9 L186.4,429.9 L195.8,429.9 L205.2,429.9 L214.6,429.9 L224.0,429.9 L233.4,429.9 L242.9,429.9 L252.3,429.9 L261.7,429.9 L271.1,430.6 L280.5,429.9 L289.9,429.9" fill="none" stroke="#c6e33c" stroke-width="1" stroke-dasharray="1,3"/><path d="M71.7,428.6H75.3L73.5,431.7Z" fill="#c6e33c"/><path d="M81.1,428.6H84.7L82.9,431.7Z" fill="#c6e33c"/><path d="M90.5,428.6H94.1L92.3,431.7Z" fill="#c6e33c"/><path d="M99.9,428.6H103.5L101.7,431.7Z" fill="#c6e33c"/><path d="M109.3,428.3H112.9L111.1,431.4Z" fill="#c6e33c"/><path d="M118.7,427.9H122.3L120.5,431.0Z" fill="#c6e33c"/><path d="M128.2,426.4H131.8L130.0,429.5Z" fill="#c6e33c"/><path d="M137.6,429.8H141.2L139.4,432.9Z" fill="#c6e33c"/><path d="M147.0,429.1H150.6L148.8,432.1Z" fill="#c6e33c"/><path d="M156.4,428.6H160.0L158.2,431.7Z" fill="#c6e33c"/><path d="M165.8,428.6H169.4L167.6,431.7Z" fill="#c6e33c"/><path d="M175.2,428.6H178.8L177.0,431.7Z" fill="#c6e33c"/><path d="M184.6,428.6H188.2L186.4,431.7Z" fill="#c6e33c"/><path d="M194.0,428.6H197.6L195.8,431.7Z" fill="#c6e33c"/><path d="M203.4,428.6H207.0L205.2,431.7Z" fill="#c6e33c"/><path d="M212.8,428.6H216.4L214.6,431.7Z" fill="#c6e33c"/><path d="M222.2,428.6H225.8L224.0,431.7Z" fill="#c6e33c"/><path d="M231.6,428.6H235.2L233.4,431.7Z" fill="#c6e33c"/><path d="M241.1,428.6H244.7L242.9,431.7Z" fill="#c6e33c"/><path d="M250.5,428.6H254.1L252.3,431.7Z" fill="#c6e33c"/><path d="M259.9,428.6H263.5L261.7,431.7Z" fill="#c6e33c"/><path d="M269.3,429.4H272.9L271.1,432.4Z" fill="#c6e33c"/><path d="M278.7,428.6H282.3L280.5,431.7Z" fill="#c6e33c"/><path d="M288.1,428.6H291.7L289.9,431.7Z" fill="#c6e33c"/>
<path d="M73.5,429.9 L82.9,429.9 L92.3,429.9 L101.7,429.6 L111.1,429.2 L120.5,426.9 L130.0,366.9 L139.4,438.9 L148.8,434.4 L158.2,425.6 L167.6,438.0 L177.0,421.8 L186.4,431.4 L195.8,429.2 L205.2,429.9 L214.6,429.9 L224.0,429.9 L233.4,429.9 L242.9,430.6 L252.3,431.4 L261.7,432.9 L271.1,447.4 L280.5,428.4 L289.9,429.6" fill="none" stroke="#a6d98a" stroke-width="0.9"/><circle cx="73.5" cy="429.9" r="1.9" fill="#a6d98a"/><circle cx="82.9" cy="429.9" r="1.9" fill="#a6d98a"/><circle cx="92.3" cy="429.9" r="1.9" fill="#a6d98a"/><circle cx="101.7" cy="429.6" r="1.9" fill="#a6d98a"/><circle cx="111.1" cy="429.2" r="1.9" fill="#a6d98a"/><circle cx="120.5" cy="426.9" r="1.9" fill="#a6d98a"/><circle cx="130.0" cy="366.9" r="1.9" fill="#a6d98a"/><circle cx="139.4" cy="438.9" r="1.9" fill="#a6d98a"/><circle cx="148.8" cy="434.4" r="1.9" fill="#a6d98a"/><circle cx="158.2" cy="425.6" r="1.9" fill="#a6d98a"/><circle cx="167.6" cy="438.0" r="1.9" fill="#a6d98a"/><circle cx="177.0" cy="421.8" r="1.9" fill="#a6d98a"/><circle cx="186.4" cy="431.4" r="1.9" fill="#a6d98a"/><circle cx="195.8" cy="429.2" r="1.9" fill="#a6d98a"/><circle cx="205.2" cy="429.9" r="1.9" fill="#a6d98a"/><circle cx="214.6" cy="429.9" r="1.9" fill="#a6d98a"/><circle cx="224.0" cy="429.9" r="1.9" fill="#a6d98a"/><circle cx="233.4" cy="429.9" r="1.9" fill="#a6d98a"/><circle cx="242.9" cy="430.6" r="1.9" fill="#a6d98a"/><circle cx="252.3" cy="431.4" r="1.9" fill="#a6d98a"/><circle cx="261.7" cy="432.9" r="1.9" fill="#a6d98a"/><circle cx="271.1" cy="447.4" r="1.9" fill="#a6d98a"/><circle cx="280.5" cy="428.4" r="1.9" fill="#a6d98a"/><circle cx="289.9" cy="429.6" r="1.9" fill="#a6d98a"/>
<path d="M73.5,429.9 L82.9,429.9 L92.3,429.9 L101.7,429.2 L111.1,426.9 L120.5,423.9 L130.0,428.4 L139.4,437.4 L148.8,431.4 L158.2,429.2 L167.6,430.6 L177.0,429.2 L186.4,429.9 L195.8,429.9 L205.2,429.9 L214.6,429.9 L224.0,429.9 L233.4,429.9 L242.9,429.9 L252.3,430.6 L261.7,430.6 L271.1,432.9 L280.5,429.9 L289.9,429.9" fill="none" stroke="#777777" stroke-width="1" stroke-dasharray="1,2"/><rect x="71.6" y="428.0" width="3.8" height="3.8" fill="#777777"/><rect x="81.0" y="428.0" width="3.8" height="3.8" fill="#777777"/><rect x="90.4" y="428.0" width="3.8" height="3.8" fill="#777777"/><rect x="99.8" y="427.3" width="3.8" height="3.8" fill="#777777"/><rect x="109.2" y="425.0" width="3.8" height="3.8" fill="#777777"/><rect x="118.6" y="422.0" width="3.8" height="3.8" fill="#777777"/><rect x="128.1" y="426.5" width="3.8" height="3.8" fill="#777777"/><rect x="137.5" y="435.5" width="3.8" height="3.8" fill="#777777"/><rect x="146.9" y="429.5" width="3.8" height="3.8" fill="#777777"/><rect x="156.3" y="427.3" width="3.8" height="3.8" fill="#777777"/><rect x="165.7" y="428.7" width="3.8" height="3.8" fill="#777777"/><rect x="175.1" y="427.3" width="3.8" height="3.8" fill="#777777"/><rect x="184.5" y="428.0" width="3.8" height="3.8" fill="#777777"/><rect x="193.9" y="428.0" width="3.8" height="3.8" fill="#777777"/><rect x="203.3" y="428.0" width="3.8" height="3.8" fill="#777777"/><rect x="212.7" y="428.0" width="3.8" height="3.8" fill="#777777"/><rect x="222.1" y="428.0" width="3.8" height="3.8" fill="#777777"/><rect x="231.5" y="428.0" width="3.8" height="3.8" fill="#777777"/><rect x="241.0" y="428.0" width="3.8" height="3.8" fill="#777777"/><rect x="250.4" y="428.7" width="3.8" height="3.8" fill="#777777"/><rect x="259.8" y="428.7" width="3.8" height="3.8" fill="#777777"/><rect x="269.2" y="431.0" width="3.8" height="3.8" fill="#777777"/><rect x="278.6" y="428.0" width="3.8" height="3.8" fill="#777777"/><rect x="288.0" y="428.0" width="3.8" height="3.8" fill="#777777"/>
<path d="M73.5,429.9 L82.9,429.3 L92.3,430.5 L101.7,429.3 L111.1,430.5 L120.5,429.3 L130.0,431.1 L139.4,428.7 L148.8,430.5 L158.2,429.3 L167.6,430.5 L177.0,429.3 L186.4,430.5 L195.8,429.3 L205.2,430.5 L214.6,429.3 L224.0,430.5 L233.4,429.3 L242.9,430.5 L252.3,429.3 L261.7,430.5 L271.1,429.3 L280.5,430.5 L289.9,429.5" fill="none" stroke="#e3701a" stroke-width="1" stroke-dasharray="2,3,1,3"/><circle cx="73.5" cy="429.9" r="2.0" fill="#e3701a"/><circle cx="82.9" cy="429.3" r="2.0" fill="#e3701a"/><circle cx="92.3" cy="430.5" r="2.0" fill="#e3701a"/><circle cx="101.7" cy="429.3" r="2.0" fill="#e3701a"/><circle cx="111.1" cy="430.5" r="2.0" fill="#e3701a"/><circle cx="120.5" cy="429.3" r="2.0" fill="#e3701a"/><circle cx="130.0" cy="431.1" r="2.0" fill="#e3701a"/><circle cx="139.4" cy="428.7" r="2.0" fill="#e3701a"/><circle cx="148.8" cy="430.5" r="2.0" fill="#e3701a"/><circle cx="158.2" cy="429.3" r="2.0" fill="#e3701a"/><circle cx="167.6" cy="430.5" r="2.0" fill="#e3701a"/><circle cx="177.0" cy="429.3" r="2.0" fill="#e3701a"/><circle cx="186.4" cy="430.5" r="2.0" fill="#e3701a"/><circle cx="195.8" cy="429.3" r="2.0" fill="#e3701a"/><circle cx="205.2" cy="430.5" r="2.0" fill="#e3701a"/><circle cx="214.6" cy="429.3" r="2.0" fill="#e3701a"/><circle cx="224.0" cy="430.5" r="2.0" fill="#e3701a"/><circle cx="233.4" cy="429.3" r="2.0" fill="#e3701a"/><circle cx="242.9" cy="430.5" r="2.0" fill="#e3701a"/><circle cx="252.3" cy="429.3" r="2.0" fill="#e3701a"/><circle cx="261.7" cy="430.5" r="2.0" fill="#e3701a"/><circle cx="271.1" cy="429.3" r="2.0" fill="#e3701a"/><circle cx="280.5" cy="430.5" r="2.0" fill="#e3701a"/><circle cx="289.9" cy="429.5" r="2.0" fill="#e3701a"/>
<path d="M73.5,429.9 L82.9,429.9 L92.3,429.9 L101.7,429.8 L111.1,429.2 L120.5,428.4 L130.0,406.9 L139.4,435.9 L148.8,432.9 L158.2,427.7 L167.6,432.9 L177.0,426.9 L186.4,430.6 L195.8,429.6 L205.2,429.9 L214.6,429.9 L224.0,429.9 L233.4,429.9 L242.9,430.3 L252.3,430.6 L261.7,431.4 L271.1,437.4 L280.5,429.2 L289.9,429.8" fill="none" stroke="#a6d98a" stroke-width="0.9"/><circle cx="73.5" cy="429.9" r="1.8" fill="#a6d98a"/><circle cx="82.9" cy="429.9" r="1.8" fill="#a6d98a"/><circle cx="92.3" cy="429.9" r="1.8" fill="#a6d98a"/><circle cx="101.7" cy="429.8" r="1.8" fill="#a6d98a"/><circle cx="111.1" cy="429.2" r="1.8" fill="#a6d98a"/><circle cx="120.5" cy="428.4" r="1.8" fill="#a6d98a"/><circle cx="130.0" cy="406.9" r="1.8" fill="#a6d98a"/><circle cx="139.4" cy="435.9" r="1.8" fill="#a6d98a"/><circle cx="148.8" cy="432.9" r="1.8" fill="#a6d98a"/><circle cx="158.2" cy="427.7" r="1.8" fill="#a6d98a"/><circle cx="167.6" cy="432.9" r="1.8" fill="#a6d98a"/><circle cx="177.0" cy="426.9" r="1.8" fill="#a6d98a"/><circle cx="186.4" cy="430.6" r="1.8" fill="#a6d98a"/><circle cx="195.8" cy="429.6" r="1.8" fill="#a6d98a"/><circle cx="205.2" cy="429.9" r="1.8" fill="#a6d98a"/><circle cx="214.6" cy="429.9" r="1.8" fill="#a6d98a"/><circle cx="224.0" cy="429.9" r="1.8" fill="#a6d98a"/><circle cx="233.4" cy="429.9" r="1.8" fill="#a6d98a"/><circle cx="242.9" cy="430.3" r="1.8" fill="#a6d98a"/><circle cx="252.3" cy="430.6" r="1.8" fill="#a6d98a"/><circle cx="261.7" cy="431.4" r="1.8" fill="#a6d98a"/><circle cx="271.1" cy="437.4" r="1.8" fill="#a6d98a"/><circle cx="280.5" cy="429.2" r="1.8" fill="#a6d98a"/><circle cx="289.9" cy="429.8" r="1.8" fill="#a6d98a"/>
<path d="M73.5,429.9 L82.9,429.9 L92.3,429.9 L101.7,429.9 L111.1,429.9 L120.5,429.9 L130.0,429.9 L139.4,429.9 L148.8,429.9 L158.2,429.9 L167.6,429.9 L177.0,429.9 L186.4,429.9 L195.8,429.9 L205.2,429.9 L214.6,429.9 L224.0,429.9 L233.4,429.9 L242.9,429.9 L252.3,429.9 L261.7,429.9 L271.1,429.9 L280.5,429.9 L289.9,429.9" fill="none" stroke="#d98080" stroke-width="1.0" stroke-dasharray="3,5"/><circle cx="73.5" cy="429.9" r="1.5" fill="#d98080"/><circle cx="82.9" cy="429.9" r="1.5" fill="#d98080"/><circle cx="92.3" cy="429.9" r="1.5" fill="#d98080"/><circle cx="101.7" cy="429.9" r="1.5" fill="#d98080"/><circle cx="111.1" cy="429.9" r="1.5" fill="#d98080"/><circle cx="120.5" cy="429.9" r="1.5" fill="#d98080"/><circle cx="130.0" cy="429.9" r="1.5" fill="#d98080"/><circle cx="139.4" cy="429.9" r="1.5" fill="#d98080"/><circle cx="148.8" cy="429.9" r="1.5" fill="#d98080"/><circle cx="158.2" cy="429.9" r="1.5" fill="#d98080"/><circle cx="167.6" cy="429.9" r="1.5" fill="#d98080"/><circle cx="177.0" cy="429.9" r="1.5" fill="#d98080"/><circle cx="186.4" cy="429.9" r="1.5" fill="#d98080"/><circle cx="195.8" cy="429.9" r="1.5" fill="#d98080"/><circle cx="205.2" cy="429.9" r="1.5" fill="#d98080"/><circle cx="214.6" cy="429.9" r="1.5" fill="#d98080"/><circle cx="224.0" cy="429.9" r="1.5" fill="#d98080"/><circle cx="233.4" cy="429.9" r="1.5" fill="#d98080"/><circle cx="242.9" cy="429.9" r="1.5" fill="#d98080"/><circle cx="252.3" cy="429.9" r="1.5" fill="#d98080"/><circle cx="261.7" cy="429.9" r="1.5" fill="#d98080"/><circle cx="271.1" cy="429.9" r="1.5" fill="#d98080"/><circle cx="280.5" cy="429.9" r="1.5" fill="#d98080"/><circle cx="289.9" cy="429.9" r="1.5" fill="#d98080"/>
<path d="M73.5,429.9 L82.9,429.9 L92.3,429.9 L101.7,429.9 L111.1,429.9 L120.5,429.9 L130.0,429.9 L139.4,429.9 L148.8,429.9 L158.2,429.9 L167.6,429.9 L177.0,429.9 L186.4,429.9 L195.8,429.9 L205.2,429.9 L214.6,429.9 L224.0,429.9 L233.4,429.9 L242.9,429.9 L252.3,429.9 L261.7,429.9 L271.1,429.9 L280.5,429.9 L289.9,429.9" fill="none" stroke="#e3701a" stroke-width="1" stroke-dasharray="2,3,1,3"/><circle cx="73.5" cy="429.9" r="2.0" fill="#e3701a"/><circle cx="82.9" cy="429.9" r="2.0" fill="#e3701a"/><circle cx="92.3" cy="429.9" r="2.0" fill="#e3701a"/><circle cx="101.7" cy="429.9" r="2.0" fill="#e3701a"/><circle cx="111.1" cy="429.9" r="2.0" fill="#e3701a"/><circle cx="120.5" cy="429.9" r="2.0" fill="#e3701a"/><circle cx="130.0" cy="429.9" r="2.0" fill="#e3701a"/><circle cx="139.4" cy="429.9" r="2.0" fill="#e3701a"/><circle cx="148.8" cy="429.9" r="2.0" fill="#e3701a"/><circle cx="158.2" cy="429.9" r="2.0" fill="#e3701a"/><circle cx="167.6" cy="429.9" r="2.0" fill="#e3701a"/><circle cx="177.0" cy="429.9" r="2.0" fill="#e3701a"/><circle cx="186.4" cy="429.9" r="2.0" fill="#e3701a"/><circle cx="195.8" cy="429.9" r="2.0" fill="#e3701a"/><circle cx="205.2" cy="429.9" r="2.0" fill="#e3701a"/><circle cx="214.6" cy="429.9" r="2.0" fill="#e3701a"/><circle cx="224.0" cy="429.9" r="2.0" fill="#e3701a"/><circle cx="233.4" cy="429.9" r="2.0" fill="#e3701a"/><circle cx="242.9" cy="429.9" r="2.0" fill="#e3701a"/><circle cx="252.3" cy="429.9" r="2.0" fill="#e3701a"/><circle cx="261.7" cy="429.9" r="2.0" fill="#e3701a"/><circle cx="271.1" cy="429.9" r="2.0" fill="#e3701a"/><circle cx="280.5" cy="429.9" r="2.0" fill="#e3701a"/><circle cx="289.9" cy="429.9" r="2.0" fill="#e3701a"/>
</g>
<clipPath id="cl_c3"><rect x="360.5" y="335.2" width="206.20000000000005" height="133.70000000000002"/></clipPath>
<g clip-path="url(#cl_c3)">
<path d="M360.5,379.0 L369.3,379.0 L378.2,379.0 L387.0,368.8 L395.8,370.6 L404.7,366.2 L413.5,377.9 L422.3,365.2 L431.2,374.7 L440.0,379.7 L448.8,377.3 L457.7,387.0 L466.5,372.5 L475.4,380.1 L484.2,376.9 L493.0,379.0 L501.9,404.4 L510.7,387.4 L519.5,379.7 L528.4,379.0 L537.2,379.4 L546.0,418.1 L554.9,376.7 L563.7,378.7" fill="none" stroke="#8a2be2" stroke-width="1" stroke-dasharray="2.5,2.5,1,2.5"/><path d="M362.2,376.6V381.4L358.1,379.0Z" fill="#8a2be2"/><path d="M371.0,376.6V381.4L366.9,379.0Z" fill="#8a2be2"/><path d="M379.8,376.6V381.4L375.8,379.0Z" fill="#8a2be2"/><path d="M388.7,366.4V371.2L384.6,368.8Z" fill="#8a2be2"/><path d="M397.5,368.2V373.0L393.4,370.6Z" fill="#8a2be2"/><path d="M406.4,363.8V368.6L402.3,366.2Z" fill="#8a2be2"/><path d="M415.2,375.5V380.3L411.1,377.9Z" fill="#8a2be2"/><path d="M424.0,362.8V367.6L419.9,365.2Z" fill="#8a2be2"/><path d="M432.9,372.3V377.1L428.8,374.7Z" fill="#8a2be2"/><path d="M441.7,377.3V382.1L437.6,379.7Z" fill="#8a2be2"/><path d="M450.5,374.9V379.7L446.4,377.3Z" fill="#8a2be2"/><path d="M459.4,384.6V389.4L455.3,387.0Z" fill="#8a2be2"/><path d="M468.2,370.1V374.9L464.1,372.5Z" fill="#8a2be2"/><path d="M477.0,377.7V382.5L473.0,380.1Z" fill="#8a2be2"/><path d="M485.9,374.5V379.3L481.8,376.9Z" fill="#8a2be2"/><path d="M494.7,376.6V381.4L490.6,379.0Z" fill="#8a2be2"/><path d="M503.5,402.0V406.8L499.5,404.4Z" fill="#8a2be2"/><path d="M512.4,385.0V389.8L508.3,387.4Z" fill="#8a2be2"/><path d="M521.2,377.3V382.1L517.1,379.7Z" fill="#8a2be2"/><path d="M530.0,376.6V381.4L526.0,379.0Z" fill="#8a2be2"/><path d="M538.9,377.0V381.8L534.8,379.4Z" fill="#8a2be2"/><path d="M547.7,415.7V420.5L543.6,418.1Z" fill="#8a2be2"/><path d="M556.5,374.3V379.1L552.5,376.7Z" fill="#8a2be2"/><path d="M565.4,376.3V381.1L561.3,378.7Z" fill="#8a2be2"/>
<path d="M360.5,379.0 L369.3,379.0 L378.2,379.0 L387.0,364.2 L395.8,367.7 L404.7,360.6 L413.5,377.6 L422.3,364.7 L431.2,373.8 L440.0,380.1 L448.8,376.5 L457.7,388.4 L466.5,369.1 L475.4,380.3 L484.2,376.5 L493.0,379.0 L501.9,406.3 L510.7,389.8 L519.5,380.1 L528.4,379.0 L537.2,379.5 L546.0,431.3 L554.9,376.3 L563.7,378.7" fill="none" stroke="#c6e33c" stroke-width="1" stroke-dasharray="2,4"/><rect x="358.8" y="377.3" width="3.4" height="3.4" fill="#c6e33c"/><rect x="367.6" y="377.3" width="3.4" height="3.4" fill="#c6e33c"/><rect x="376.5" y="377.3" width="3.4" height="3.4" fill="#c6e33c"/><rect x="385.3" y="362.5" width="3.4" height="3.4" fill="#c6e33c"/><rect x="394.1" y="366.0" width="3.4" height="3.4" fill="#c6e33c"/><rect x="403.0" y="358.9" width="3.4" height="3.4" fill="#c6e33c"/><rect x="411.8" y="375.9" width="3.4" height="3.4" fill="#c6e33c"/><rect x="420.6" y="363.0" width="3.4" height="3.4" fill="#c6e33c"/><rect x="429.5" y="372.1" width="3.4" height="3.4" fill="#c6e33c"/><rect x="438.3" y="378.4" width="3.4" height="3.4" fill="#c6e33c"/><rect x="447.1" y="374.8" width="3.4" height="3.4" fill="#c6e33c"/><rect x="456.0" y="386.7" width="3.4" height="3.4" fill="#c6e33c"/><rect x="464.8" y="367.4" width="3.4" height="3.4" fill="#c6e33c"/><rect x="473.7" y="378.6" width="3.4" height="3.4" fill="#c6e33c"/><rect x="482.5" y="374.8" width="3.4" height="3.4" fill="#c6e33c"/><rect x="491.3" y="377.3" width="3.4" height="3.4" fill="#c6e33c"/><rect x="500.2" y="404.6" width="3.4" height="3.4" fill="#c6e33c"/><rect x="509.0" y="388.1" width="3.4" height="3.4" fill="#c6e33c"/><rect x="517.8" y="378.4" width="3.4" height="3.4" fill="#c6e33c"/><rect x="526.7" y="377.3" width="3.4" height="3.4" fill="#c6e33c"/><rect x="535.5" y="377.8" width="3.4" height="3.4" fill="#c6e33c"/><rect x="544.3" y="429.6" width="3.4" height="3.4" fill="#c6e33c"/><rect x="553.2" y="374.6" width="3.4" height="3.4" fill="#c6e33c"/><rect x="562.0" y="377.0" width="3.4" height="3.4" fill="#c6e33c"/>
<path d="M360.5,379.0 L369.3,379.0 L378.2,379.0 L387.0,372.2 L395.8,373.8 L404.7,370.0 L413.5,378.1 L422.3,370.7 L431.2,376.4 L440.0,379.5 L448.8,377.5 L457.7,384.3 L466.5,372.8 L475.4,379.8 L484.2,377.8 L493.0,379.0 L501.9,399.3 L510.7,386.7 L519.5,379.5 L528.4,379.0 L537.2,379.3 L546.0,403.5 L554.9,377.1 L563.7,378.7" fill="none" stroke="#6a6a6a" stroke-width="0.9" stroke-dasharray="1,2.5"/><path d="M362.0,376.8V381.2L358.3,379.0Z" fill="#6a6a6a"/><path d="M370.9,376.8V381.2L367.1,379.0Z" fill="#6a6a6a"/><path d="M379.7,376.8V381.2L376.0,379.0Z" fill="#6a6a6a"/><path d="M388.5,370.0V374.4L384.8,372.2Z" fill="#6a6a6a"/><path d="M397.4,371.6V376.0L393.6,373.8Z" fill="#6a6a6a"/><path d="M406.2,367.8V372.2L402.5,370.0Z" fill="#6a6a6a"/><path d="M415.0,375.9V380.3L411.3,378.1Z" fill="#6a6a6a"/><path d="M423.9,368.5V372.9L420.1,370.7Z" fill="#6a6a6a"/><path d="M432.7,374.2V378.6L429.0,376.4Z" fill="#6a6a6a"/><path d="M441.6,377.3V381.7L437.8,379.5Z" fill="#6a6a6a"/><path d="M450.4,375.3V379.7L446.6,377.5Z" fill="#6a6a6a"/><path d="M459.2,382.1V386.5L455.5,384.3Z" fill="#6a6a6a"/><path d="M468.1,370.6V375.0L464.3,372.8Z" fill="#6a6a6a"/><path d="M476.9,377.6V382.0L473.2,379.8Z" fill="#6a6a6a"/><path d="M485.7,375.6V380.0L482.0,377.8Z" fill="#6a6a6a"/><path d="M494.6,376.8V381.2L490.8,379.0Z" fill="#6a6a6a"/><path d="M503.4,397.1V401.5L499.7,399.3Z" fill="#6a6a6a"/><path d="M512.2,384.5V388.9L508.5,386.7Z" fill="#6a6a6a"/><path d="M521.1,377.3V381.7L517.3,379.5Z" fill="#6a6a6a"/><path d="M529.9,376.8V381.2L526.2,379.0Z" fill="#6a6a6a"/><path d="M538.7,377.1V381.5L535.0,379.3Z" fill="#6a6a6a"/><path d="M547.6,401.3V405.7L543.8,403.5Z" fill="#6a6a6a"/><path d="M556.4,374.9V379.3L552.7,377.1Z" fill="#6a6a6a"/><path d="M565.2,376.5V380.9L561.5,378.7Z" fill="#6a6a6a"/>
<path d="M360.5,379.0 L369.3,379.0 L378.2,379.0 L387.0,371.5 L395.8,372.8 L404.7,370.9 L413.5,378.4 L422.3,370.5 L431.2,376.1 L440.0,379.5 L448.8,377.8 L457.7,383.9 L466.5,374.1 L475.4,379.8 L484.2,377.6 L493.0,379.0 L501.9,397.7 L510.7,387.6 L519.5,379.6 L528.4,379.0 L537.2,379.3 L546.0,409.8 L554.9,377.2 L563.7,378.8" fill="none" stroke="#707070" stroke-width="0.9" stroke-dasharray="1,3"/><path d="M359.1,379.0H361.9M360.5,377.6V380.4" stroke="#707070" stroke-width="0.9" fill="none"/><path d="M367.9,379.0H370.7M369.3,377.6V380.4" stroke="#707070" stroke-width="0.9" fill="none"/><path d="M376.8,379.0H379.6M378.2,377.6V380.4" stroke="#707070" stroke-width="0.9" fill="none"/><path d="M385.6,371.5H388.4M387.0,370.1V372.9" stroke="#707070" stroke-width="0.9" fill="none"/><path d="M394.4,372.8H397.2M395.8,371.4V374.2" stroke="#707070" stroke-width="0.9" fill="none"/><path d="M403.3,370.9H406.1M404.7,369.5V372.3" stroke="#707070" stroke-width="0.9" fill="none"/><path d="M412.1,378.4H414.9M413.5,377.0V379.8" stroke="#707070" stroke-width="0.9" fill="none"/><path d="M420.9,370.5H423.7M422.3,369.1V371.9" stroke="#707070" stroke-width="0.9" fill="none"/><path d="M429.8,376.1H432.6M431.2,374.7V377.5" stroke="#707070" stroke-width="0.9" fill="none"/><path d="M438.6,379.5H441.4M440.0,378.1V380.9" stroke="#707070" stroke-width="0.9" fill="none"/><path d="M447.4,377.8H450.2M448.8,376.4V379.2" stroke="#707070" stroke-width="0.9" fill="none"/><path d="M456.3,383.9H459.1M457.7,382.5V385.3" stroke="#707070" stroke-width="0.9" fill="none"/><path d="M465.1,374.1H467.9M466.5,372.7V375.5" stroke="#707070" stroke-width="0.9" fill="none"/><path d="M474.0,379.8H476.8M475.4,378.4V381.2" stroke="#707070" stroke-width="0.9" fill="none"/><path d="M482.8,377.6H485.6M484.2,376.2V379.0" stroke="#707070" stroke-width="0.9" fill="none"/><path d="M491.6,379.0H494.4M493.0,377.6V380.4" stroke="#707070" stroke-width="0.9" fill="none"/><path d="M500.5,397.7H503.3M501.9,396.3V399.1" stroke="#707070" stroke-width="0.9" fill="none"/><path d="M509.3,387.6H512.1M510.7,386.2V389.0" stroke="#707070" stroke-width="0.9" fill="none"/><path d="M518.1,379.6H520.9M519.5,378.2V381.0" stroke="#707070" stroke-width="0.9" fill="none"/><path d="M527.0,379.0H529.8M528.4,377.6V380.4" stroke="#707070" stroke-width="0.9" fill="none"/><path d="M535.8,379.3H538.6M537.2,377.9V380.7" stroke="#707070" stroke-width="0.9" fill="none"/><path d="M544.6,409.8H547.4M546.0,408.4V411.2" stroke="#707070" stroke-width="0.9" fill="none"/><path d="M553.5,377.2H556.3M554.9,375.8V378.6" stroke="#707070" stroke-width="0.9" fill="none"/><path d="M562.3,378.8H565.1M563.7,377.4V380.2" stroke="#707070" stroke-width="0.9" fill="none"/>
<path d="M360.5,379.0 L369.3,379.0 L378.2,379.0 L387.0,362.1 L395.8,365.8 L404.7,358.5 L413.5,377.2 L422.3,357.1 L431.2,372.9 L440.0,380.2 L448.8,376.1 L457.7,391.2 L466.5,366.9 L475.4,381.0 L484.2,376.1 L493.0,379.0 L501.9,412.0 L510.7,392.5 L519.5,380.2 L528.4,379.0 L537.2,379.8 L546.0,441.2 L554.9,375.3 L563.7,378.5" fill="none" stroke="#e3701a" stroke-width="1" stroke-dasharray="2,3,1,3"/><circle cx="360.5" cy="379.0" r="2.0" fill="#e3701a"/><circle cx="369.3" cy="379.0" r="2.0" fill="#e3701a"/><circle cx="378.2" cy="379.0" r="2.0" fill="#e3701a"/><circle cx="387.0" cy="362.1" r="2.0" fill="#e3701a"/><circle cx="395.8" cy="365.8" r="2.0" fill="#e3701a"/><circle cx="404.7" cy="358.5" r="2.0" fill="#e3701a"/><circle cx="413.5" cy="377.2" r="2.0" fill="#e3701a"/><circle cx="422.3" cy="357.1" r="2.0" fill="#e3701a"/><circle cx="431.2" cy="372.9" r="2.0" fill="#e3701a"/><circle cx="440.0" cy="380.2" r="2.0" fill="#e3701a"/><circle cx="448.8" cy="376.1" r="2.0" fill="#e3701a"/><circle cx="457.7" cy="391.2" r="2.0" fill="#e3701a"/><circle cx="466.5" cy="366.9" r="2.0" fill="#e3701a"/><circle cx="475.4" cy="381.0" r="2.0" fill="#e3701a"/><circle cx="484.2" cy="376.1" r="2.0" fill="#e3701a"/><circle cx="493.0" cy="379.0" r="2.0" fill="#e3701a"/><circle cx="501.9" cy="412.0" r="2.0" fill="#e3701a"/><circle cx="510.7" cy="392.5" r="2.0" fill="#e3701a"/><circle cx="519.5" cy="380.2" r="2.0" fill="#e3701a"/><circle cx="528.4" cy="379.0" r="2.0" fill="#e3701a"/><circle cx="537.2" cy="379.8" r="2.0" fill="#e3701a"/><circle cx="546.0" cy="441.2" r="2.0" fill="#e3701a"/><circle cx="554.9" cy="375.3" r="2.0" fill="#e3701a"/><circle cx="563.7" cy="378.5" r="2.0" fill="#e3701a"/>
<path d="M360.5,379.0 L369.3,379.0 L378.2,379.0 L387.0,375.6 L395.8,376.3 L404.7,374.6 L413.5,378.6 L422.3,374.4 L431.2,377.2 L440.0,379.3 L448.8,378.4 L457.7,382.0 L466.5,376.2 L475.4,379.4 L484.2,378.3 L493.0,379.0 L501.9,392.9 L510.7,383.1 L519.5,379.3 L528.4,379.0 L537.2,379.1 L546.0,394.9 L554.9,378.0 L563.7,378.9" fill="none" stroke="#22aaee" stroke-width="1" stroke-dasharray="2.5,3.5"/><path d="M358.2,377.4H362.8L360.5,381.3Z" fill="#22aaee"/><path d="M367.0,377.4H371.6L369.3,381.3Z" fill="#22aaee"/><path d="M375.9,377.4H380.5L378.2,381.3Z" fill="#22aaee"/><path d="M384.7,374.0H389.3L387.0,377.9Z" fill="#22aaee"/><path d="M393.5,374.6H398.1L395.8,378.6Z" fill="#22aaee"/><path d="M402.4,373.0H407.0L404.7,376.9Z" fill="#22aaee"/><path d="M411.2,377.0H415.8L413.5,380.9Z" fill="#22aaee"/><path d="M420.0,372.8H424.6L422.3,376.7Z" fill="#22aaee"/><path d="M428.9,375.6H433.5L431.2,379.5Z" fill="#22aaee"/><path d="M437.7,377.7H442.3L440.0,381.6Z" fill="#22aaee"/><path d="M446.5,376.8H451.1L448.8,380.7Z" fill="#22aaee"/><path d="M455.4,380.4H460.0L457.7,384.3Z" fill="#22aaee"/><path d="M464.2,374.6H468.8L466.5,378.5Z" fill="#22aaee"/><path d="M473.1,377.8H477.7L475.4,381.7Z" fill="#22aaee"/><path d="M481.9,376.7H486.5L484.2,380.6Z" fill="#22aaee"/><path d="M490.7,377.4H495.3L493.0,381.3Z" fill="#22aaee"/><path d="M499.6,391.3H504.2L501.9,395.2Z" fill="#22aaee"/><path d="M508.4,381.5H513.0L510.7,385.4Z" fill="#22aaee"/><path d="M517.2,377.6H521.8L519.5,381.6Z" fill="#22aaee"/><path d="M526.1,377.4H530.7L528.4,381.3Z" fill="#22aaee"/><path d="M534.9,377.5H539.5L537.2,381.4Z" fill="#22aaee"/><path d="M543.7,393.3H548.3L546.0,397.2Z" fill="#22aaee"/><path d="M552.6,376.4H557.2L554.9,380.3Z" fill="#22aaee"/><path d="M561.4,377.2H566.0L563.7,381.2Z" fill="#22aaee"/>
<path d="M360.5,379.0 L369.3,379.0 L378.2,379.0 L387.0,372.5 L395.8,374.4 L404.7,371.7 L413.5,378.4 L422.3,372.1 L431.2,376.6 L440.0,379.4 L448.8,377.7 L457.7,382.8 L466.5,373.6 L475.4,379.8 L484.2,377.7 L493.0,379.0 L501.9,396.1 L510.7,385.8 L519.5,379.4 L528.4,379.0 L537.2,379.2 L546.0,400.7 L554.9,377.5 L563.7,378.8" fill="none" stroke="#8a8a8a" stroke-width="0.9" stroke-dasharray="1,3"/><path d="M359.2,379.0H361.8M360.5,377.7V380.3" stroke="#8a8a8a" stroke-width="0.9" fill="none"/><path d="M368.0,379.0H370.6M369.3,377.7V380.3" stroke="#8a8a8a" stroke-width="0.9" fill="none"/><path d="M376.9,379.0H379.5M378.2,377.7V380.3" stroke="#8a8a8a" stroke-width="0.9" fill="none"/><path d="M385.7,372.5H388.3M387.0,371.2V373.8" stroke="#8a8a8a" stroke-width="0.9" fill="none"/><path d="M394.5,374.4H397.1M395.8,373.1V375.7" stroke="#8a8a8a" stroke-width="0.9" fill="none"/><path d="M403.4,371.7H406.0M404.7,370.4V373.0" stroke="#8a8a8a" stroke-width="0.9" fill="none"/><path d="M412.2,378.4H414.8M413.5,377.1V379.7" stroke="#8a8a8a" stroke-width="0.9" fill="none"/><path d="M421.0,372.1H423.6M422.3,370.8V373.4" stroke="#8a8a8a" stroke-width="0.9" fill="none"/><path d="M429.9,376.6H432.5M431.2,375.3V377.9" stroke="#8a8a8a" stroke-width="0.9" fill="none"/><path d="M438.7,379.4H441.3M440.0,378.1V380.7" stroke="#8a8a8a" stroke-width="0.9" fill="none"/><path d="M447.5,377.7H450.1M448.8,376.4V379.0" stroke="#8a8a8a" stroke-width="0.9" fill="none"/><path d="M456.4,382.8H459.0M457.7,381.5V384.1" stroke="#8a8a8a" stroke-width="0.9" fill="none"/><path d="M465.2,373.6H467.8M466.5,372.3V374.9" stroke="#8a8a8a" stroke-width="0.9" fill="none"/><path d="M474.1,379.8H476.7M475.4,378.5V381.1" stroke="#8a8a8a" stroke-width="0.9" fill="none"/><path d="M482.9,377.7H485.5M484.2,376.4V379.0" stroke="#8a8a8a" stroke-width="0.9" fill="none"/><path d="M491.7,379.0H494.3M493.0,377.7V380.3" stroke="#8a8a8a" stroke-width="0.9" fill="none"/><path d="M500.6,396.1H503.2M501.9,394.8V397.4" stroke="#8a8a8a" stroke-width="0.9" fill="none"/><path d="M509.4,385.8H512.0M510.7,384.5V387.1" stroke="#8a8a8a" stroke-width="0.9" fill="none"/><path d="M518.2,379.4H520.8M519.5,378.1V380.7" stroke="#8a8a8a" stroke-width="0.9" fill="none"/><path d="M527.1,379.0H529.7M528.4,377.7V380.3" stroke="#8a8a8a" stroke-width="0.9" fill="none"/><path d="M535.9,379.2H538.5M537.2,377.9V380.5" stroke="#8a8a8a" stroke-width="0.9" fill="none"/><path d="M544.7,400.7H547.3M546.0,399.4V402.0" stroke="#8a8a8a" stroke-width="0.9" fill="none"/><path d="M553.6,377.5H556.2M554.9,376.2V378.8" stroke="#8a8a8a" stroke-width="0.9" fill="none"/><path d="M562.4,378.8H565.0M563.7,377.5V380.1" stroke="#8a8a8a" stroke-width="0.9" fill="none"/>
<path d="M360.5,379.0 L369.3,379.0 L378.2,379.0 L387.0,374.2 L395.8,375.4 L404.7,371.9 L413.5,378.4 L422.3,371.6 L431.2,377.3 L440.0,379.3 L448.8,378.1 L457.7,383.1 L466.5,375.8 L475.4,379.7 L484.2,378.0 L493.0,379.0 L501.9,394.9 L510.7,383.2 L519.5,379.4 L528.4,379.0 L537.2,379.2 L546.0,395.9 L554.9,378.0 L563.7,378.8" fill="none" stroke="#4a78cc" stroke-width="1.2"/><path d="M359.3,379.0H361.7M360.5,377.8V380.2" stroke="#4a78cc" stroke-width="0.9" fill="none"/><path d="M368.1,379.0H370.5M369.3,377.8V380.2" stroke="#4a78cc" stroke-width="0.9" fill="none"/><path d="M377.0,379.0H379.4M378.2,377.8V380.2" stroke="#4a78cc" stroke-width="0.9" fill="none"/><path d="M385.8,374.2H388.2M387.0,373.0V375.4" stroke="#4a78cc" stroke-width="0.9" fill="none"/><path d="M394.6,375.4H397.0M395.8,374.2V376.6" stroke="#4a78cc" stroke-width="0.9" fill="none"/><path d="M403.5,371.9H405.9M404.7,370.7V373.1" stroke="#4a78cc" stroke-width="0.9" fill="none"/><path d="M412.3,378.4H414.7M413.5,377.2V379.6" stroke="#4a78cc" stroke-width="0.9" fill="none"/><path d="M421.1,371.6H423.5M422.3,370.4V372.8" stroke="#4a78cc" stroke-width="0.9" fill="none"/><path d="M430.0,377.3H432.4M431.2,376.1V378.5" stroke="#4a78cc" stroke-width="0.9" fill="none"/><path d="M438.8,379.3H441.2M440.0,378.1V380.5" stroke="#4a78cc" stroke-width="0.9" fill="none"/><path d="M447.6,378.1H450.0M448.8,376.9V379.3" stroke="#4a78cc" stroke-width="0.9" fill="none"/><path d="M456.5,383.1H458.9M457.7,381.9V384.3" stroke="#4a78cc" stroke-width="0.9" fill="none"/><path d="M465.3,375.8H467.7M466.5,374.6V377.0" stroke="#4a78cc" stroke-width="0.9" fill="none"/><path d="M474.2,379.7H476.6M475.4,378.5V380.9" stroke="#4a78cc" stroke-width="0.9" fill="none"/><path d="M483.0,378.0H485.4M484.2,376.8V379.2" stroke="#4a78cc" stroke-width="0.9" fill="none"/><path d="M491.8,379.0H494.2M493.0,377.8V380.2" stroke="#4a78cc" stroke-width="0.9" fill="none"/><path d="M500.7,394.9H503.1M501.9,393.7V396.1" stroke="#4a78cc" stroke-width="0.9" fill="none"/><path d="M509.5,383.2H511.9M510.7,382.0V384.4" stroke="#4a78cc" stroke-width="0.9" fill="none"/><path d="M518.3,379.4H520.7M519.5,378.2V380.6" stroke="#4a78cc" stroke-width="0.9" fill="none"/><path d="M527.2,379.0H529.6M528.4,377.8V380.2" stroke="#4a78cc" stroke-width="0.9" fill="none"/><path d="M536.0,379.2H538.4M537.2,378.0V380.4" stroke="#4a78cc" stroke-width="0.9" fill="none"/><path d="M544.8,395.9H547.2M546.0,394.7V397.1" stroke="#4a78cc" stroke-width="0.9" fill="none"/><path d="M553.7,378.0H556.1M554.9,376.8V379.2" stroke="#4a78cc" stroke-width="0.9" fill="none"/><path d="M562.5,378.8H564.9M563.7,377.6V380.0" stroke="#4a78cc" stroke-width="0.9" fill="none"/>
<path d="M360.5,379.0 L369.3,379.0 L378.2,379.0 L387.0,371.4 L395.8,371.4 L404.7,369.8 L413.5,377.9 L422.3,367.7 L431.2,375.1 L440.0,379.8 L448.8,377.4 L457.7,387.0 L466.5,372.8 L475.4,379.9 L484.2,377.3 L493.0,379.0 L501.9,402.8 L510.7,388.3 L519.5,379.7 L528.4,379.0 L537.2,379.3 L546.0,418.2 L554.9,377.1 L563.7,378.7" fill="none" stroke="#c6e33c" stroke-width="1" stroke-dasharray="1,3"/><path d="M358.7,377.7H362.3L360.5,380.8Z" fill="#c6e33c"/><path d="M367.5,377.7H371.1L369.3,380.8Z" fill="#c6e33c"/><path d="M376.4,377.7H380.0L378.2,380.8Z" fill="#c6e33c"/><path d="M385.2,370.1H388.8L387.0,373.2Z" fill="#c6e33c"/><path d="M394.0,370.1H397.6L395.8,373.2Z" fill="#c6e33c"/><path d="M402.9,368.5H406.5L404.7,371.6Z" fill="#c6e33c"/><path d="M411.7,376.7H415.3L413.5,379.7Z" fill="#c6e33c"/><path d="M420.5,366.5H424.1L422.3,369.5Z" fill="#c6e33c"/><path d="M429.4,373.9H433.0L431.2,376.9Z" fill="#c6e33c"/><path d="M438.2,378.5H441.8L440.0,381.6Z" fill="#c6e33c"/><path d="M447.0,376.1H450.6L448.8,379.2Z" fill="#c6e33c"/><path d="M455.9,385.8H459.5L457.7,388.8Z" fill="#c6e33c"/><path d="M464.7,371.6H468.3L466.5,374.6Z" fill="#c6e33c"/><path d="M473.6,378.6H477.2L475.4,381.7Z" fill="#c6e33c"/><path d="M482.4,376.1H486.0L484.2,379.1Z" fill="#c6e33c"/><path d="M491.2,377.7H494.8L493.0,380.8Z" fill="#c6e33c"/><path d="M500.1,401.5H503.7L501.9,404.6Z" fill="#c6e33c"/><path d="M508.9,387.0H512.5L510.7,390.1Z" fill="#c6e33c"/><path d="M517.7,378.4H521.3L519.5,381.5Z" fill="#c6e33c"/><path d="M526.6,377.7H530.2L528.4,380.8Z" fill="#c6e33c"/><path d="M535.4,378.1H539.0L537.2,381.1Z" fill="#c6e33c"/><path d="M544.2,417.0H547.8L546.0,420.0Z" fill="#c6e33c"/><path d="M553.1,375.9H556.7L554.9,378.9Z" fill="#c6e33c"/><path d="M561.9,377.4H565.5L563.7,380.5Z" fill="#c6e33c"/>
<path d="M360.5,379.0 L369.3,379.0 L378.2,379.0 L387.0,375.5 L395.8,376.0 L404.7,375.1 L413.5,378.6 L422.3,374.4 L431.2,377.8 L440.0,379.2 L448.8,378.4 L457.7,381.6 L466.5,376.6 L475.4,379.4 L484.2,378.4 L493.0,379.0 L501.9,391.0 L510.7,382.8 L519.5,379.2 L528.4,379.0 L537.2,379.1 L546.0,393.3 L554.9,378.1 L563.7,378.9" fill="none" stroke="#a6d98a" stroke-width="0.9"/><circle cx="360.5" cy="379.0" r="1.9" fill="#a6d98a"/><circle cx="369.3" cy="379.0" r="1.9" fill="#a6d98a"/><circle cx="378.2" cy="379.0" r="1.9" fill="#a6d98a"/><circle cx="387.0" cy="375.5" r="1.9" fill="#a6d98a"/><circle cx="395.8" cy="376.0" r="1.9" fill="#a6d98a"/><circle cx="404.7" cy="375.1" r="1.9" fill="#a6d98a"/><circle cx="413.5" cy="378.6" r="1.9" fill="#a6d98a"/><circle cx="422.3" cy="374.4" r="1.9" fill="#a6d98a"/><circle cx="431.2" cy="377.8" r="1.9" fill="#a6d98a"/><circle cx="440.0" cy="379.2" r="1.9" fill="#a6d98a"/><circle cx="448.8" cy="378.4" r="1.9" fill="#a6d98a"/><circle cx="457.7" cy="381.6" r="1.9" fill="#a6d98a"/><circle cx="466.5" cy="376.6" r="1.9" fill="#a6d98a"/><circle cx="475.4" cy="379.4" r="1.9" fill="#a6d98a"/><circle cx="484.2" cy="378.4" r="1.9" fill="#a6d98a"/><circle cx="493.0" cy="379.0" r="1.9" fill="#a6d98a"/><circle cx="501.9" cy="391.0" r="1.9" fill="#a6d98a"/><circle cx="510.7" cy="382.8" r="1.9" fill="#a6d98a"/><circle cx="519.5" cy="379.2" r="1.9" fill="#a6d98a"/><circle cx="528.4" cy="379.0" r="1.9" fill="#a6d98a"/><circle cx="537.2" cy="379.1" r="1.9" fill="#a6d98a"/><circle cx="546.0" cy="393.3" r="1.9" fill="#a6d98a"/><circle cx="554.9" cy="378.1" r="1.9" fill="#a6d98a"/><circle cx="563.7" cy="378.9" r="1.9" fill="#a6d98a"/>
<path d="M360.5,379.0 L369.3,379.0 L378.2,379.0 L387.0,371.0 L395.8,371.8 L404.7,367.8 L413.5,378.3 L422.3,369.9 L431.2,375.7 L440.0,379.7 L448.8,377.7 L457.7,385.0 L466.5,372.7 L475.4,379.9 L484.2,377.6 L493.0,379.0 L501.9,401.2 L510.7,388.1 L519.5,379.6 L528.4,379.0 L537.2,379.4 L546.0,404.2 L554.9,377.1 L563.7,378.7" fill="none" stroke="#777777" stroke-width="1" stroke-dasharray="1,2"/><rect x="358.6" y="377.1" width="3.8" height="3.8" fill="#777777"/><rect x="367.4" y="377.1" width="3.8" height="3.8" fill="#777777"/><rect x="376.3" y="377.1" width="3.8" height="3.8" fill="#777777"/><rect x="385.1" y="369.1" width="3.8" height="3.8" fill="#777777"/><rect x="393.9" y="369.9" width="3.8" height="3.8" fill="#777777"/><rect x="402.8" y="365.9" width="3.8" height="3.8" fill="#777777"/><rect x="411.6" y="376.4" width="3.8" height="3.8" fill="#777777"/><rect x="420.4" y="368.0" width="3.8" height="3.8" fill="#777777"/><rect x="429.3" y="373.8" width="3.8" height="3.8" fill="#777777"/><rect x="438.1" y="377.8" width="3.8" height="3.8" fill="#777777"/><rect x="446.9" y="375.8" width="3.8" height="3.8" fill="#777777"/><rect x="455.8" y="383.1" width="3.8" height="3.8" fill="#777777"/><rect x="464.6" y="370.8" width="3.8" height="3.8" fill="#777777"/><rect x="473.5" y="378.0" width="3.8" height="3.8" fill="#777777"/><rect x="482.3" y="375.7" width="3.8" height="3.8" fill="#777777"/><rect x="491.1" y="377.1" width="3.8" height="3.8" fill="#777777"/><rect x="500.0" y="399.3" width="3.8" height="3.8" fill="#777777"/><rect x="508.8" y="386.2" width="3.8" height="3.8" fill="#777777"/><rect x="517.6" y="377.7" width="3.8" height="3.8" fill="#777777"/><rect x="526.5" y="377.1" width="3.8" height="3.8" fill="#777777"/><rect x="535.3" y="377.5" width="3.8" height="3.8" fill="#777777"/><rect x="544.1" y="402.3" width="3.8" height="3.8" fill="#777777"/><rect x="553.0" y="375.2" width="3.8" height="3.8" fill="#777777"/><rect x="561.8" y="376.8" width="3.8" height="3.8" fill="#777777"/>
<path d="M360.5,379.0 L369.3,379.0 L378.2,379.0 L387.0,364.9 L395.8,367.9 L404.7,365.4 L413.5,377.8 L422.3,359.1 L431.2,374.6 L440.0,379.9 L448.8,376.2 L457.7,388.6 L466.5,368.0 L475.4,380.6 L484.2,376.6 L493.0,379.0 L501.9,409.1 L510.7,395.1 L519.5,380.0 L528.4,379.0 L537.2,379.7 L546.0,420.1 L554.9,375.7 L563.7,378.6" fill="none" stroke="#e3701a" stroke-width="1" stroke-dasharray="2,3,1,3"/><circle cx="360.5" cy="379.0" r="2.0" fill="#e3701a"/><circle cx="369.3" cy="379.0" r="2.0" fill="#e3701a"/><circle cx="378.2" cy="379.0" r="2.0" fill="#e3701a"/><circle cx="387.0" cy="364.9" r="2.0" fill="#e3701a"/><circle cx="395.8" cy="367.9" r="2.0" fill="#e3701a"/><circle cx="404.7" cy="365.4" r="2.0" fill="#e3701a"/><circle cx="413.5" cy="377.8" r="2.0" fill="#e3701a"/><circle cx="422.3" cy="359.1" r="2.0" fill="#e3701a"/><circle cx="431.2" cy="374.6" r="2.0" fill="#e3701a"/><circle cx="440.0" cy="379.9" r="2.0" fill="#e3701a"/><circle cx="448.8" cy="376.2" r="2.0" fill="#e3701a"/><circle cx="457.7" cy="388.6" r="2.0" fill="#e3701a"/><circle cx="466.5" cy="368.0" r="2.0" fill="#e3701a"/><circle cx="475.4" cy="380.6" r="2.0" fill="#e3701a"/><circle cx="484.2" cy="376.6" r="2.0" fill="#e3701a"/><circle cx="493.0" cy="379.0" r="2.0" fill="#e3701a"/><circle cx="501.9" cy="409.1" r="2.0" fill="#e3701a"/><circle cx="510.7" cy="395.1" r="2.0" fill="#e3701a"/><circle cx="519.5" cy="380.0" r="2.0" fill="#e3701a"/><circle cx="528.4" cy="379.0" r="2.0" fill="#e3701a"/><circle cx="537.2" cy="379.7" r="2.0" fill="#e3701a"/><circle cx="546.0" cy="420.1" r="2.0" fill="#e3701a"/><circle cx="554.9" cy="375.7" r="2.0" fill="#e3701a"/><circle cx="563.7" cy="378.6" r="2.0" fill="#e3701a"/>
<path d="M360.5,379.0 L369.3,379.0 L378.2,379.0 L387.0,376.0 L395.8,377.0 L404.7,374.8 L413.5,378.6 L422.3,374.4 L431.2,377.8 L440.0,379.2 L448.8,378.4 L457.7,381.2 L466.5,377.1 L475.4,379.4 L484.2,378.6 L493.0,379.0 L501.9,389.8 L510.7,381.5 L519.5,379.2 L528.4,379.0 L537.2,379.1 L546.0,388.7 L554.9,378.4 L563.7,378.9" fill="none" stroke="#a6d98a" stroke-width="0.9"/><circle cx="360.5" cy="379.0" r="1.8" fill="#a6d98a"/><circle cx="369.3" cy="379.0" r="1.8" fill="#a6d98a"/><circle cx="378.2" cy="379.0" r="1.8" fill="#a6d98a"/><circle cx="387.0" cy="376.0" r="1.8" fill="#a6d98a"/><circle cx="395.8" cy="377.0" r="1.8" fill="#a6d98a"/><circle cx="404.7" cy="374.8" r="1.8" fill="#a6d98a"/><circle cx="413.5" cy="378.6" r="1.8" fill="#a6d98a"/><circle cx="422.3" cy="374.4" r="1.8" fill="#a6d98a"/><circle cx="431.2" cy="377.8" r="1.8" fill="#a6d98a"/><circle cx="440.0" cy="379.2" r="1.8" fill="#a6d98a"/><circle cx="448.8" cy="378.4" r="1.8" fill="#a6d98a"/><circle cx="457.7" cy="381.2" r="1.8" fill="#a6d98a"/><circle cx="466.5" cy="377.1" r="1.8" fill="#a6d98a"/><circle cx="475.4" cy="379.4" r="1.8" fill="#a6d98a"/><circle cx="484.2" cy="378.6" r="1.8" fill="#a6d98a"/><circle cx="493.0" cy="379.0" r="1.8" fill="#a6d98a"/><circle cx="501.9" cy="389.8" r="1.8" fill="#a6d98a"/><circle cx="510.7" cy="381.5" r="1.8" fill="#a6d98a"/><circle cx="519.5" cy="379.2" r="1.8" fill="#a6d98a"/><circle cx="528.4" cy="379.0" r="1.8" fill="#a6d98a"/><circle cx="537.2" cy="379.1" r="1.8" fill="#a6d98a"/><circle cx="546.0" cy="388.7" r="1.8" fill="#a6d98a"/><circle cx="554.9" cy="378.4" r="1.8" fill="#a6d98a"/><circle cx="563.7" cy="378.9" r="1.8" fill="#a6d98a"/>
<path d="M360.5,378.7 L369.3,379.0 L378.2,379.0 L387.0,350.1 L395.8,356.4 L404.7,343.6 L413.5,351.8 L422.3,351.3 L431.2,377.9 L440.0,379.8 L448.8,377.4 L457.7,385.3 L466.5,371.0 L475.4,380.6 L484.2,377.4 L493.0,379.0 L501.9,405.8 L510.7,388.5 L519.5,379.8 L528.4,379.0 L537.2,379.8 L546.0,463.3 L554.9,376.6 L563.7,378.5" fill="none" stroke="#d98080" stroke-width="1.0" stroke-dasharray="3,5"/><circle cx="360.5" cy="378.7" r="1.5" fill="#d98080"/><circle cx="369.3" cy="379.0" r="1.5" fill="#d98080"/><circle cx="378.2" cy="379.0" r="1.5" fill="#d98080"/><circle cx="387.0" cy="350.1" r="1.5" fill="#d98080"/><circle cx="395.8" cy="356.4" r="1.5" fill="#d98080"/><circle cx="404.7" cy="343.6" r="1.5" fill="#d98080"/><circle cx="413.5" cy="351.8" r="1.5" fill="#d98080"/><circle cx="422.3" cy="351.3" r="1.5" fill="#d98080"/><circle cx="431.2" cy="377.9" r="1.5" fill="#d98080"/><circle cx="440.0" cy="379.8" r="1.5" fill="#d98080"/><circle cx="448.8" cy="377.4" r="1.5" fill="#d98080"/><circle cx="457.7" cy="385.3" r="1.5" fill="#d98080"/><circle cx="466.5" cy="371.0" r="1.5" fill="#d98080"/><circle cx="475.4" cy="380.6" r="1.5" fill="#d98080"/><circle cx="484.2" cy="377.4" r="1.5" fill="#d98080"/><circle cx="493.0" cy="379.0" r="1.5" fill="#d98080"/><circle cx="501.9" cy="405.8" r="1.5" fill="#d98080"/><circle cx="510.7" cy="388.5" r="1.5" fill="#d98080"/><circle cx="519.5" cy="379.8" r="1.5" fill="#d98080"/><circle cx="528.4" cy="379.0" r="1.5" fill="#d98080"/><circle cx="537.2" cy="379.8" r="1.5" fill="#d98080"/><circle cx="546.0" cy="463.3" r="1.5" fill="#d98080"/><circle cx="554.9" cy="376.6" r="1.5" fill="#d98080"/><circle cx="563.7" cy="378.5" r="1.5" fill="#d98080"/>
<path d="M360.5,379.0 L369.3,379.0 L378.2,379.0 L387.0,369.0 L395.8,370.4 L404.7,364.8 L413.5,377.8 L422.3,363.6 L431.2,375.5 L440.0,379.8 L448.8,377.3 L457.7,387.6 L466.5,370.6 L475.4,380.0 L484.2,377.5 L493.0,379.0 L501.9,402.8 L510.7,389.2 L519.5,379.8 L528.4,379.0 L537.2,379.4 L546.0,414.6 L554.9,376.9 L563.7,378.7" fill="none" stroke="#e3701a" stroke-width="1" stroke-dasharray="2,3,1,3"/><circle cx="360.5" cy="379.0" r="2.0" fill="#e3701a"/><circle cx="369.3" cy="379.0" r="2.0" fill="#e3701a"/><circle cx="378.2" cy="379.0" r="2.0" fill="#e3701a"/><circle cx="387.0" cy="369.0" r="2.0" fill="#e3701a"/><circle cx="395.8" cy="370.4" r="2.0" fill="#e3701a"/><circle cx="404.7" cy="364.8" r="2.0" fill="#e3701a"/><circle cx="413.5" cy="377.8" r="2.0" fill="#e3701a"/><circle cx="422.3" cy="363.6" r="2.0" fill="#e3701a"/><circle cx="431.2" cy="375.5" r="2.0" fill="#e3701a"/><circle cx="440.0" cy="379.8" r="2.0" fill="#e3701a"/><circle cx="448.8" cy="377.3" r="2.0" fill="#e3701a"/><circle cx="457.7" cy="387.6" r="2.0" fill="#e3701a"/><circle cx="466.5" cy="370.6" r="2.0" fill="#e3701a"/><circle cx="475.4" cy="380.0" r="2.0" fill="#e3701a"/><circle cx="484.2" cy="377.5" r="2.0" fill="#e3701a"/><circle cx="493.0" cy="379.0" r="2.0" fill="#e3701a"/><circle cx="501.9" cy="402.8" r="2.0" fill="#e3701a"/><circle cx="510.7" cy="389.2" r="2.0" fill="#e3701a"/><circle cx="519.5" cy="379.8" r="2.0" fill="#e3701a"/><circle cx="528.4" cy="379.0" r="2.0" fill="#e3701a"/><circle cx="537.2" cy="379.4" r="2.0" fill="#e3701a"/><circle cx="546.0" cy="414.6" r="2.0" fill="#e3701a"/><circle cx="554.9" cy="376.9" r="2.0" fill="#e3701a"/><circle cx="563.7" cy="378.7" r="2.0" fill="#e3701a"/>
</g>
<line x1="138.30" y1="13.50" x2="138.30" y2="145.40" stroke="#000" stroke-width="2"/>
<line x1="138.30" y1="145.40" x2="138.30" y2="149.40" stroke="#000" stroke-width="1"/>
<line x1="221.50" y1="13.50" x2="221.50" y2="145.40" stroke="#000" stroke-width="2"/>
<line x1="221.50" y1="145.40" x2="221.50" y2="149.40" stroke="#000" stroke-width="1"/>
<line x1="73.50" y1="13.50" x2="73.50" y2="145.40" stroke="#000" stroke-width="1"/>
<line x1="73.00" y1="145.40" x2="286.50" y2="145.40" stroke="#000" stroke-width="1.1"/>
<line x1="69.50" y1="145.40" x2="73.50" y2="145.40" stroke="#000" stroke-width="1"/>
<text transform="translate(65.50,149.30) scale(1.0,1)" text-anchor="end">0.0</text>
<line x1="69.50" y1="103.04" x2="73.50" y2="103.04" stroke="#000" stroke-width="1"/>
<text transform="translate(65.50,106.94) scale(1.0,1)" text-anchor="end">20.0</text>
<line x1="69.50" y1="60.68" x2="73.50" y2="60.68" stroke="#000" stroke-width="1"/>
<text transform="translate(65.50,64.58) scale(1.0,1)" text-anchor="end">40.0</text>
<line x1="69.50" y1="18.32" x2="73.50" y2="18.32" stroke="#000" stroke-width="1"/>
<text transform="translate(65.50,22.22) scale(1.0,1)" text-anchor="end">60.0</text>
<text transform="translate(138.30,161.00) scale(1.0,1)" text-anchor="middle">8:00</text>
<text transform="translate(221.50,161.00) scale(1.0,1)" text-anchor="middle">17:00</text>
<line x1="419.30" y1="14.10" x2="419.30" y2="146.40" stroke="#000" stroke-width="2"/>
<line x1="419.30" y1="146.40" x2="419.30" y2="150.40" stroke="#000" stroke-width="1"/>
<line x1="500.40" y1="14.10" x2="500.40" y2="146.40" stroke="#000" stroke-width="2"/>
<line x1="500.40" y1="146.40" x2="500.40" y2="150.40" stroke="#000" stroke-width="1"/>
<line x1="356.50" y1="14.10" x2="356.50" y2="146.40" stroke="#000" stroke-width="1"/>
<line x1="356.00" y1="146.40" x2="563.70" y2="146.40" stroke="#000" stroke-width="1.3"/>
<line x1="352.50" y1="146.35" x2="356.50" y2="146.35" stroke="#000" stroke-width="1"/>
<text transform="translate(348.50,150.25) scale(1.0,1)" text-anchor="end">0</text>
<line x1="352.50" y1="130.58" x2="356.50" y2="130.58" stroke="#000" stroke-width="1"/>
<text transform="translate(348.50,134.48) scale(1.0,1)" text-anchor="end">150</text>
<line x1="352.50" y1="114.82" x2="356.50" y2="114.82" stroke="#000" stroke-width="1"/>
<text transform="translate(348.50,118.72) scale(1.0,1)" text-anchor="end">300</text>
<line x1="352.50" y1="99.05" x2="356.50" y2="99.05" stroke="#000" stroke-width="1"/>
<text transform="translate(348.50,102.95) scale(1.0,1)" text-anchor="end">450</text>
<line x1="352.50" y1="83.29" x2="356.50" y2="83.29" stroke="#000" stroke-width="1"/>
<text transform="translate(348.50,87.19) scale(1.0,1)" text-anchor="end">600</text>
<line x1="352.50" y1="67.52" x2="356.50" y2="67.52" stroke="#000" stroke-width="1"/>
<text transform="translate(348.50,71.42) scale(1.0,1)" text-anchor="end">750</text>
<line x1="352.50" y1="51.76" x2="356.50" y2="51.76" stroke="#000" stroke-width="1"/>
<text transform="translate(348.50,55.66) scale(1.0,1)" text-anchor="end">900</text>
<line x1="352.50" y1="35.99" x2="356.50" y2="35.99" stroke="#000" stroke-width="1"/>
<text transform="translate(348.50,39.89) scale(1.0,1)" text-anchor="end">1,050</text>
<line x1="352.50" y1="20.23" x2="356.50" y2="20.23" stroke="#000" stroke-width="1"/>
<text transform="translate(348.50,24.13) scale(1.0,1)" text-anchor="end">1,200</text>
<text transform="translate(419.30,162.00) scale(1.0,1)" text-anchor="middle">8:00</text>
<text transform="translate(500.40,162.00) scale(1.0,1)" text-anchor="middle">17:00</text>
<line x1="140.00" y1="178.40" x2="140.00" y2="306.90" stroke="#000" stroke-width="2"/>
<line x1="140.00" y1="306.90" x2="140.00" y2="310.90" stroke="#000" stroke-width="1"/>
<line x1="223.10" y1="178.40" x2="223.10" y2="306.90" stroke="#000" stroke-width="2"/>
<line x1="223.10" y1="306.90" x2="223.10" y2="310.90" stroke="#000" stroke-width="1"/>
<line x1="75.50" y1="178.40" x2="75.50" y2="306.90" stroke="#000" stroke-width="1"/>
<line x1="75.00" y1="306.90" x2="288.70" y2="306.90" stroke="#333" stroke-width="1.4"/>
<line x1="71.50" y1="306.90" x2="75.50" y2="306.90" stroke="#000" stroke-width="1"/>
<text transform="translate(67.50,310.80) scale(1.0,1)" text-anchor="end">0.0</text>
<line x1="71.50" y1="274.92" x2="75.50" y2="274.92" stroke="#000" stroke-width="1"/>
<text transform="translate(67.50,278.82) scale(1.0,1)" text-anchor="end">20.0</text>
<line x1="71.50" y1="242.94" x2="75.50" y2="242.94" stroke="#000" stroke-width="1"/>
<text transform="translate(67.50,246.84) scale(1.0,1)" text-anchor="end">40.0</text>
<line x1="71.50" y1="210.96" x2="75.50" y2="210.96" stroke="#000" stroke-width="1"/>
<text transform="translate(67.50,214.86) scale(1.0,1)" text-anchor="end">60.0</text>
<line x1="71.50" y1="178.98" x2="75.50" y2="178.98" stroke="#000" stroke-width="1"/>
<text transform="translate(67.50,182.88) scale(1.0,1)" text-anchor="end">80.0</text>
<text transform="translate(140.00,322.70) scale(1.0,1)" text-anchor="middle">8:00</text>
<text transform="translate(223.10,322.70) scale(1.0,1)" text-anchor="middle">17:00</text>
<line x1="419.20" y1="176.10" x2="419.20" y2="307.80" stroke="#000" stroke-width="2"/>
<line x1="419.20" y1="307.80" x2="419.20" y2="311.80" stroke="#000" stroke-width="1"/>
<line x1="500.40" y1="176.10" x2="500.40" y2="307.80" stroke="#000" stroke-width="2"/>
<line x1="500.40" y1="307.80" x2="500.40" y2="311.80" stroke="#000" stroke-width="1"/>
<line x1="356.50" y1="176.10" x2="356.50" y2="307.80" stroke="#000" stroke-width="1"/>
<line x1="356.00" y1="307.80" x2="563.70" y2="307.80" stroke="#555" stroke-width="1.8"/>
<line x1="352.50" y1="307.80" x2="356.50" y2="307.80" stroke="#000" stroke-width="1"/>
<text transform="translate(348.50,311.70) scale(1.0,1)" text-anchor="end">0</text>
<line x1="352.50" y1="291.95" x2="356.50" y2="291.95" stroke="#000" stroke-width="1"/>
<text transform="translate(348.50,295.85) scale(1.0,1)" text-anchor="end">150</text>
<line x1="352.50" y1="276.10" x2="356.50" y2="276.10" stroke="#000" stroke-width="1"/>
<text transform="translate(348.50,280.00) scale(1.0,1)" text-anchor="end">300</text>
<line x1="352.50" y1="260.25" x2="356.50" y2="260.25" stroke="#000" stroke-width="1"/>
<text transform="translate(348.50,264.15) scale(1.0,1)" text-anchor="end">450</text>
<line x1="352.50" y1="244.40" x2="356.50" y2="244.40" stroke="#000" stroke-width="1"/>
<text transform="translate(348.50,248.30) scale(1.0,1)" text-anchor="end">600</text>
<line x1="352.50" y1="228.55" x2="356.50" y2="228.55" stroke="#000" stroke-width="1"/>
<text transform="translate(348.50,232.45) scale(1.0,1)" text-anchor="end">750</text>
<line x1="352.50" y1="212.70" x2="356.50" y2="212.70" stroke="#000" stroke-width="1"/>
<text transform="translate(348.50,216.60) scale(1.0,1)" text-anchor="end">900</text>
<line x1="352.50" y1="196.85" x2="356.50" y2="196.85" stroke="#000" stroke-width="1"/>
<text transform="translate(348.50,200.75) scale(1.0,1)" text-anchor="end">1,050</text>
<line x1="352.50" y1="181.00" x2="356.50" y2="181.00" stroke="#000" stroke-width="1"/>
<text transform="translate(348.50,184.90) scale(1.0,1)" text-anchor="end">1,200</text>
<text transform="translate(419.20,323.50) scale(1.0,1)" text-anchor="middle">8:00</text>
<text transform="translate(500.40,323.50) scale(1.0,1)" text-anchor="middle">17:00</text>
<line x1="138.80" y1="337.20" x2="138.80" y2="468.30" stroke="#000" stroke-width="2"/>
<line x1="138.80" y1="468.30" x2="138.80" y2="472.30" stroke="#000" stroke-width="1"/>
<line x1="223.50" y1="337.20" x2="223.50" y2="468.30" stroke="#000" stroke-width="2"/>
<line x1="223.50" y1="468.30" x2="223.50" y2="472.30" stroke="#000" stroke-width="1"/>
<line x1="73.50" y1="337.20" x2="73.50" y2="468.30" stroke="#000" stroke-width="1"/>
<line x1="73.00" y1="468.30" x2="289.90" y2="468.30" stroke="#000" stroke-width="1.3"/>
<line x1="69.50" y1="459.78" x2="73.50" y2="459.78" stroke="#000" stroke-width="1"/>
<text transform="translate(65.50,463.68) scale(1.0,1)" text-anchor="end">-20</text>
<line x1="69.50" y1="429.90" x2="73.50" y2="429.90" stroke="#000" stroke-width="1"/>
<text transform="translate(65.50,433.80) scale(1.0,1)" text-anchor="end">0</text>
<line x1="69.50" y1="400.02" x2="73.50" y2="400.02" stroke="#000" stroke-width="1"/>
<text transform="translate(65.50,403.92) scale(1.0,1)" text-anchor="end">20</text>
<line x1="69.50" y1="370.14" x2="73.50" y2="370.14" stroke="#000" stroke-width="1"/>
<text transform="translate(65.50,374.04) scale(1.0,1)" text-anchor="end">40</text>
<line x1="69.50" y1="340.26" x2="73.50" y2="340.26" stroke="#000" stroke-width="1"/>
<text transform="translate(65.50,344.16) scale(1.0,1)" text-anchor="end">60</text>
<text transform="translate(138.80,484.30) scale(1.0,1)" text-anchor="middle">8:00</text>
<text transform="translate(223.50,484.30) scale(1.0,1)" text-anchor="middle">17:00</text>
<line x1="422.20" y1="337.20" x2="422.20" y2="469.50" stroke="#000" stroke-width="2"/>
<line x1="422.20" y1="469.50" x2="422.20" y2="473.50" stroke="#000" stroke-width="1"/>
<line x1="501.30" y1="337.20" x2="501.30" y2="469.50" stroke="#000" stroke-width="2"/>
<line x1="501.30" y1="469.50" x2="501.30" y2="473.50" stroke="#000" stroke-width="1"/>
<line x1="360.50" y1="337.20" x2="360.50" y2="469.50" stroke="#000" stroke-width="1"/>
<line x1="360.00" y1="469.50" x2="563.70" y2="469.50" stroke="#000" stroke-width="1.3"/>
<line x1="356.50" y1="442.50" x2="360.50" y2="442.50" stroke="#000" stroke-width="1"/>
<text transform="translate(352.50,446.40) scale(0.93,1)" text-anchor="end">-400</text>
<line x1="356.50" y1="410.74" x2="360.50" y2="410.74" stroke="#000" stroke-width="1"/>
<text transform="translate(352.50,414.64) scale(0.93,1)" text-anchor="end">-200</text>
<line x1="356.50" y1="378.97" x2="360.50" y2="378.97" stroke="#000" stroke-width="1"/>
<text transform="translate(352.50,382.87) scale(0.93,1)" text-anchor="end">0</text>
<line x1="356.50" y1="347.20" x2="360.50" y2="347.20" stroke="#000" stroke-width="1"/>
<text transform="translate(352.50,351.10) scale(0.93,1)" text-anchor="end">200</text>
<text transform="translate(422.20,485.40) scale(0.93,1)" text-anchor="middle">8:00</text>
<text transform="translate(501.30,485.40) scale(0.93,1)" text-anchor="middle">17:00</text>
<text x="181.6" y="8.0" text-anchor="middle" font-weight="bold">heating</text>
<text x="464.3" y="8.0" text-anchor="middle" font-weight="bold">cooling</text>
<text x="181.5" y="498.6" text-anchor="middle">hour</text>
<text transform="translate(461.9,498.6) scale(0.93,1)" text-anchor="middle">hour</text>
<text transform="translate(8.1,84.2) rotate(-90)" text-anchor="middle" font-weight="bold">DST</text>
<text transform="translate(8.1,242.6) rotate(-90)" text-anchor="middle" font-weight="bold">without DST</text>
<text transform="translate(8.1,391.3) rotate(-90)" text-anchor="middle" font-weight="bold">difference (DST - without DST)</text>
<text transform="translate(28.30,81.60) rotate(-90)" text-anchor="middle">demand (kW)</text>
<text transform="translate(311.50,81.60) rotate(-90)" text-anchor="middle">demand (kW)</text>
<text transform="translate(28.50,243.40) rotate(-90)" text-anchor="middle">demand (kW)</text>
<text transform="translate(311.20,242.50) rotate(-90)" text-anchor="middle">demand (kW)</text>
<text transform="translate(28.50,403.70) rotate(-90)" text-anchor="middle">demand (kW)</text>
<text transform="translate(311.70,403.00) rotate(-90)" text-anchor="middle">demand (kW)</text>
<g opacity="0.7"><line x1="96" y1="513.1" x2="111.7" y2="513.1" stroke="#8a2be2" stroke-width="1" stroke-dasharray="2.5,2.5,1,2.5"/>
<path d="M105.4,510.9V515.3L101.7,513.1Z" fill="#8a2be2"/></g>
<text x="115.5" y="515.5" font-size="9.7" fill="#111">Albuquerque</text>
<g opacity="0.7"><line x1="96" y1="524.3" x2="111.7" y2="524.3" stroke="#c6e33c" stroke-width="1" stroke-dasharray="2,4"/>
<rect x="102.3" y="522.8" width="3.1" height="3.1" fill="#c6e33c"/></g>
<text x="115.5" y="527.4" font-size="9.7" fill="#111">Atlanta</text>
<g opacity="0.7"><line x1="96" y1="535.5" x2="111.7" y2="535.5" stroke="#6a6a6a" stroke-width="0.9" stroke-dasharray="1,2.5"/>
<path d="M105.2,533.5V537.5L101.9,535.5Z" fill="#6a6a6a"/></g>
<text x="115.5" y="537.8" font-size="9.7" fill="#111">Buffalo</text>
<g opacity="0.7"><line x1="181" y1="513.1" x2="196.5" y2="513.1" stroke="#707070" stroke-width="0.9" stroke-dasharray="1,3"/>
<path d="M187.5,513.1H190.0M188.8,511.8V514.4" stroke="#707070" stroke-width="0.9" fill="none"/></g>
<text x="201.7" y="515.5" font-size="9.7" fill="#111">Denver</text>
<g opacity="0.7"><line x1="181" y1="524.3" x2="196.5" y2="524.3" stroke="#e3701a" stroke-width="1" stroke-dasharray="2,3,1,3"/>
<circle cx="188.8" cy="524.3" r="1.8" fill="#e3701a"/></g>
<text x="201.7" y="527.4" font-size="9.7" fill="#111">El Paso</text>
<g opacity="0.7"><line x1="181" y1="535.5" x2="196.5" y2="535.5" stroke="#22aaee" stroke-width="1" stroke-dasharray="2.5,3.5"/>
<path d="M186.7,534.1H190.8L188.8,537.6Z" fill="#22aaee"/></g>
<text x="201.7" y="537.8" font-size="9.7" fill="#111">Fair Banks</text>
<g opacity="0.7"><line x1="253.6" y1="513.1" x2="269.2" y2="513.1" stroke="#8a8a8a" stroke-width="0.9" stroke-dasharray="1,3"/>
<path d="M260.2,513.1H262.6M261.4,511.9V514.3" stroke="#8a8a8a" stroke-width="0.9" fill="none"/></g>
<text x="274.4" y="515.5" font-size="9.7" fill="#111">Great Falls</text>
<g opacity="0.7"><line x1="253.6" y1="524.3" x2="269.2" y2="524.3" stroke="#4a78cc" stroke-width="1.2"/>
<path d="M260.3,524.3H262.5M261.4,523.2V525.4" stroke="#4a78cc" stroke-width="0.9" fill="none"/></g>
<text x="274.4" y="527.4" font-size="9.7" fill="#111">International Falls</text>
<g opacity="0.7"><line x1="253.6" y1="535.5" x2="269.2" y2="535.5" stroke="#c6e33c" stroke-width="1" stroke-dasharray="1,3"/>
<path d="M259.8,534.4H263.0L261.4,537.1Z" fill="#c6e33c"/></g>
<text x="274.4" y="537.8" font-size="9.7" fill="#111">New York</text>
<g opacity="0.7"><line x1="354.6" y1="513.1" x2="371.3" y2="513.1" stroke="#a6d98a" stroke-width="0.9"/>
<circle cx="363.0" cy="513.1" r="1.7" fill="#a6d98a"/></g>
<text x="375.5" y="515.5" font-size="9.7" fill="#111">Port Angeles</text>
<g opacity="0.7"><line x1="354.6" y1="524.3" x2="371.3" y2="524.3" stroke="#777777" stroke-width="1" stroke-dasharray="1,2"/>
<rect x="361.2" y="522.6" width="3.4" height="3.4" fill="#777777"/></g>
<text x="375.5" y="527.4" font-size="9.7" fill="#111">Rochester</text>
<g opacity="0.7"><line x1="354.6" y1="535.5" x2="371.3" y2="535.5" stroke="#e3701a" stroke-width="1" stroke-dasharray="2,3,1,3"/>
<circle cx="363.0" cy="535.5" r="1.8" fill="#e3701a"/></g>
<text x="375.5" y="537.8" font-size="9.7" fill="#111">San Diego</text>
<g opacity="0.7"><line x1="436.5" y1="513.1" x2="452.2" y2="513.1" stroke="#a6d98a" stroke-width="0.9"/>
<circle cx="444.4" cy="513.1" r="1.6" fill="#a6d98a"/></g>
<text x="457.9" y="515.5" font-size="9.7" fill="#111">Seattle</text>
<g opacity="0.7"><line x1="436.5" y1="524.3" x2="452.2" y2="524.3" stroke="#d98080" stroke-width="1.0" stroke-dasharray="3,5"/>
<circle cx="444.4" cy="524.3" r="1.4" fill="#d98080"/></g>
<text x="457.9" y="527.4" font-size="9.7" fill="#111">Tampa</text>
<g opacity="0.7"><line x1="436.5" y1="535.5" x2="452.2" y2="535.5" stroke="#e3701a" stroke-width="1" stroke-dasharray="2,3,1,3"/>
<circle cx="444.4" cy="535.5" r="1.8" fill="#e3701a"/></g>
<text x="457.9" y="537.8" font-size="9.7" fill="#111">Tucson</text>
</g></svg>
</body></html>
